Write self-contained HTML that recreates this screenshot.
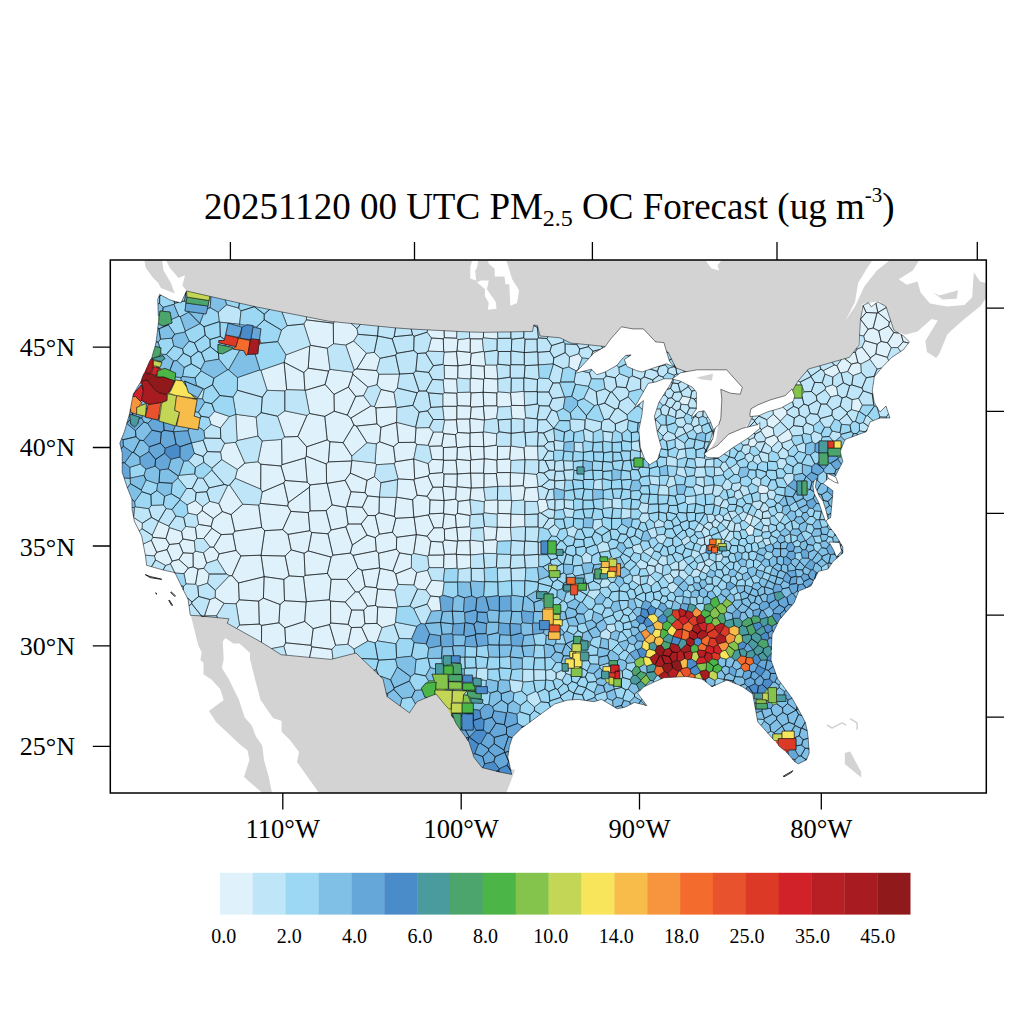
<!DOCTYPE html>
<html><head><meta charset="utf-8"><style>
html,body{margin:0;padding:0;background:#fff;width:1024px;height:1024px;overflow:hidden}
svg{display:block}
text{font-family:"Liberation Serif",serif;fill:#000}
</style></head><body>
<svg width="1024" height="1024" viewBox="0 0 1024 1024">
<defs><clipPath id="fr"><rect x="110.3" y="260" width="876" height="533"/></clipPath></defs>
<text x="204" y="218.5" font-size="37">20251120 00 UTC PM<tspan font-size="24" dy="7">2.5</tspan><tspan dy="-7"> OC Forecast (ug m</tspan><tspan font-size="21" dy="-17">-3</tspan><tspan dy="17">)</tspan></text>
<g clip-path="url(#fr)">
<polygon points="144.4,260.0 145.6,267.7 153.2,277.9 158.3,283.0 160.9,288.0 173.6,293.0 179.9,295.6 186.0,300.0 254.0,312.0 330.0,328.0 400.0,336.0 476.0,338.0 532.0,338.0 560.0,345.0 606.0,352.0 650.0,348.0 676.0,372.0 722.0,400.0 716.0,440.0 706.0,456.0 735.0,442.0 752.0,418.0 790.0,402.0 800.0,385.0 850.0,362.0 858.0,345.0 862.0,304.0 880.0,301.0 894.0,330.0 905.0,334.7 917.5,331.6 931.6,319.0 937.8,320.6 925.3,340.9 926.9,351.9 936.2,358.1 939.4,353.4 947.2,334.7 951.9,330.0 964.4,319.0 980.0,306.6 986.2,298.0 986.2,260.0" fill="#d3d3d3"/>
<polygon points="262.5,793.0 244.0,777.0 249.4,760.0 247.6,750.4 240.0,744.5 216.0,722.0 209.0,711.0 223.7,700.0 220.2,689.1 211.4,679.4 203.5,674.2 203.5,662.7 200.4,660.1 201.7,652.2 198.2,645.2 195.5,634.6 190.0,612.0 207.0,611.0 229.0,613.0 249.0,630.0 265.0,639.0 281.0,648.0 331.0,653.0 356.0,647.0 383.0,673.0 387.0,690.0 401.0,700.0 409.7,707.0 417.0,695.0 426.0,692.0 436.0,688.0 446.5,700.0 456.6,718.0 469.0,736.0 474.0,751.0 482.0,761.0 502.0,767.0 515.0,770.0 511.7,779.0 506.2,793.0" fill="#d3d3d3"/>
<polygon points="844.8,753.0 850.2,751.6 861.2,772.1 861.2,777.6 844.8,763.9" fill="#d3d3d3"/>
<polygon points="919.0,260.5 912.8,270.6 898.8,279.2 906.6,284.7 917.5,281.6 920.6,292.5 930.0,303.4 947.2,306.6 964.4,305.0 972.2,297.2 973.8,272.2 980.0,281.6 986.2,283.1 986.2,260.5" fill="#ffffff"/>
<polygon points="845.6,320.6 855.0,301.9 858.1,283.1 867.5,267.5 872.2,260.5 889.4,260.5 876.9,270.6 864.4,286.2 855.0,306.6" fill="#ffffff"/>
<polygon points="705.8,260.5 721.4,260.5 717.5,265.2 719.0,270.6 711.2,268.3" fill="#ffffff"/>
<polygon points="472.2,260.5 478.1,260.5 477.1,267.7 475.2,270.6 476.1,280.4 470.3,278.4 470.3,266.7" fill="#ffffff"/>
<polygon points="477.1,282.3 481.0,280.4 488.8,280.4 486.9,289.2 495.7,301.9 496.6,308.7 487.9,309.7 488.8,302.9 484.9,296.0 484.9,289.2" fill="#ffffff"/>
<polygon points="487.9,260.5 506.4,260.5 512.3,279.4 519.1,290.2 517.1,302.9 510.3,305.8 509.3,284.3 505.4,284.3 504.5,276.5 494.7,276.5 494.7,268.7 488.8,263.8" fill="#ffffff"/>
<polygon points="162.1,260.0 166.0,260.0 169.7,267.7 178.6,277.9 185.0,275.3 182.4,285.5 186.2,290.5 184.0,300.0 181.0,303.0 176.0,297.0 171.0,283.0 163.4,270.2" fill="#ffffff"/>
<polygon points="225.4,638.1 233.3,643.4 239.5,643.4 250.0,653.1 250.0,659.2 255.3,680.3 260.6,700.0 273.0,718.0 281.6,721.0 281.6,731.7 290.0,740.0 299.0,752.0 297.0,762.0 319.0,793.0 272.0,793.0 269.0,778.0 264.0,760.0 262.3,745.8 255.8,736.3 251.8,725.6 244.7,717.6 239.0,700.0 229.0,679.4 221.9,668.0 223.7,659.2 222.8,641.6" fill="#ffffff"/>
<polygon points="933.1,292.5 939.4,295.6 958.1,290.2 956.6,298.8 942.5,299.5" fill="#d3d3d3"/>
<path fill="#66a7da" d="M239.2 326.4l3 0.8l3.9-2l-6.4-1zM256.7 326.9l-3.7-0.6l-1.4 8.7l1.5-7.8l3.9 0.8z"/><path fill="#4a8bc9" d="M463.3 683.1l10 0l0-2.9l-0.9-0.1l0 2.1l-9.1 0z"/><path fill="#4a9b9d" d="M441.8 663.7l1.6 0l0-5.4l-1.6 0zM471.2 701.1l-0.6-3.1l4.1 0.3l-3.2-0.3l-3.2-1.9l1.7 4.8zM478 698.6l-3.3-0.3l-0.3 0.2l4.2 0.7zM157.9 360.7l-4.7-1.2l0 1l4.5 1zM159.2 356.2l-0.4-0.1l-4.8 1.8l5.1-1.3zM152.2 355.9l-1.7 3.6l2.7 0l-1.9-0.9l0.9-0.2zM570.2 591.7l0.2-0.7l-6.1 0l1.9 1.7zM581.1 640l0 0.9l5.9 0l-5-1.4zM586.2 650.7l0.5-0.7l-5.6 0l0 0.7zM590.6 644.8l-0.3-2.9l-2.3-0.7l0 7.1zM578.1 585l0-1.6l-3 0l0 0.2zM586.8 660.6l-4.9 0l0 0.7zM589.6 655.4l-0.9-1.2l0 4.6zM586.2 650.7l-5.1 0l0 0.8l-0.7 0l-0.1 1.5l0.1-0.7l7 0z"/><path fill="#4ba56c" d="M448.7 679.5l0-4.8l4.2 0l0-0.4l-5.1 0l0.1 5.2zM548.5 593l-1.4 0.3l0 0.7l1.9 0zM541.3 599.8l2.8 2.9l0-4.2l-2.7 0zM461 716.7l0 10.9l0.9-0.2l0-10.7zM453.2 717.2l-0.2 0.8l2.5 4.5l-1.9-5.3zM161.4 354.3l-0.8-3.2l-0.6 4.4zM158.3 315.8l0 7.8l1.1-8.4zM829.5 463.2l-1.5-3l0 4.5zM841 454.4l0 1.6l-4.1 0l1.1 2l3.6-1.3zM841.6 448l-0.6 0l0 1.7zM809.1 489.5l-2.1-1.6l0 3.6zM828.8 456l-0.8 0l0 2z"/><path fill="#4bb548" d="M443.8 669.6l0-3.7l9 0l-1.5-3l0 1.7l-7.9 0.9l0 4.2zM443.4 669.7l0 4.6l0.4 0l0-4.7zM428.4 680.7l-0.8 2.2l7.2-0.6l-0.4-1.6zM463.2 690.3l11.8 0.9l0-1.1zM474.8 685.7l-0.3 0l0.4 3.8zM466.7 713.7l0.8-0.8l-1.4 0z"/><path fill="#84c44d" d="M439.4 689.2l-3 0l-0.6-2.5l-0.4 3.4l3.1 0.1zM458.4 702.7l0.5 0.6l12.6 0l-0.3-2.2l-1.2-0.2l0.6 1.5zM804.3 391.8l-2.3-5.5l0 8.3zM757.1 699.7l5.5 0l0-0.9l-5.5 0zM768 689.1l-0.6 0l-3.8 4.1l4.6 0zM772.9 705.2l3.9-1.2l0.8-2.5l-1.1 0l0 1l-5.4 0z"/><path fill="#c3d655" d="M554.6 613.7l-1.4 0l0 0.7l1.5 0zM452.2 691.2l-0.6 12.1l5.6 0l1.4-0.9l-6.4 0l0.4-11.3zM444.8 689.2l-5.4 0l-0.9 1l7.8 0.2zM451.8 712.9l-0.5 0l0-3.5l-2.6-0.8l-3.2-3.2l5.6 9.3l0.5 0.1zM457.2 703.3l1.7 0l-0.5-0.6zM580.4 651.5l-4.6 0l0 1.5l4.5 0zM169 391.9l-2.1 2.8l0 5.8l1-6.8l8.7 2l-7.8-2.5l1.1-1.3zM155.5 367.2l0.8-0.9l-3.1-0.9l0 1zM164.5 401.4l-3.5 1.4l-2 11.9l0.9 0.7l2.1-12.9zM718 547.5l0-2l-0.9 0l0.1 1.5zM611.4 557l-3.8 2.3l0 2.2l1.5 0l0-2.3l5 0zM606.5 682.6l2.6 0.3l0-4.2l-4.2 0zM775.4 741.8l2-1.3l-3.1 0z"/><path fill="#f8e55b" d="M571.8 659l1 0l0-1.5l-1.9 0zM580.3 666.6l-6 0l0 1.5l4.4 0l1.6-1zM178.9 396.1l13.1 2.5l0.4-0.4l-0.1-0.2z"/><path fill="#f8bc4b" d="M544.5 609.1l8.7 0l0-1.5l-8.5 0zM553.2 625l0-0.7l-3.8 0l0 0.7zM601.1 564.1l0.2 3.4l0.3 0l0-3.8z"/><path fill="#f7943e" d="M141 403.2l-2.1 3.3l3.4-1.4zM618.8 575.8l-2.1 0l0-3.7l-1.5 0l0 3.1l2 1.3zM621 568.2l-0.5-0.1l0 1.7z"/><path fill="#f36b2d" d="M709.4 545l5.6 0l0 2l2.2 0l-0.1-1.5l-1.1 0l0-1l-6.2 0z"/><path fill="#e8522c" d="M579.6 590.8l-0.1-0.6l-1.4 0l0-5.2l-3-1.4l0 0.6l-2.7 0l-0.2 0.7l5.2 0l0 7.5z"/><path fill="#dc3a27" d="M237.5 337l-11.7-2l11.5 2.9zM778.4 745.3l0-4.8l-1 0l-2 1.3zM789.8 749.8l-6.3 0l2.5 2.1l2.1 0.1z"/><path fill="#d12229" d="M156.2 366.6l-0.7 0.6l3.5 1.1l-0.7 2.5l4-1.5zM152.5 369.5l-1.6 2.5l0.7 1zM619.8 669.9l-0.8-1.8l0 2.1z"/><path fill="#a81c21" d="M260.9 343.3l-1.3-5.1l-0.9 7.3zM146.1 368.2l0.8 0.5l1.9-5.8zM148.8 373.9l2.5 0.3l0.3-1.2l-0.7-1l-0.6 1.2l-1 0zM146.1 368.2l-2.1 5.1l4.8 0.6l0.5-0.7l-3.9 0l1.5-4.5zM139.9 383.1l2 0.1l-0.4-2.2l1-4.3z"/><path fill="#90191b" d="M153 375l4.1 2.1l0-1.9l-4.5-0.8zM152.6 374.4l-1.3-0.2l1.7 0.8z"/><g stroke="#000" stroke-width="0.5" stroke-linejoin="round"><path fill="#dff2fb" d="M334.4 321.8l-6-0.6l-21.9-4.4l-0.2 3l27 3.4zM310.5 345.3l16.8 2.9l6.2-4.4l-0.2-20.6l-27-3.4l-2.5 4.2zM357 328.6l-5.8-5.1l-16.8-1.7l-1.1 1.4l0.2 20.6l12.2 1.3l8-4.1l4.3-6.7zM284.1 362.3l19.7 10.2l4.4-4.3l1.6-22.3l-23.9 9zM310.5 345.3l-0.7 0.6l-1.6 22.3l20.4 2.9l1.4-1.8l-2.7-21.1zM284.8 391l1.9-1.3l-2.6-27.4l-23.3 8l6.3 20zM304.9 390.1l-1.1-17.6l-19.7-10.2l2.6 27.4zM303.8 372.5l1.1 17.6l0.3 0.3l19.9-5.9l3.5-13.4l-20.4-2.9zM330 369.3l-1.4 1.8l-3.5 13.4l8.9 9.9l14.4-7.3l4.4-12.9l-0.2-2zM309.5 413.5l15.3 2.9l9.5-5.2l-0.3-16.8l-8.9-9.9l-19.9 5.9zM334 394.4l0.3 16.8l13 3.9l8.4-18.7l-7.3-9.3zM235.8 414.3l1.3 26.4l20.9-4.6l-1.8-19.1zM307 415.4l-22.2-4.6l-7.3 5.4l7.1 20.8l13.2-0.5zM324.8 416.4l-15.3-2.9l-2.5 1.9l-9.2 21.1l8.9 10.3l20.5-6.9zM350.8 418.1l-3.5-3l-13-3.9l-9.5 5.2l2.4 23.5l2.7 1.8l13.2 1l10.7-17.8zM235.7 442.3l-11.1 1l-4.1 8.7l1.2 7.6l15.6 9.9l7.6-6.4zM260.8 464.2l20.2 1.8l1-1.3l-0.4-25.3l-19.5 1.5l-4.2 20.8zM297.8 436.5l-13.2 0.5l-3 2.4l0.4 25.3l23.2-6.8l1.1-1.7l0.4-9.4zM327.2 439.9l-20.5 6.9l-0.4 9.4l20 7.8l2.1-2.1l1.5-20.2zM343.1 442.7l-13.2-1l-1.5 20.2l23.3-0.9l0.3-0.6l-0.2-4.3zM260.7 489.2l0.1-25l-2.9-2.5l-13 1.4l-7.6 6.4l-2.1 8.8zM283.8 482.8l1.4-2.3l-4.2-14.5l-20.2-1.8l-0.1 25l1.4 2.8zM305.2 457.9l-23.2 6.8l-1 1.3l4.2 14.5l22 1.7zM305.2 457.9l2 24.3l2.9 2.7l16.5-1.8l-0.3-19.1l-20-7.8zM326.6 483.1l0.6 0.3l17.9-3.1l5.3-7.2l1.3-12.1l-23.3 0.9l-2.1 2.1zM231.1 514.6l11.7-10.4l-13.1-19.2l-2 0.4l-8.9 18.1l3.6 8.1zM287.7 506l0.6-3.3l-4.5-19.9l-21.7 9.2l-2 11.3zM309.4 487.2l0.7-2.3l-2.9-2.7l-22-1.7l-1.4 2.3l4.5 19.9zM310.1 484.9l-0.7 2.3l0.7 23.7l16-0.3l6-5.7l-4.9-21.5l-0.6-0.3zM345.7 507.4l1.2-1l4.1-14.7l-5.9-11.4l-17.9 3.1l4.9 21.5zM211.1 526.4l0.8 1.9l9.3 6.3l11.7-0.6l1.9-2.8l-3.7-16.6l-8.7-3l-9.1 6.9zM234.8 531.2l26.9-3.8l-3-22.4l-15.9-0.8l-11.7 10.4zM264.7 530.7l17.9-1.1l8.3-18.2l-3.2-5.4l-27.6-2.7l-1.4 1.7l3 22.4zM282.6 529.6l5.4 4.8l21.9-3.7l-1.6-18.1l-17.4-1.2zM311.7 532.5l16.3 1.3l3-3.8l-4.9-19.4l-16 0.3l-1.8 1.7l1.6 18.1zM348.1 524l-2.4-16.6l-13.6-2.5l-6 5.7l4.9 19.4l14.8-3.1zM219.1 553.9l16.9-3.5l-3.1-16.4l-11.7 0.6l-7.6 12.6zM236 550.4l4.9 5.5l20.1-0.7l3.7-24.5l-3-3.3l-26.9 3.8l-1.9 2.8zM264.7 530.7l-3.5 24.8l23.9 0.5l6.1-6.1l-3.2-15.5l-5.4-4.8zM291.2 549.9l12.9 3.4l4.1-2.4l3.5-18.4l-1.8-1.8l-21.9 3.7zM308.2 550.9l22.9 6.2l1.8-1.9l-4.9-21.4l-16.3-1.3zM350.3 553.1l2.1-8.1l-6.6-18.1l-14.8 3.1l-3 3.8l4.9 21.4zM219.1 553.9l-1.8 5.7l9 14.4l3.1 1.7l2.7 0l8.8-19.8l-4.9-5.5zM261 555.2l-20.1 0.7l-8.8 19.8l6.4 7.3l25.6-6.3zM289.1 575.9l-4-19.9l-23.9-0.5l3 21.1l19.6 2.8zM305.1 575.4l-1-22.1l-12.9-3.4l-6.1 6.1l4 19.9l14.4 0.9zM305.1 575.4l22.3-2l3.7-16.3l-22.9-6.2l-4.1 2.4zM353 555.4l-2.7-2.3l-17.4 2.1l-1.8 1.9l-3.7 16.3l3.7 5.9l15.6 0.1l11.2-11.2zM232.1 575.7l-2.7 0l-14.1 14.6l-0.2 7.2l9 5.9l12 0.4l3.1-4l-0.7-16.8zM263.4 598.1l0.7-21.4l-25.6 6.3l0.7 16.8l19.5 1.3zM263.4 598.1l16.6 6.4l4.5-3.8l-0.7-21.3l-19.6-2.8zM306.1 602l0.3-0.3l-2.9-24.9l-14.4-0.9l-5.3 3.5l0.7 21.3zM329.3 599.8l1.8-20.5l-3.7-5.9l-22.3 2l-1.6 1.4l2.9 24.9zM346.7 579.4l-15.6-0.1l-1.8 20.5l1.2 1.3l14.7 0.9l10.2-10.1zM239.5 625l19.8-0.9l-0.6-23l-19.5-1.3l-3.1 4zM261.6 625.4l17.3-2.6l1.1-18.3l-16.6-6.4l-4.7 3l0.6 23zM280 604.5l-1.1 18.3l5.9 5l19.9-6.4l1.4-19.4l-21.6-1.3zM329.3 599.8l-22.9 1.9l-0.3 0.3l-1.4 19.4l8.5 7.2l16.3-4l1.2-1.6l-0.2-21.9zM345.2 602l-14.7-0.9l0.2 21.9l17.4 1.4l3.6-14.4zM259.3 624.1l-19.8 0.9l-2.8 3.5l24.8 13.8l0.1-16.9zM285.7 642.8l-0.9-15l-5.9-5l-17.3 2.6l-0.1 16.9l10.1 6.3l12.2-2.3zM304.7 621.4l-19.9 6.4l0.9 15l25.3 2.5l2.2-16.7zM313.2 628.6l-2.2 16.7l0.8 1.5l20.2 2.6l3.6-4.1l-6.1-20.7zM348.1 624.4l-17.4-1.4l-1.2 1.6l6.1 20.7l12.2-1l3.6-16.8zM283.8 646.3l2.5 8.9l23.3 2.2l2.2-10.6l-0.8-1.5l-25.3-2.5zM311.8 646.8l-2.2 10.6l21.4 2l1.9-0.5l-0.9-9.5zM374.3 352.3l-7.8 0.9l-9.8 15.7l20.1 1.7l3.3-12.3zM377 384.8l1.8-10.6l-2-3.6l-20.1-1.7l-2.5 1.1l-1.6 2.2l0.2 2l15.1 12.9zM377 384.8l4 4.7l13 2.8l3.4-4.2l2.2-14.1l-20.8 0.2zM394 392.3l-13-2.8l-6.6 17.1l1.5 1.3l20.4-1.2zM371 405.9l-20.2 12.2l3 6.8l2.6 1.2l20.5-2.2l-1-16l-1.5-1.3zM397 407.6l-0.7-0.9l-20.4 1.2l1 16l4 3.4l15.5-4.8zM380.9 427.3l-4-3.4l-20.5 2.2l10.6 16.7l9.3 1.1l3.3-2.2zM379.6 441.7l13.9 5l5-4.2l-2.1-20l-15.5 4.8zM396.6 422.3l1.9 20.2l16.6-0.2l0.9-14.5l-0.4-0.7zM416.7 444.5l11.4 0.9l5.4-13.5l-4.3-4.3l-13.2 0.2l-0.9 14.5zM376.5 464.7l17.7-1l1.2-1.9l-1.9-15.1l-13.9-5l-3.3 2.2l-1.3 19.2zM413.8 458.9l2.9-14.4l-1.6-2.2l-16.6 0.2l-5 4.2l1.9 15.1zM352 460.4l-1.6 12.7l16.6 7.2l7.5-3.7l2-11.9l-1.5-1.6zM395.4 461.8l-1.2 1.9l3.8 15.2l15.9 0.9l0.8-0.9l-1-19.9zM429.7 473.7l-1.6-10.2l-14.4-4.5l1 19.9l13.3-2.9zM367.6 495.9l11.9 1.1l1.4-14.3l-6.4-6.1l-7.5 3.7l-2 12.4zM397.6 479.6l-1 17.6l16 2.6l4.5-4.6l-3.2-15.4l-15.9-0.9zM417.1 495.2l10 1.1l5.8-9.1l-4.9-11.2l-13.3 2.9l-0.8 0.9zM362.3 507.3l5.5 8.2l7.4 0.1l3.8-2.7l0.3-15.8l-11.7-1.2zM394.4 516.4l1.8-18.9l-16.7-0.5l-0.5 15.9zM394.4 516.4l1.4 1.9l18-1.1l-1.2-17.4l-16-2.6l-0.4 0.3zM417.1 495.2l-4.5 4.6l1.2 17.4l14.6-2.3l1.1-1l0.5-14l-2.9-3.6zM375.3 537.6l4-3.4l-4.1-18.6l-7.4-0.1l-6.7 8.5l6 11.2zM392.4 532.2l3.4-13.9l-1.4-1.9l-15.4-3.5l-3.8 2.7l4.1 18.6zM414.1 517.4l-18.3 0.9l-3.4 13.9l4.3 5.1l19.7-2.7zM433.9 527.9l-5.5-13l-14.3 2.5l2.3 17.2l10.7 1.6zM350.3 553.1l2.7 2.3l23.3-4.6l-1-13.2l-8.2-2.4l-14.7 9.8zM392.4 532.2l-13.1 2l-4 3.4l1 13.2l2.2 2.5l17.9-4.1l0.3-11.9zM396.4 549.2l3.2 3.7l11.9 2l2.1-1.4l2.6-18.7l-19.5 2.5zM427.6 556.2l1.2-1l2.1-13.9l-3.8-5.1l-10.7-1.6l-2.8 18.9zM357.9 568.2l4 2.1l17.7-2.4l-1.1-14.6l-2.2-2.5l-23.3 4.6zM378.5 553.3l1.1 14.6l0.5 0.5l12.8 2.6l6.7-18.1l-3.2-3.7zM395.7 573.9l15.7-6.2l0.1-12.8l-11.9-2l-6.7 18.1zM380.1 568.4l-0.5-0.5l-17.7 2.4l3.3 16.3l11.2 1.1zM380.1 568.4l-3.7 19.3l1.2 1.3l17.3 1.1l3.2-5.7l-2.4-10.5l-2.8-2.9zM413.9 585.1l2.8-12.6l-5.3-4.8l-15.7 6.2l2.4 10.5zM416.7 572.5l-2.8 12.6l3.6 4l8.3 0.8l5.7-9.6l-3.9-10.1zM377.6 589l-1.2-1.3l-11.2-1.1l-6.4 5.3l8.7 14.4l7.9-0.9zM396.9 607.9l1-1.1l-3-16.7l-17.3-1.1l-2.2 16.4l2.3 1.5zM364.9 623.7l12.1-0.3l0.7-16.5l-2.3-1.5l-7.9 0.9l-3.8 3.8zM394.3 624.5l1.3-2.3l1.3-14.3l-19.2-1l-0.7 16.5l5.1 4.2zM377.4 640.9l4.7-13.3l-5.1-4.2l-12.1 0.3l-3.3 3.6l6.3 13.7l7.1 1.9zM444.1 330.7l-16.4-0.8l-0.7 2.3l4.4 5.8l11.9 0.8l1-1.1zM456.6 338.2l0.4-6.8l-12.9-0.7l0.2 7zM470.3 338.8l12.1 0.1l0.9-1l0.3-5.6l-14.1-0.3l0.1 6.2zM497.2 339.1l0.7-0.7l-0.3-6.3l-14 0.2l-0.3 5.6zM443.3 338.8l-11.9-0.8l-3.4 13.2l15.7 0.5zM458 339.6l-1.4-1.4l-12.3-0.5l-1 1.1l0.4 12.9l0.3 0.4l12.4-0.5l0.6-0.5zM470.3 338.8l-0.7-0.6l-11.6 1.4l-1 11.5l13.2 1.3zM483.6 351.4l-1.2-12.5l-12.1-0.1l-0.1 13.6l1 1zM457.9 365.8l-1.5-14.2l-12.4 0.5l-1 12.3l1 1zM470.2 364.4l1-11l-1-1l-13.2-1.3l-0.6 0.5l1.6 14.1zM471.1 365.3l13.1 0.9l1.4-1.3l-1.3-13l-0.7-0.5l-12.4 2l-1 11zM456.7 379l1-0.9l0.2-12.3l-13.9-0.4l0.5 13.2zM457.7 378.1l12.4 0.9l0.9-0.8l0.1-12.9l-0.9-0.9l-12.3 1.4zM484.2 366.2l-13.1-0.9l-0.1 12.9l12.7 1l0.9-0.9zM497.8 378.9l-1-13.9l-11.2-0.1l-1.4 1.3l0.4 12.1zM456.8 393.2l0.7-0.7l-0.8-13.5l-12.2-0.4l-1.4 1.4l1 12.7zM483.7 379.2l-12.7-1l-0.9 0.8l-0.1 13l1 0.9l12.2-0.6zM496.8 392.9l1.3-1.2l-0.5-12.5l-13-0.9l-0.9 0.9l-0.5 13.1zM456.8 393.2l-12.7-0.5l-1.3 1.3l0 12.3l14 0l0.5-0.6zM470 392l-12.5 0.5l-0.7 0.7l0.5 12.5l13.1 0.5l0.6-13.3zM483.8 405.9l-0.7-13.6l-12.1 0.6l-0.6 13.3l0.8 0.9l12.1-0.6zM496.8 392.9l-13.7-0.6l0.7 13.6l13-0.1zM496.8 405.8l1.2 1.3l12.8-0.8l0.8-0.9l-1.1-12.5l-12.4-1.2l-1.3 1.2zM524.6 405.6l-0.4-13.9l-0.4-0.4l-12.8 1.1l-0.5 0.5l1.1 12.5zM442.5 406.7l1.5 12.8l0.5 0.5l11.8-0.3l0.5-0.6l0-12.8l-14 0zM471.2 407.1l-0.8-0.9l-13.1-0.5l-0.5 0.6l0 12.8l12.9-0.1l0.6-0.6zM484.6 420l-1.3-13.5l-12.1 0.6l-0.9 11.3zM498 407.1l-1.2-1.3l-13 0.1l-0.5 0.6l1.3 13.5l12.1-1.6zM525.7 417.8l-1.1-12.2l-13-0.2l-0.8 0.9l1.1 12.1l12.2 1zM444.5 420l-2 12l1.3 1.6l11.8 1.1l2.1-2.2l-1.4-12.8zM456.3 419.7l1.4 12.8l12.3 0.7l0.4-0.4l-0.7-13.8l-12.9 0.1zM483.1 432.2l0.5-0.5l0.8-11.5l-14.1-1.8l-0.6 0.6l0.7 13.8zM441.7 445.9l2.1-12.3l-1.3-1.6l-9-0.1l-5.4 13.5l1.3 0.9zM443.4 447.6l13.2-0.8l-1-12.1l-11.8-1.1l-2.1 12.3zM455.6 434.7l1 12.1l0.8 0.8l12.6-1.2l0-13.2l-12.3-0.7zM470 446.4l13.7 0.2l-0.6-14.4l-12.7 0.6l-0.4 0.4zM483.9 446.8l12.4-1.6l0.5-11.5l-13.2-2l-0.5 0.5zM443.3 459.9l0.1-12.3l-1.7-1.7l-12.3 0.4l2.5 13.1zM456.6 446.8l-13.2 0.8l-0.1 12.3l0.3 0.4l12.4-0.1l0.9-0.9l0.5-11.7zM471.1 459.9l-1.2-13.5l-12.5 1.2l-0.5 11.7l13.5 1.3zM484.2 458.9l-0.5-12.3l-13.8-0.2l1.2 13.5zM497.3 459.6l0.2-13.3l-1.2-1.1l-12.4 1.6l0.5 11.9l12.4 1.4zM497.5 446.3l-0.2 13.3l12.3-0.6l1-12.7zM511 446l-0.4 0.3l-1 12.7l1.4 1.5l13.8-0.9l-0.8-11.8zM538.3 459.9l-0.7-13.7l-11.7-0.3l-1.9 1.9l0.8 11.8zM443.3 459.9l-11.4-0.5l-3.8 4.1l1.6 10.2l12.9-1.1l1-12.3zM456 460.2l-12.4 0.1l-1 12.3l1.4 1.4l13.3 0zM457.3 473.9l13.2-0.8l-0.1-12.5l-13.5-1.3l-0.9 0.9zM470.5 473.1l13 0.1l0.7-14.3l-13.1 1l-0.7 0.7zM497.2 472.6l-0.4-12.5l-12.4-1.4l-0.9 14.5l0.6 0.5l12.2-0.2zM509.6 459l-12.3 0.6l-0.5 0.5l0.4 12.5l13.3-0.1l0.5-12zM442.6 472.6l-12.9 1.1l-1.7 2.3l4.9 11.2l9.7 0l0.9-0.9l0.5-12.3zM444 474l-0.5 12.3l12.8 1.1l0.7-0.7l0.3-12.7zM471.3 487.9l-0.7-14.7l-13.3 0.8l-0.3 12.7zM483.5 473.2l-12.9 0l0.7 14.7l12.6-0.4l0.2-13.8zM497.8 486.4l-1.5-12.9l-12.2 0.2l-0.2 13.8zM497.8 486.4l12.5-0.1l0.1-13.7l-13.2 0l-0.9 0.9zM510.4 472.6l-0.1 13.7l12.9-0.6l1.1-12.4zM536.8 474.3l-12.5-1l-1.1 12.4l2 2.2l12.4-0.7l0.6-0.7zM427.1 496.3l2.9 3.6l14 0.6l-1.4-13.3l-9.7 0zM442.6 487.2l1.4 13.3l11.7-1.3l0.6-11.8l-12.8-1.1zM455.7 499.2l2.4 2.2l11.7-1.5l1.2-11.7l-14-1.5l-0.7 0.7zM471 488.2l-1 11.5l14.2 2.1l1.2-1.4l-1.7-12.7zM510.3 486.3l0.9 14l0.6 0.5l11.7-0.7l1.7-12.2l-2-2.2zM523.5 500.1l1.4 1.3l12.4 0.1l1.8-2.1l-1.5-12.2l-12.4 0.7zM443.5 513.2l0.6-12.6l-14.1-0.7l-0.5 14zM457.4 513.4l0.7-12l-2.4-2.2l-11.6 1.4l-0.6 12.6l0.7 0.7l11.2 1.2zM458.1 501.4l-0.7 12l12.8 2.1l1.1-0.9l-1.5-14.7zM497.4 499.8l-12 0.6l-1.2 1.4l-0.3 11.1l13.2 1.3l0.8-0.8l0-13.1zM497.9 513.4l12.8 0.4l1.1-13l-0.6-0.5l-13.3 0zM539.1 499.4l-1.8 2.1l1.7 11.5l1.9 0.1l7.6-4.2l-2-8.9l-1.2-0.5zM429.5 513.9l-1.1 1l5.5 13l8.7-0.2l1.6-13.8l-0.7-0.7zM444.3 529.1l12-1.8l-0.9-12.2l-11.2-1.2l-1.6 13.8zM469.6 526.7l0.6-11.2l-12.8-2.1l-2 1.7l0.9 12.2l0.4 0.3zM510.6 527.4l0.1-13.6l-12.8-0.4l-0.8 0.8l0 13zM511 514.1l-0.4 13.3l14.4-0.8l-0.2-12zM444.7 540l-0.4-10.9l-1.7-1.4l-8.7 0.2l-6.8 8.3l3.8 5.1l11.8 0.8zM457.5 541.2l0.4-0.4l-1.2-13.2l-0.4-0.3l-12 1.8l0.4 10.9zM469.6 526.7l-12.9 0.9l1.2 13.2l12-0.2l0.5-0.5l0.7-11.7zM484.5 526.4l-1.1 1.2l0.9 12.7l11.6-0.6l1.2-12.5zM511.5 540.4l-1-12.8l-13.4-0.4l-1.2 12.5l1.5 1.7l13.7-0.6zM430.9 541.3l-2.1 13.9l15.1-0.2l0.6-0.6l-1.8-12.3zM457.5 541.2l-12.8-1.2l-2 2.1l1.8 12.3l11.7-0.3zM457.9 540.8l-0.4 0.4l-1.3 12.9l0.4 0.4l13.8 0.4l-0.5-14.3zM483.8 553.4l-0.7-11.9l-12.7-1.4l-0.5 0.5l0.6 14.4l12.9-1.1zM495.9 539.7l-11.6 0.6l-1.2 1.2l0.7 11.9l12.8 0.1l0.8-12.1zM428.8 555.2l-1.2 1l1.4 11.5l14.6 0l0.3-12.7zM456.2 554.1l-11.7 0.3l-0.6 0.6l-0.3 12.7l1.1 1.1l12.4-0.5l-0.5-13.8zM456.6 554.5l0.5 13.8l1 0.9l12.5-1.3l-0.1-12.9zM444.3 582.1l-0.9-1.1l-11.9-0.7l-5.7 9.6l4.7 6.1l9.2 0.9l3-1.7zM439.7 596.9l-9.2-0.9l-3.5 8.1l4.3 7.2l9.7-0.9zM309.4 487.2l-21.1 15.5l-0.6 3.3l3.2 5.4l17.4 1.2l1.8-1.7zM355.7 396.4l-8.4 18.7l3.5 3l20.2-12.2l-7.4-10.2zM364.9 623.7l-1.2-13.6l-12-0.1l-3.6 14.4l3.3 3.1l10.2-0.2zM367.9 641l-6.3-13.7l-10.2 0.2l-3.6 16.8l6.3 4.8zM195.5 584.3l2.3 2l9.8-3l1.7-9.3l-5.4-5.7l-5.8 0.8zM351 491.7l-4.1 14.7l15.4 0.9l5.3-11.4l-2.6-3.2zM202.7 506.6l-0.5 3.9l11.1 8l9.1-6.9l-3.6-8.1l-9.1-2.2zM353.8 424.9l-10.7 17.8l8.7 13.4l15.2-13.3l-10.6-16.7zM345.7 507.4l2.4 16.6l13 0l6.7-8.5l-5.5-8.2l-15.4-0.9zM224.1 603.4l-9-5.9l-5.2 2l-5.3 16.5l11.9-0.2zM355.7 396.4l7.9-0.7l4.3-8.6l-15.1-12.9l-4.4 12.9zM351 491.7l14 1l2-12.4l-16.6-7.2l-5.3 7.2zM186 584l9.5 0.3l2.6-15.2l-4.9-2.2l-4.8 1.1l-4.4 5.7zM198.5 524.4l12.6 2l2.2-7.9l-11.1-8l-5.3 4.6zM367.1 535.2l-6-11.2l-13 0l-2.3 2.9l6.6 18.1zM210.1 547.1l3.5 0.1l7.6-12.6l-9.3-6.3l-8.2 10.2zM582.2 358.1l-3.4-4.5l-9.3 3.2l-0.8 10.2l7.2 3.8l2-0.7zM217.3 559.6l1.8-5.7l-5.5-6.7l-3.5-0.1l-6.7 5.6l3.3 10.5zM193.1 553.4l0.1 13.5l4.9 2.2l5.8-0.8l2.8-5.1l-3.3-10.5l-8-1.6zM733.6 447.6l1.5-5.1l-3.5-3.1l-3.6 2l-2.2 4.9l4.5 2.6zM208.9 417.5l2.1 7l9.4 3.5l9.2-11.5l-15-5.1zM193.1 553.4l-10-0.6l-4.2 6.7l9.5 8.5l4.8-1.1zM198.5 524.4l-3.1 3l1.4 11.1l6.9 0l8.2-10.2l-0.8-1.9zM358.8 591.9l6.4-5.3l-3.3-16.3l-4-2.1l-11.2 11.2l8.7 12.5zM186.9 504.8l1.1 8.4l8.9 1.9l5.3-4.6l0.5-3.9l-7.4-6zM366.5 353.2l-12.8-12.2l-8 4.1l8.5 24.9l2.5-1.1zM182.9 539l11.4 1.9l2.5-2.4l-1.4-11.1l-9.8-1l-4 5.1zM172.1 561.1l-1.7 2.8l4.7 9.2l8.9 0.6l4.4-5.7l-9.5-8.5zM183.1 552.8l10 0.6l2.3-2.3l-1.1-10.2l-11.4-1.9l-3.6 4.4zM367.5 606.3l-8.7-14.4l-3.4 0l-10.2 10.1l6.5 8l12 0.1zM179.3 543.4l-9.9 1.1l-2.4 5.1l5.1 11.5l6.8-1.6l4.2-6.7zM754.3 437.5l-5.1 2.2l-1 5l2.4 2.2l4.2-0.6l2.6-4.1zM156.7 552.3l-2.3 3.7l1.1 4l10.1 5.5l4.8-1.6l1.7-2.8l-5.1-11.5zM165.9 538.6l3.5 5.9l9.9-1.1l3.6-4.4l-1.3-7.5l-12.2-4zM681 404.2l7.1 0.8l2.7-7.1l-0.3-0.4l-8.2-1.5l-3.1 5.3zM777.2 437.2l-2.9-2l-8.7 3.1l-0.9 3.2l0.3 1.1l6.5 4.9l7.1-6.5zM156.7 552.3l10.3-2.7l2.4-5.1l-3.5-5.9l-13.1-1.3l-1.5 2.9zM747.8 513.8l-3.5 6.8l5.5 4.5l0.6-0.1l2.8-8.9zM156.7 552.3l-5.4-12.1l-8.1 3.8l2.2 11.2l9 0.8zM767.3 425.7l5.8 2.3l7.3-6.3l0-0.6l-7.1-6.9l-6.6 5.5zM787.1 414.1l-0.2-3.3l-5.5-5.1l-8 3.2l-0.6 1l0.5 4.3l7.1 6.9zM152.8 537.3l13.1 1.3l3.5-11.1l-0.6-1.4l-10.3-4.8l-6.3 13.9zM753.9 526.9l-4.1-1.8l-4.5 4.7l2.8 5.7l5-0.4l1.4-6.8zM761.2 429.5l-0.4 1.7l4.8 7.1l8.7-3.1l-1.2-7.2l-5.8-2.3zM758.3 486.7l-0.5 5l2.2 1.9l7.2-0.3l2-3.3l-1.6-3.5l-6.8-1.8zM791.9 398l-0.9 0l-0.1-5.6l-9.8 6.5l1.5 2.3zM142.4 523.2l-8.8-5.9l0.8 4.1l4.8 9.6l3-2.2zM800.2 382l-2-1l-2.5 4l5.8 0zM792.4 436l-3.2-6.5l-1.1-0.3l-10.9 8l1.4 3.8l3.1 2.2l9.9-3.7zM705.5 386.4l-0.5-1.4l-1.7-1.3l-0.3 1.7zM825.7 387l-0.7 2.7l5.6 7.3l7.4-1.8l-1.3-8.2l-4.2-2.3zM851.4 409.7l7.3 2l0.7-0.2l3-6.3l-3.8-6.9l-6.6 1.3zM870.4 357.9l-8.4-10.9l-5 2.1l-1.7 3l2.6 10.5l3 1.5l9-4.7zM834.3 365l-11 5.6l1.7 3.6l7.8 3l7-4.9l-2.9-6.7zM875.8 353.9l-5.4 4l-0.5 1.5l7.1 9.7l4.4-1.1l7.2-7.4l-1.1-3.2zM839.8 372.3l1.3 0.7l6.5-1.4l3.8-7.6l-6.7-5.3l-3.5 1l-4.3 5.9zM855.3 352.1l-2.2 0.5l-3.7 4.8l-4.7 1.3l6.7 5.3l6.5-1.4zM868.1 329.2l-7.6-10l-1 16l4.1 0.9zM862 347l8.4 10.9l5.4-4l1.4-9.7l-12.3-3.5zM881.1 341.4l-3.9 2.8l-1.4 9.7l11.7 3.5l3.8-9.7l-3.8-4.9zM873.2 328l3.8-15l-10.8-0.5l-5.7 6.7l7.6 10zM897.9 347.6l2.6 4l3-2l5-6.6l-5.3-1.3zM887.5 342.8l3.8 4.9l6.6-0.1l5.3-5.9l-2-7.1l-2.5-1.5l-4.9-0.6zM889.3 322l-11.4-9.5l-0.9 0.5l-3.8 15l5.5 2.8l10-4.9zM861.4 372.6l-0.5-8.5l-3-1.5l-6.5 1.4l-3.8 7.6l5.5 4.1zM893.8 332.5l-5.1-6.6l-10 4.9l2.4 10.6l6.4 1.4zM878.7 330.8l-5.5-2.8l-5.1 1.2l-4.5 6.9l1.3 4.6l12.3 3.5l3.9-2.8zM908.5 343l0.9-1.2l-5.9-5.8l-2.3-1.4l2 7.1zM889.3 322l1.5-1l-4.5-13.5l-8.2 5zM888.7 325.9l5.1 6.6l4.9 0.6l-4.9-3.1l-3-9l-1.5 1zM886 306.6l-8-4.8l-2.1 1.5l2 9.2l8.4-5zM877 313l0.9-0.5l-2-9.2l-4.6 3.5l-2.8-4.1l-5.5 2.8l3.2 7zM866.2 312.5l-3.2-7l-2.4 13.4z"/><path fill="#bfe6f8" d="M238.7 308l-12-3.3l-8.5 7.4l1 9.6l0.7 0.5l19.7 2.1l1.4-13.4zM281.9 312l5.2 13.7l16.7-1.7l2.5-4.2l0.2-3zM281.4 330.1l-3.7 11.5l8.2 13.3l23.9-9l0.7-0.6l-6.7-21.3l-16.7 1.7zM345.7 345.1l-12.2-1.3l-6.2 4.4l2.7 21.1l22.6 2.9l1.6-2.2zM260.8 370.3l-0.9-0.5l-22.4 7.7l-0.2 12.7l25 7l4.8-6.9zM256.2 417l5-4.4l1.1-15.4l-25-7l-4.3 6.9l2.8 17.2zM284.8 410.8l0-19.8l-17.7-0.7l-4.8 6.9l-1.1 15.4l16.3 3.6zM284.8 410.8l22.2 4.6l2.5-1.9l-4.3-23.1l-18.5-0.7l-1.9 1.3zM235.8 414.3l-6.2 2.2l-9.2 11.5l0.4 10.4l3.8 4.9l11.1-1l1.4-1.6zM281.6 439.4l3-2.4l-7.1-20.8l-16.3-3.6l-5 4.4l1.8 19.1l4.1 4.8zM257.9 461.7l4.2-20.8l-4.1-4.8l-20.9 4.6l-1.4 1.6l9.2 20.8zM227.7 485.4l2-0.4l5.5-6.7l2.1-8.8l-15.6-9.9l-9.8 8.7l-0.1 1.7l12.7 14.5zM242.8 504.2l15.9 0.8l1.4-1.7l2-11.3l-1.4-2.8l-25.5-10.9l-5.5 6.7zM216.5 615.8l1.1 1.9l11.4 1.1l-1.8 4.4l9.5 5.3l2.8-3.5l-3.4-21.2l-12-0.4zM271.6 648.6l9.4 6.1l5.3 0.5l-2.5-8.9zM347.8 644.3l-12.2 1l-3.6 4.1l0.9 9.5l21.9-5.6l-0.7-4.2zM378.4 326.2l-18-1.8l-3.4 4.2l1 5.7l19.5 1.6zM377.6 336l14.6 2.9l1.9-2.2l1.5-8.8l-17.2-1.7zM412.6 334.9l-1.4-5.9l-15.6-1.1l-1.5 8.8zM427 332.2l0.7-2.3l-16.5-0.9l1.4 5.9l1.5 1.4zM377.6 336l-19.6-1.7l-4.3 6.7l12.8 12.2l7.8-0.9zM377.6 336l-3.3 16.3l5.8 6l15.5-3.1l1.2-1.9l-4.6-14.4zM412.6 334.9l-18.5 1.8l-1.9 2.2l4.6 14.4l16.9-2.8l0.4-14.2zM428 351.2l3.4-13.2l-4.4-5.8l-12.9 4.1l-0.4 14.2l3.8 3l8.1-0.6zM376.8 370.6l2 3.6l20.8-0.2l-4-18.8l-15.5 3.1zM396.8 353.3l-1.2 1.9l4 18.8l13.7-0.7l2.5-2.3l1.7-17.5l-3.8-3zM417.5 353.5l-1.7 17.5l12.9 1.4l4.7-6.7l-7.8-12.8zM399.6 374l-2.2 14.1l19.7 4.7l2-1.8l-5.8-17.7zM413.3 373.3l5.8 17.7l7 0l6.3-11.6l-3.7-7l-12.9-1.4zM363.6 395.7l7.4 10.2l3.4 0.7l6.6-17.1l-4-4.7l-9.1 2.3zM394 392.3l2.3 14.4l0.7 0.9l15.9-2.3l4.2-12.5l-19.7-4.7zM419.1 391l-2 1.8l-4.2 12.5l6.3 6.8l8.3-1.2l3.3-3.5l-2.3-14.5l-2.4-1.9zM412.9 405.3l-15.9 2.3l-0.4 14.7l19 4.8l3.6-15zM433.2 419.5l-5.7-8.6l-8.3 1.2l-3.6 15l0.4 0.7l13.2-0.2zM351.8 456.1l0.2 4.3l23 2.7l1.3-19.2l-9.3-1.1zM431.9 459.4l-2.5-13.1l-1.3-0.9l-11.4-0.9l-2.9 14.4l14.3 4.6zM376.5 464.7l-2 11.9l6.4 6.1l16.7-3.1l0.4-0.7l-3.8-15.2zM396.6 497.2l1-17.6l-16.7 3.1l-1.4 14.3l16.7 0.5zM411.5 554.9l-0.1 12.8l5.3 4.8l10.9-2.3l1.4-2.5l-1.4-11.5l-14-2.7zM394.9 590.1l3 16.7l11.9-0.6l7.7-17.1l-3.6-4l-15.8-0.7zM425.8 589.9l-8.3-0.8l-7.7 17.1l3.7 2.2l13.5-4.3l3.5-8.1zM427 604.1l-13.5 4.3l7.3 15.2l4 0.5l0.9-0.6l5.6-12.2zM394.3 624.5l-12.2 3.1l-4.7 13.3l18.6 2.9l3.2-5.4zM395.6 622.2l-1.3 2.3l4.9 13.9l12.4 0.5l5.4-12.6zM457 331.4l-0.4 6.8l1.4 1.4l11.6-1.4l-0.1-6.2zM510.9 338.3l-0.1-6.4l-13.2 0.2l0.3 6.3zM511.8 339.2l11.9-1.3l0.2-6.3l-13.1 0.3l0.1 6.4zM525.1 339.2l12-0.1l1.3-1.2l-1.1-10.6l-3.6-1.8l-1.2 6l-8.6 0.1l-0.2 6.3zM538.4 337.9l8.4 0.6l1.3-1.8l-8.1-0.7l-2.2-9.1l-0.5 0.4zM483.3 337.9l-0.9 1l1.2 12.5l0.7 0.5l12.7-1.6l0.2-11.2zM511.3 351l0.5-11.8l-0.9-0.9l-13 0.1l-0.7 0.7l-0.2 11.2l1.3 1.2l12.5 0zM511.8 339.2l-0.5 11.8l13 1.5l0.8-13.3l-1.4-1.3zM525.1 339.2l-0.8 13.4l13-0.8l-0.2-12.7zM537.1 339.1l0.2 12.7l0.5 0.5l12.1-0.9l1.7-5.8l-4.8-7.1l-8.4-0.6zM443.7 351.7l-15.7-0.5l-2.4 1.7l7.8 12.8l9.6-1.3l1-12.3zM497 350.3l-12.7 1.6l1.3 13l11.2 0.1l1-0.8l0.5-12.7zM510.9 364.7l-0.1-13.2l-12.5 0l-0.5 12.7l12.4 1.2zM524.3 352.5l-13-1.5l-0.5 0.5l0.1 13.2l13.4 0.1zM537.3 351.8l-13 0.8l0 12.2l0.7 0.8l13.3-0.7l-0.5-12.6zM549.9 351.4l-12.1 0.9l0.5 12.6l14.9-1l0.6-5.9zM428.7 372.4l3.7 7l10.7 0.6l1.4-1.4l-0.5-13.2l-1-1l-9.6 1.3zM497.8 378.9l12.4-1.7l0-11.8l-12.4-1.2l-1 0.8zM510.9 364.7l-0.7 0.7l0 11.8l1.1 1l12.5-0.1l0.4-0.3l0.8-12.2l-0.7-0.8zM525 365.6l-0.8 12.2l13.3 1.7l1.8-1.6l-1.1-12.9zM426.1 391l2.4 1.9l14.3 1.1l1.3-1.3l-1-12.7l-10.7-0.6zM470.1 379l-12.4-0.9l-1 0.9l0.8 13.5l12.5-0.5zM511 392.4l0.3-14.2l-1.1-1l-12.4 1.7l0.3 12.8l12.4 1.2zM523.8 378.1l-12.5 0.1l-0.3 14.2l12.8-1.1zM523.8 378.1l0 13.2l0.4 0.4l12.9-0.1l0.4-12.1l-13.3-1.7zM539.3 377.9l-1.8 1.6l-0.4 12.1l0.3 0.4l11.4 0l4.2-9l-4.1-4.3zM430.8 407.4l11.7-0.7l0.3-0.4l0-12.3l-14.3-1.1zM524.6 405.6l12.7-1.6l0.1-12l-0.3-0.4l-12.9 0.1zM537.3 404l1.9 1.7l10 0.3l3.1-7.5l-3.5-6.5l-11.4 0zM444 419.5l-1.5-12.8l-11.7 0.7l-3.3 3.5l5.7 8.6zM498 407.1l-1.3 11.3l1.4 1.5l13.1-0.8l0.7-0.7l-1.1-12.1zM524.8 405.8l0.9 12l11.3 1.1l2.2-13.2l-1.9-1.7zM549.2 406l-10-0.3l-2.2 13.2l0.9 1l8.4-0.3l5.3-9.8zM433.5 431.9l9 0.1l2-12l-0.5-0.5l-10.8 0l-4 8.1zM483.6 431.7l13.2 2l2.2-1.9l-0.9-11.9l-1.4-1.5l-12.1 1.6zM499 431.8l12.2 1.5l0-14.2l-13.1 0.8zM511.2 433.3l12.9-1.4l0-12.5l-12.2-1l-0.7 0.7zM537 418.9l-11.3-1.1l-1.6 1.6l0 12.5l0.9 0.8l12.2-1l0.7-11.8zM553.8 428.4l-7.5-8.8l-8.4 0.3l-0.7 11.8l1.1 1l5.2 0.2zM497.5 446.3l13.1 0l0.4-0.3l0.1-12.6l-12.1-1.6l-2.2 1.9l-0.5 11.5zM524.1 431.9l-13 1.5l-0.1 12.6l13 1.8l1.9-1.9l-0.9-13.2zM525 432.7l0.9 13.2l11.5 0.1l0.9-13.3l-1.1-1zM537.6 446.2l6.2-0.2l4.3-4l-4.6-9.1l-5.2-0.2zM537.6 446.2l0.7 13.7l0.6 0.5l3.7-0.4l5.5-9.2l-4.3-4.8zM525 459.8l-14 0.7l-0.5 12l13.8 0.8zM538.9 460.4l-0.6-0.5l-13.3-0.1l-0.6 13.4l12.4 1.1l1.9-1.9zM545.2 460.6l-2.6-0.6l-3.7 0.4l-0.2 12l5.1 0.6l5.5-2.8zM549.2 479.8l-5.4-6.8l-5.1-0.6l-1.9 1.9l1.4 12.2l3.2-0.2zM485.4 500.4l12-0.6l0.3-13.2l-14 1.1zM497.8 486.4l-0.4 13.4l0.5 0.5l13.3 0l-0.9-14zM538.2 486.5l-0.6 0.7l1.5 12.2l6.2 0.1l3.6-9.9l-7.5-3.3zM470 499.7l1.3 14.9l11.7-0.7l0.9-1l0.3-11.1zM523.5 500.1l-11.7 0.7l-0.8 13.3l13.8 0.5l0.1-13.2zM524.9 501.4l-0.1 13.2l13.3-0.6l0.9-1l-1.7-11.5zM483 513.9l-11.7 0.7l-1.1 0.9l-0.6 11.2l1.5 1.7l12.3-0.8l1.1-1.2zM497.1 514.2l-13.2-1.3l-0.9 1l1.5 12.5l12.6 0.8zM524.8 514.6l0.2 12l0.5 0.4l12.6-0.1l0-12.9zM538.1 514l0 12.9l1.1 1l3.4-0.1l6.4-9.5l-8.1-5.2l-1.9-0.1zM470.4 540.1l12.7 1.4l1.2-1.2l-0.9-12.7l-12.3 0.8zM510.5 527.6l1 12.8l13.2 0.9l0.5-0.3l0.3-14l-0.5-0.4zM525.2 541l12.7 0.8l1.3-13.9l-1.1-1l-12.6 0.1zM511 555.2l13-0.3l0.7-13.6l-13.2-0.9l-0.4 0.4l-0.7 13.7zM525.2 541l-0.5 0.3l-0.7 13.6l0.4 0.4l13.9-0.9l-0.1-12.3l-0.3-0.3zM538.2 542.1l0.1 12.3l0.4 0.5l8.5-0.2l0.7-0.8l-6.9 0l0-11.9zM483.4 553.9l-12.9 1.1l0.1 12.9l0.6 0.5l13 0l0.4-0.3zM497.1 553.9l-0.5-0.4l-12.8-0.1l-0.4 0.5l1.2 14.2l11.8-0.9zM511 555.2l-0.6-0.7l-13.3-0.6l-0.7 13.3l0.9 0.8l12.9-0.3zM524 554.9l-13 0.3l-0.8 12.5l0.7 0.8l14.4-0.9l-0.9-12.3zM538.3 554.4l-13.9 0.9l0.9 12.3l0.6 0.5l11.8-0.5l1.1-1.1l-0.1-11.6zM444.7 568.8l-1.1-1.1l-14.6 0l-1.4 2.5l3.9 10.1l11.9 0.7zM471.3 581.1l-0.1-12.7l-0.6-0.5l-12.5 1.3l-0.5 12.8l12.7 0.2zM471.3 581.1l13.2 0.8l-0.3-13.5l-13 0zM497.8 582l13.6-1.3l-0.5-12.2l-0.7-0.8l-12.9 0.3zM525.9 568.1l-0.6-0.5l-14.4 0.9l0.5 12.2l13.4 0.2l0.4-0.4zM548.1 442l5.7-0.5l1-1.3l-1-11.8l-10.3 4.5zM583.3 430.3l1.2 10.6l8.5 1.4l0.3-10l-8.6-3.6zM603.2 441.2l8.7 1.1l0.9-9.9l-10.1-1.3zM543.8 446l4.3 4.8l5.5 0.7l1.2-1.2l-1-8.8l-5.7 0.5zM563.5 450.4l0.8-8l-0.8-0.9l-8.7-1.3l-1 1.3l1 8.8zM574.2 442.1l-0.1 9.1l9.2 1.3l-0.5-10zM631.6 449.9l8.7 1.8l0.3-0.3l-1.6-10.8l-7.7 1.6zM542.6 460l2.6 0.6l8.6-0.5l-0.2-8.6l-5.5-0.7zM555 461.1l-1.2-1l-8.6 0.5l4.1 9.6l5.1-0.2zM564.4 470.3l-1-9.6l-0.6-0.5l-7.8 0.9l-0.6 8.9l1 1.3l8.2-0.2zM572.7 460.9l-9.3-0.2l1 9.6l9-0.7l-0.1-8.1zM549.3 470.2l-5.5 2.8l5.4 6.8l5 0.5l1.2-9l-1-1.3zM563.6 471.1l-8.2 0.2l-1.2 9l0.5 0.6l10.5-0.7zM572.4 480.3l0.8-0.8l0.9-9.1l-0.7-0.8l-9 0.7l-0.8 0.8l1.6 9.1zM554.7 488.2l0-7.3l-0.5-0.6l-5-0.5l-7.8 6.5l7.5 3.3l4.9-0.5zM565.2 480.3l-10.5 0.6l0 7.3l9.4 2.3zM602.5 489.9l-0.3-10.8l-8.2 1l-0.8 9.1zM546.5 500l7.8-0.7l-0.5-10.2l-4.9 0.5l-3.6 9.9zM548.5 508.9l6.2 1.3l0.3-10.4l-0.7-0.5l-7.8 0.7zM563.2 509.4l1.2-1.5l-0.2-8.3l-0.4-0.4l-8.8 0.6l-0.1 10.7zM564.4 507.9l9.4 1.7l-0.3-9.5l-9.3-0.5zM612.1 499.7l-8.9-1.2l-0.2 10.1l9.1-1.2zM620.4 498.5l-6.9-0.3l-1.4 1.5l0 7.7l0.8 0.8l8.6 0.6l0.7-0.5l-0.4-8.4zM549 518.3l5.1-0.1l0.6-8l-6.2-1.3l-7.6 4.2zM563.2 509.4l2.1 7.9l7.7 0.2l1.5-7.1l-0.7-0.8l-9.4-1.7zM622.2 508.3l-0.7 0.5l-0.7 9.5l0.6 0.7l9.5-1.3l0.1-8.4zM542.6 527.8l5.5 1.7l6.6-5l0.2-5.3l-0.8-1l-5.1 0.1zM593.4 519.8l-0.9 8l2.3 3l7.8-4.9l-0.7-6.8zM640.6 451.4l7.9-2.1l-0.6-6.9l-8.7-1.7zM676.1 437.8l-1.2 1.7l0.4 7.7l3.4 2.5l6.6-1l-0.5-5.5zM716.5 448.9l4.5 0.4l1.7-2.3l-0.9-1.8zM650.4 457.8l0.1-7l-2-1.5l-8.2 2.4l-0.1 6.3l2.8 0l0 1.1l5.5 0.6zM686.4 457.3l-1.1-8.6l-6.6 1l-2.6 8.1l1.3 1.8zM676.1 457.8l-8-1.8l-1.5 1.5l-0.1 7.7l0.8 0.6l9.9 0.8l0.2-7zM704.3 457.9l-8.2-0.6l-1.6 1.8l1.5 8.2l8.8-0.3l1.1-7.3zM705.9 459.7l-1 7.4l9.1-0.2l0-8.2zM685.8 477.6l1.2-1l-2.6-9.2l-7.1-0.5l-1.2 7.7zM706.4 475.6l-1.6-8.6l-8.8 0.3l-0.7 0.9l-1 7.4l1.6 1.7l8.2-0.2zM719.9 467l-5.4 0.5l-0.2 8.4l8.9-0.9l0.6-2.7zM650.3 484.2l8.9 1.2l0.4-0.4l-0.3-8.3l-10.1-1.1zM666.1 485.4l2.6 2.1l7.5-2.7l-2-8.4l-5-0.1zM704.5 486l-0.4-8.9l-8.2 0.2l-0.1 6.9l7.8 2.8zM658 495l10.9 0.3l-0.2-7.8l-2.6-2.1l-6.5-0.4l-1.9 9.5zM695.8 484.2l-2.7 3.1l2.8 8.2l7.7-1.8l0-6.7zM712.4 493.9l1.6-9.3l-9.5 1.4l-0.9 1l0 6.7l1.5 1zM715 496.5l4.4-0.6l4.2-6.6l-1.8-3.3l-7.5-1.1l-1.9 9zM695.9 495.5l-10.3 1.1l-0.5 5.5l2.5 2.5l8.2-1zM723.6 499.7l-4.2-3.8l-4.4 0.6l-1.2 7.6l0.7 0.8l5.3 1.5zM641 502.6l-2.8 6.4l3.6 4.2l6.1-0.2l0.9-8.7l-0.7-0.7zM641.8 513.2l-3.1 5.7l2.1 3.3l4.6 0.7l4.1-3.8l-0.6-5.3l-1-0.8zM706.6 514.4l1.4 7.7l3.8 0.9l3.4-3.8l-0.4-3.4l-2.3-1.6zM715.2 519.2l5.2 3.7l0.7-0.1l2.5-3.2l-0.4-3.4l-3.9-2.2l-4.5 1.8zM486.4 680.5l1.4-1.2l0.1-10l-1.2-1.4l-9.8 0.5l-0.9 9.7l5.2 0.6l0 1.3zM533.5 681.2l0.5-0.7l-0.3-10.8l-11-0.5l-0.2 12l0.7 0.9zM545.5 680.3l0.3-0.3l-0.2-9.9l-0.4-0.4l-11.5 0l0.3 10.8zM551.6 669.4l-6 0.7l0.2 9.9l7.1 0.8l3.2-2.3l0.1-5.7zM510.7 690.8l3.2 2.2l7.8-1.9l1.5-9l-0.7-0.9l-12.5-1.6l-0.8 0.8zM563.7 341.9l-12.1 3.7l-1.7 5.8l3.9 6.6l11.3-5.4l0-8.8zM220.5 452l-13.2-0.4l-4.2 4.9l0.8 5.9l8 5.9l9.8-8.7zM574 432.5l9.3-2.2l1.4-1.6l0.4-8.8l-13.9-1l-1.5 1.8l0.6 9.1zM226.3 574l-17 0l-1.7 9.3l7.7 7l14.1-14.6zM548.1 529.5l3.4 6.6l5.2 0.4l3.2-7.2l-5.2-4.8zM551.6 409.8l5.1 1.9l6.7-3.3l1.8-11.2l-0.5-0.3l-12.4 1.6l-3.1 7.5zM725.8 446.3l-3.1 0.7l-1.7 2.3l0.7 3.3l7.4 4.3l1.2-8zM646.7 413.3l-4.4 8.4l4.2 5.5l4.8 0.1l4.6-7.7l-0.1-0.6zM567.7 535.5l6.6 2.1l3.4-8.3l-4.4-3.3l-6.9 2.7zM713.4 434.7l1-3.7l-1.5 0.4zM693.5 427.1l-2.6-3.1l-4.7-0.5l-3.3 3.8l3 5.8l0.5 0.2l6.8-3.9zM215.3 590.3l-7.7-7l-9.8 3l0.9 10.2l11.2 3l5.2-2zM654.6 431.1l-3.3-3.8l-4.8-0.1l-1.7 5.4l6.1 5.9zM563 368.6l-9.7-4.6l-4.4 14.7l4.1 4.3l6.6-0.2l0.9-0.7zM569.5 356.8l-4.4-4.2l-11.3 5.4l-0.6 5.9l9.8 4.7l5.7-1.6zM564.6 671.2l-2.4 0l0-1.2l-6 2.8l-0.1 5.7l6.1 1.9l3.8-6.7zM206.7 491.7l-10.6 0.9l-0.8 8l7.4 6l7-5.3zM548.8 392l3.5 6.5l12.4-1.6l-5.1-14.1l-6.6 0.2zM198.7 596.5l-0.9-10.2l-2.3-2l-9.5-0.3l-2.5 2.4l-0.2 3.5l4.1 8.1l4.6 3.9zM203.8 430.8l1.1 7.3l15.9 0.3l-0.4-10.4l-9.4-3.5zM559.5 420.6l-2.8-8.9l-5.1-1.9l-5.3 9.8l7.5 8.8zM647.7 529.9l-0.4 0.5l4 7.7l4.1-0.3l2-2.9l-1.9-7l-0.8-0.6zM725.5 461.8l-3 0.4l-2.6 4.8l3.9 5.3l5.3-4.3zM694.3 530.3l0.8 1.6l6.3-0.3l2.6-4.6l-0.4-1.4l-4.8-2.8zM682.9 427.3l-4.9-0.4l-3.3 7.3l1.4 3.6l9.8-4.7zM676.1 437.8l-1.4-3.6l-6.9-2.9l-4.9 4.8l-0.3 2.9l3.8 2.4l8.5-1.9zM192.2 488.5l3.9 4.1l10.6-0.9l2.4-3.8l-6-9.7l-5.3-0.4zM526.8 695.5l0.1 5l7.6 6.6l6.7-5.3l-3.6-9.5l-2.2-0.9zM601.1 429.1l1.6 2l10.1 1.3l2.7-2l-0.2-6.5l-6.3-5l-5.1 0.8l-2.2 2.3zM664.4 522.4l-5.8-3l-4.2 3.1l0.3 4.8l0.8 0.6l8.6-1.3zM188.1 599.5l0.9 6.4l2.7-2.3l0.3-1.7l-4.6-3.9zM203.9 568.3l5.4 5.7l17 0l-9-14.4l-10.6 3.6zM727.3 499.6l-3.7 0.1l-3.8 6.7l0.9 1l6.4 1.3l2.2-4.3zM584.7 428.7l8.6 3.6l7.8-3.2l0.6-7.1l-15.4-3.6l-1.2 1.5zM204.9 438.1l-1.7 2.1l4.1 11.4l13.2 0.4l4.1-8.7l-3.8-4.9zM723.6 519.6l6.6 1.5l1.5-0.8l0.2-0.8l-3.6-7.3l-5.1 4zM198.7 596.5l-6.7 5.4l-0.3 1.7l9.7 12.3l2.8 0.4l5.7-16.8zM203.1 456.5l4.2-4.9l-4.1-11.4l-11.8 2.8l2.9 10.4zM195.4 551.1l8 1.6l6.7-5.6l-6.4-8.6l-6.9 0l-2.5 2.4zM537.8 326.9l-0.3-1.4l-3.7-0.5l-0.1 0.5l3.6 1.8zM682.9 427.3l3.3-3.8l-2.4-6.1l-7.8 1.2l-0.9 4.1l2.9 4.2zM178.2 475.9l-0.3 2.1l8.6 10.5l5.7 0l5.6-10.7l-3.1-3.9l-15.7 1.3zM589 387.4l-5.3 11.2l10.7 7l3.3-0.8l-1.5-13.2zM627.5 419l-0.3-4.2l-9-6.7l-3.1 1l-6.1 9.8l6.3 5zM709.4 530.4l3.6-3.5l-1.2-3.9l-3.8-0.9l-4.4 3.5l0.4 1.4zM551.6 345.6l12.1-3.7l0-2.3l-3.7-1.8l-11.9-1.1l-1.3 1.8zM209.1 487.9l15.4-3.4l-12.7-14.5l-8.7 8.2zM566 673.7l5.3 1.4l0-7l-3 0l0 3.1l-3.7 0zM190.3 615.3l11.1 0.6l-9.7-12.3l-2.7 2.3zM633.9 552.5l7 1.9l2.3-2.4l0.2-0.8l-3.2-7.6l-7.1 1.9l-1.1 2zM627.5 419l-12.2 4.9l0.2 6.5l6.3 3.1l5.7-4.1l1-9zM713 526.9l3.9 1l3.5-5l-5.2-3.7l-3.4 3.8zM565.1 343.8l0 8.8l4.4 4.2l9.3-3.2l0.9-4.6l-2.7-4.3zM204.6 616l-0.3 0.4l13.3 1.3l-1.1-1.9zM206.7 491.7l3 9.6l9.1 2.2l8.9-18.1l-3.2-0.9l-15.4 3.4zM609 418.9l6.1-9.8l-10.5-6l-6.2 1.9l5.5 14.7zM709.9 535l-0.5-4.6l-5.4-3.4l-2.6 4.6l2.8 5.8zM195.6 385.7l7.4 3.1l-5 8.8l-6.5-3.3l0.1 0.3l0.7 1.1l3.7 2.8l6.5 0.5l1.9-9.9l-8.2-3.9zM610.4 392.1l-5.4-3.3l-8.8 2.8l1.5 13.2l0.7 0.2l6.2-1.9zM618.2 408.1l1.6-6.6l-7.9-9.6l-1.5 0.2l-5.8 11l10.5 6zM615.2 377.8l-9-1.8l-2.8 3.1l1.6 9.7l5.4 3.3l1.5-0.2l4.8-5.1zM192.2 488.5l-5.7 0l-6.7 10.4l0.2 0.9l6.9 5l8.4-4.2l0.8-8zM737.7 514.6l-2.5-3.8l-6.8 0.8l-0.1 0.6l3.6 7.3zM589.4 372.8l-11.5-2.7l-2 0.7l-1.9 11.1l1.4 2.4l13.2 2.1l2.8-7.6zM582.2 358.1l8.1 0.6l2.7-7.5l-4.7-4.5l-8.6 2.3l-0.9 4.6zM204.2 616.3l-3.2-0.2l3.3 0.3zM739.7 489.6l-4.9 2l-0.7 5.1l3.2 3.1l5.3-2l0.8-1.6zM738.2 474.7l2-7.1l-3.3-4.2l-7 4.7l4.2 6.3zM676.3 410.9l-0.9 6.7l0.6 1l7.8-1.2l2.3-3.5l-6.1-4.8zM619.4 373.6l-0.4-6.2l-2.8-2.5l-11.7 1.7l1.7 9.4l9 1.8zM698 538.4l-1.8 4.7l5.2 2.5l3.5-1.2l-0.7-6.9zM739.8 441.7l1.6-5.2l-1.6-1.6l-8.2 4.5l3.5 3.1zM750.6 446.9l-2.4-2.2l-5.1 0.6l-2.1 5.6l4.2 4l4.5-2.1zM596.8 545.4l1.9 6.7l0.7 0.4l10.1-1.6l0.6-1.5l-2.2-6.6l-5.2-1.3zM651 408.6l-4.4 4.2l0.1 0.5l9.1 5.7l5.7-4.6l-1-5.5zM604.5 366.6l-2.4-2.2l-7.4 0.7l-5.3 7.7l2 6l12 0.3l2.8-3.1zM708.1 423.1l0.7 0.4l6.1-3l-2.1-8.6l-6.4 6.3zM629.2 391.8l-3.1-4.1l-9.4-0.9l-4.8 5.1l7.9 9.6l8.4-4.7zM693.5 427.1l5.8-2.5l-0.7-6.7l-3-1.3l-2 0.5l-2.7 6.9zM666.2 425l-5-0.1l-3.4 5.9l5.1 5.3l4.9-4.8l-1-5.9zM194.3 453.4l-6.1 7.3l7.2 6.8l8.5-5.1l-0.8-5.9zM754.2 456l-4.5-3.2l-4.5 2.1l-0.5 3.2l3.8 4.6l4.1-1.7zM583 563.3l8.4-0.6l0.7-7l-6-3.7l-4.6 4.6zM726.7 528.5l3 2.6l3.7 0.5l0.4-0.3l1.3-7.9l-3.4-3.1l-1.5 0.8zM699.1 551.9l1.8 2.5l5.1-2l0.7-6.9l-1.8-1.1l-3.5 1.2zM593 351.2l10.1-2.5l-1.5-2.5l-12.9-1.4l-0.4 1.9zM741.4 436.5l-1.6 5.2l3.3 3.6l5.1-0.6l1-5l-3.8-4.2zM708.2 545.4l0-0.4l1.2 0l0.4-0.5l-0.2-5.3l3.2 0l-1.5-3.5l-1.4-0.7l-5.7 2.5l0.7 6.9l1.8 1.1zM579.7 349l8.6-2.3l0.4-1.9l-11.4-1.1l-0.3 1zM703.1 410.4l-4.4-3.7l-2.1 1.5l-1 8.4l3 1.3l4.2-1.5zM726.5 490.3l4.5-1.3l1.2-5.5l-4.1-4.3l-2.1-0.2l-4.2 7l1.8 3.3zM360.4 324.4l-9.2-0.9l5.8 5.1zM183.7 517.3l1.9 9.1l9.8 1l3.1-3l-1.6-9.3l-8.9-1.9zM669.7 407.8l-4.4-3l-2.6 0.5l-2.2 3.6l1 5.5l4.7 1.4l1.6-0.8zM629.2 377.5l-9.8-3.9l-4.2 4.2l1.5 9l9.4 0.9zM593 351.2l-2.7 7.5l4.4 6.4l7.4-0.7l3.4-11.6l-1.7-3.9l-0.7-0.2zM745.4 435.5l3-5.7l-0.4-1.7l-0.9-0.4l-2.1 4.3l-5.2 2.9l1.6 1.6zM692.8 549.7l-0.7 0.3l-1.1 5.7l3.6 3.1l6-4.5l-1.5-2.4zM646.6 412.8l4.4-4.2l2.1-7.6l-8.1-6.8l-6.6 12zM664.5 534.3l-7.1 0.6l-2 2.9l3 5l4.5 1.4l3.7-6.5zM170.4 563.9l-4.8 1.6l-2.5 4.5l11.6 2.6l0.3 0.7zM748 428.1l0.4 1.7l6.9 4.2l5.5-2.8l0.4-1.7l-6.6-8.2zM702.5 432.1l-0.7-6.2l-2.5-1.3l-5.8 2.5l-0.3 2.3l3.7 4.7zM636.6 406.2l-8.4-9.4l-8.4 4.7l-1.6 6.6l9 6.7zM754.6 421.3l0.1-1l-3-1.7l-4.6 9.1l0.9 0.4zM703.1 410.4l-0.3 6l3.6 1.8l6.4-6.3l-0.2-1.1l-3-1.8zM695.6 416.6l1-8.4l-7.1-0.2l-2.7 5.6l6.8 3.5zM657.4 399.8l5.3 5.5l2.6-0.5l2.8-6.5l-3.2-3.5l-6.2 2.2zM687.1 536l-5.8 4.1l1.1 4.1l1.8 1.3l6.3-4.4l-0.5-3.7zM664.9 394.8l3.2 3.5l3.6-0.5l2.3-5.4l-3.5-4.1l-5.1 1.7zM689.5 408l-1.4-3l-7.1-0.8l-1 4.9l6.1 4.8l0.7-0.3zM752.6 461l5.2 3.7l4.1-3.1l-3.2-7l-4.5 1.4zM690.8 397.9l-2.7 7.1l1.4 3l7.1 0.2l2.2-1.7l-4.5-7.4zM758.9 416.1l0.6-6.9l-4.5 1.8l-3.3 7.6l3 1.7zM155.5 560l-4 6.7l11.6 3.3l2.5-4.5zM709.6 409l3 1.8l-2.6-10.7l-2.4 2.2zM681 404.2l-1.8-2.9l-3.4 0l-4.1 6.2l4.6 3.4l3.7-1.8zM747.8 486.5l-6.2-1.1l-1.9 4.2l3.7 6.6l6.7-2.6zM748.4 429.8l-3 5.7l3.8 4.2l5.1-2.2l1-3.5zM740 522.9l-4.9 0.5l-1.3 7.9l5.8 0.1l2.2-1.7zM671.7 407.5l4.1-6.2l-4.1-3.5l-3.6 0.5l-2.8 6.5l4.4 3zM640.7 379.2l-8.4-3.3l-3.1 1.6l-3.1 10.2l3.1 4.1l11.4-2.8zM754.7 420.3l-0.1 1l6.6 8.2l6.1-3.8l-0.6-6l-7.8-3.6zM751.6 479.6l-0.1 3.7l6.8 3.4l2.5-2l0.2-5.7l-4.8-2.2zM682.3 396l8.2 1.5l1.4-6.3l-3.7-4.5l-7.5 5.2zM734.8 491.6l4.9-2l1.9-4.2l-1.5-3l-7.9 1.1l-1.2 5.5zM661.2 424.9l-5.3-5.3l-4.6 7.7l3.3 3.8l3.2-0.3zM698.8 406.5l5-4.6l-2.7-6.4l-6.8 3.6zM766.7 419.7l6.6-5.5l-0.5-4.3l-11.2-1.5l-2.1 0.8l-0.6 6.9zM720.8 561.6l2.7-4.7l-2-3.5l-5.5 1.2l-0.2 7zM760.8 431.2l-5.5 2.8l-1 3.5l3.1 4.7l7.3-0.7l0.9-3.2zM169.4 527.5l12.2 4l4-5.1l-1.9-9.1l-7.8-1.3l-7.1 10.1zM166.2 508.5l-7.7 12.8l10.3 4.8l7.1-10.1l-3.8-6.6zM632.6 366.6l-0.3 9.3l8.4 3.3l3.5-2.3l1.5-6.8l-5.5-6zM758.7 454.6l3.2 7l5.5 0.9l1.4-1.3l-0.1-7.3l-7.7-2.2l-0.9 0.4zM696.5 568.9l4.5 2.4l4.1-6.5l-1.1-3l-6.5 1.4zM665.4 390l5.1-1.7l2-5.3l-8.5-4l-2.2 8.1zM726.7 528.5l-7.3 4l2.9 6.5l2 0.8l5.4-8.7zM652.7 379.9l1.4 8.3l0.6 0.3l7.1-1.4l2.2-8.1l-0.9-2l-4.4-1.5zM775 403l-2.9 1.2l1.3 4.7l8-3.2l1.2-4.5l-1.5-2.3zM657.4 399.8l1.3-2.8l-4-8.5l-0.6-0.3l-9.1 5l0 1l8.1 6.8zM741.8 520.9l2.5-0.3l3.5-6.8l-4.2-2.3l-5.2 3.3zM667.5 564.4l-0.4-8.3l-5.6-0.5l-3.7 5.4l0.4 2.2l5.1 2.5zM154.4 556l-9-0.8l1.2 10.1l4.9 1.4l4-6.7zM640.6 389l4.4 4.2l9.1-5l-1.4-8.3l-8.5-3l-3.5 2.3zM641.1 337.3l-14.5-1.2l-0.2 4.2l9.5 5zM701.2 571.6l5.3 2.4l3.7-4.5l-0.8-2.8l-4.3-1.9zM690.4 575.3l2.9 2.3l5.7-1.3l2.2-4.7l-4.7-2.7l-3.1 0.7zM764.7 441.5l-7.3 0.7l-2.6 4.1l5.3 5.8l0.9-0.4l4-9.1zM674 392.4l-2.3 5.4l4.1 3.5l3.4 0l3.1-5.3l-1.6-4.1zM676.3 410.9l-4.6-3.4l-2 0.3l-1.9 7.2l7.6 2.6zM778.1 468.4l5 0.7l3.8-5.5l-1.3-4.7l-5.8-0.6l-3.2 3.4zM655.2 571.6l7 2.7l1.1-8.6l-5.1-2.5l-3.1 3.2zM621.4 352l7 4.1l9.2-5.2l-1.7-5.6l-9.5-5l-5.4 4.9zM605.5 352.8l10.6 3l5.3-3.8l-0.4-6.8l-7.1-3l-7.9 4.5l-2.2 2.2zM600.3 592.5l-0.4-2.9l-10.4 0.6l-2.7 4.8l7.7 4.7zM704.1 561.5l1 3.3l4.3 1.9l6-4.9l-6.4-3.1zM674 392.4l6.3-0.7l-2.2-8l-5.6-0.7l-2 5.3zM608.2 639.6l2-1.3l0.9-5.4l-4.9-4.3l-5.7 3.8l-0.7 3.9l1.6 1.8zM640.2 364.1l2.9-10.4l-5.5-2.8l-9.2 5.2l0.1 6.9l4.1 3.6zM761 519.7l-7.1-3.8l-0.7 0.2l-2.8 8.9l3.5 1.9l7-5.9zM678.1 383.7l2.2 8l0.4 0.2l7.5-5.2l0-3.9l-6.5-1.7zM703.8 401.9l3.8 0.4l2.4-2.2l-2.3-7l-6.2 2.6zM643.1 353.7l-2.9 10.4l5.5 6l2.9-1.5l2.6-5.7l-6.4-9.4zM655.2 571.6l-0.1-5.2l-7.4-1.3l-1.6 3.4l3 6.7l1.2 0.1zM669.2 565.2l2.3 4.8l7.3-0.2l-0.1-7.6l-3-0.8zM777.2 437.2l10.9-8l-7.7-7.5l-7.3 6.3l1.2 7.2zM691.9 391.2l6.3-1.9l1.5-3l-3.8-4.4l-7 0.3l-0.7 0.6l0 3.9zM771.8 451l-0.3-3.5l-6.5-4.9l-4 9.1l7.7 2.2zM654.5 551l-1.3-2.8l-2.5-1.1l-7.3 4.1l-0.2 0.8l7.9 4.7zM611.1 632.9l5-2.4l-1.4-6.8l-7.8 1l-0.7 3.9zM678.8 569.8l0.5 0.5l4.8-0.1l3.8-5.7l-4.3-5.3l-4.9 3zM647.2 562.8l-6.6-3.4l-4.4 4l0 1.2l3.9 4.5l6-0.6l1.6-3.4zM786.9 410.8l6.7-4.5l-1.8-8.1l-9.2 3l-1.2 4.5zM729.3 541.9l4.7-4.3l-0.6-6l-3.7-0.5l-5.4 8.7l0.7 0.8zM793.5 425.6l0.8-7.6l-7.2-3.9l-6.7 7l0 0.6l7.7 7.5l1.1 0.3zM688.7 575.6l-4.6-5.4l-4.8 0.1l-0.5 5.5l5.6 4.6zM756.9 509.6l2.8-0.3l3.4-6.4l-3.1-2.3l-7.1 1.3l-1.3 2.2l0.2 0.6zM657.4 371.4l1.3 4.1l4.4 1.5l4.5-4.3l0.6-4.3l-3.1-3.6l-5.9 1.6zM637.6 350.9l5.5 2.8l1.7-0.2l2.5-1.7l4.1-6.5l-5.2-7.6l-5.1-0.4l-5.2 8zM679.3 570.3l-0.5-0.5l-7.3 0.2l-1.6 3.5l4 5l4.9-2.7zM765.3 502.8l3.2-3.9l-1.3-5.6l-7.2 0.3l0 7l3.1 2.3zM644.2 376.9l8.5 3l6-4.4l-1.3-4.1l-8.8-2.8l-2.9 1.5zM678.1 383.7l3.6-2.6l-1.2-6l-3.7-1.3l-2.6 1.5l-1.3 7.6zM158.5 521.3l7.7-12.8l-2.8-3.7l-12.1 0.6l-2.5 3.2l2.7 8.7zM726.7 528.5l3.5-7.4l-6.6-1.5l-2.5 3.2zM667.1 587.3l3.2 4.9l3.3 0.7l4.8-6l0-0.9l-5.2-3.9l-4.3 1.6zM151.5 517.3l-2.7-8.7l-13.8-1.9l-0.6 0.7l-0.8 9.9l8.8 5.9zM661.2 355.4l1.7-3.2l-0.4-1.1l-11.1-5.7l-4.1 6.4l10.8 5.1zM680.5 375.1l3.8-2.9l0-1.2l-8.3-3l0.8 5.8zM782.6 447.3l-0.9-4.1l-3.1-2.2l-7.1 6.5l0.3 3.5l5.9 2.3zM141.7 536l1.5 8l8.1-3.8l1.5-2.9l-0.6-2.1l-10-6.4l-3 2.2zM785.6 458.9l3.2-3.1l-0.8-4.8l-5.4-3.7l-4.9 6l2.1 5zM768.5 498.9l5.4 0.7l2.3-5.4l-1.8-3.8l-5.2-0.4l-2 3.3zM787.9 485.6l6.1-5.9l0.1-4.7l-1.5-1.6l-6.6 0.2l-3 4.5l4.4 7.6zM668.2 368.4l-0.6 4.3l6.6 2.6l2.6-1.5l-1.2-6.7l-1.2-0.7zM662.9 352.2l5.4 0.4l-5.1-4.4l-0.7 2.9zM701.5 395.7l6.2-2.6l-2.2-6.7l-2.5-1l-3.3 0.9l-1.5 3zM690.5 397.5l3.8 1.6l6.8-3.6l-2.9-6.2l-6.3 1.9zM651.3 557.4l-4.1 5.4l0.5 2.3l7.4 1.3l3.1-3.2l-0.4-2.2zM761 519.7l1.3-1.2l0.3-6.3l-2.9-2.9l-2.8 0.3l-3 6.3zM768.3 510.5l0.7-2.9l-3.7-4.8l-2.2 0.1l-3.4 6.4l2.9 2.9zM599.8 584.3l1 3.4l7.1-0.6l3.1-4.4l-3.4-4.4l0 0.6l-5.3 0zM158.5 521.3l-7-4l-9.1 5.9l-0.2 5.6l10 6.4zM688.9 382.2l7-0.3l1.2-3.2l-6-4.8l-1.6 1zM769.8 518.1l-7.5 0.4l-1.3 1.2l-0.1 1.3l2.6 4.1l5.1 0.9l2-2zM632.1 580.7l7 4.4l1.4-0.2l-0.2-8.5l-1.6-1.5l-6.4 1zM663 575.7l0 0.5l5.9 7.5l4.3-1.6l0.7-3.6l-4-5zM794.3 444.8l-2.7-5.3l-9.9 3.7l0.9 4.1l5.4 3.7zM754.5 542.1l2.9 1.4l5.4-2.8l0.6-2l-1.8-3.1l-7.2 0.9zM798.6 408.5l5.4-4.4l-2-7.3l0 1.2l-10.1 0l1.7 8.3zM771.6 516.1l-3.3-5.6l-5.7 1.7l-0.3 6.3l7.5-0.4zM655.3 342.1l-5.3-4.1l-3.8-0.3l5.2 7.6zM805.3 453.2l0.6-9.1l-2.4-1.5l-7.8 3l2.6 5.8zM649.1 575.2l-0.5 0.5l-1.9 7.6l4.3 2.9l5.3-4.6l-6-6.3zM689.5 374.9l1.6-1l-1.1-0.9l-5.7-2l0 1.2zM787.1 414.1l7.2 3.9l5-2.9l-0.7-6.6l-5-2.2l-6.7 4.5zM661.2 355.4l-3.1 1.5l-2.1 5.4l3.2 4.1l5.9-1.6l0.5-2.5zM794.3 418l-0.8 7.6l9.4 1.1l3.4-4l-0.8-4.7l-6.2-2.9zM804.3 391.8l-2.3 2.8l0 2.2l2 7.3l4.2 1.5l8.8-5.1l-0.8-4.8l-4.9-4.2zM651.4 345.4l11.1 5.7l0.7-2.9l-7.9-6.1zM803.6 433.4l-0.7-6.7l-9.4-1.1l-4.3 3.9l3.2 6.5l9.5-0.8zM800.2 382l1.3 3l0.5 0l0 1.3l2.3 5.5l7-0.3l3.3-9.1l-3.6-5.8zM808.2 405.6l-4.2-1.5l-5.4 4.4l0.7 6.6l6.2 2.9l4.7-4.5zM763.4 538.7l-0.6 2l2.9 5.2l5.4-1.9l-1.9-5.9zM777.4 512.6l-3.2 3.1l5 6.7l0.9-0.1l4.6-7.6l-2.7-2.2zM821 404l-4-3.5l-8.8 5.1l2 7.9l7.4 0.9zM703.3 383.7l-6.2-5l-1.2 3.2l3.8 4.4l3.3-0.9zM763.5 525.1l-2 5.5l0.9 1.8l6.7-1l-0.5-5.4zM814.6 382.4l-3.3 9.1l4.9 4.2l8.8-6l0.7-2.7l-3.5-4.3zM838 395.2l4.1 2.7l4.3-1.2l3.3-11l-6.3-2.9l-6.7 4.2zM816.2 395.7l0.8 4.8l4 3.5l5.7 0.1l3.9-7.1l-5.6-7.3zM830.6 397l-3.9 7.1l5.7 6l7.7-4l2-8.2l-4.1-2.7zM820.3 418.5l-2.7-4.1l-7.4-0.9l-4.7 4.5l0.8 4.7l7 2.9l6.5-4.8zM832.4 410.1l-5.7-6l-5.7-0.1l-3.4 10.4l2.7 4.1l11.6-3.2zM852 399.6l6.6-1.3l4.6-7.4l-1.2-2.9l-10.2-3.1l-2.1 0.8l-3.3 11zM802.9 426.7l0.7 6.7l7.1 1.3l3.4-3.4l-0.8-5.7l-7-2.9zM820.9 369.2l-9.8 6.8l-0.1 0.6l3.6 5.8l7.6 0.3l2.8-8.5l-1.7-3.6zM810.7 434.7l1.4 7.3l3.2 1.8l3.7-1.5l0-1.3l2 0l1.4-4.1l-1.3-3l-7-2.6zM831.9 415.3l-11.6 3.2l-0.5 2.3l4.7 6.5l5.5 0l4.7-8zM840.1 406.1l7.2 6.1l4.1-2.5l0.6-10.1l-5.6-2.9l-4.3 1.2zM657.4 371.4l1.8-5l-3.2-4.1l-4.8 0.6l-2.6 5.7zM847 413.8l0.3-1.6l-7.2-6.1l-7.7 4l-0.5 5.2l2.8 4l4.4 1.4zM855.5 421.5l3.2-9.8l-7.3-2l-4.1 2.5l-0.3 1.6l5.7 8.1zM870 421.9l3.3-1.3l-5.9-5l-1.5 0.3l-2.7 6.6l5.2 3.8zM873.8 405.2l-1.6-11.3l-9-3l-4.6 7.4l3.8 6.9zM866.3 377.7l-4.3 10.3l1.2 2.9l9 3l0.6-0.3l-0.5-3l2-13.8l-0.3-0.4zM874 376.4l3-7.3l-7.1-9.7l-9 4.7l0.5 8.5l4.9 5.1zM851.8 384.9l10.2 3.1l4.3-10.3l-4.9-5.1l-8.3 3.1zM876.8 406.9l-2.6-4.6l-1.4-8.7l-0.6 0.3l1.6 11.3l0.7 0.8zM874 376.4l0.3 0.4l7.1-8.8l-4.4 1.1zM811 376.6l0.1-0.6l-3.8-5.7l-9.1 10.7l2 1zM857 349.1l-0.7-0.6l-3.2 4.1l2.2-0.5zM839.8 372.3l-7 4.9l-0.3 7.5l4.2 2.3l6.7-4.2l-2.3-9.8zM851.8 384.9l1.3-9.2l-5.5-4.1l-6.5 1.4l2.3 9.8l6.3 2.9zM819.8 365.8l-11.4 3.2l-1.1 1.3l3.8 5.7l9.8-6.8zM823.3 370.6l11-5.6l-2.2-2.7l-12.3 3.5l1.1 3.4zM825 374.2l-2.8 8.5l3.5 4.3l6.8-2.3l0.3-7.5zM836.9 365.6l4.3-5.9l-9.1 2.6l2.2 2.7zM862 347l2.9-6.3l-1.3-4.6l-4.1-0.9l-0.5 9.9l-2.7 3.4l0.7 0.6zM859.4 423.6l0 7.4l6 0.7l1.7-2.1l1.3-3.3l-5.2-3.8zM888.6 360.6l3.2-3.2l8.7-5.8l-2.6-4l-6.6 0.1l-3.8 9.7zM879.8 417l6.3 0.2l2.5-3.3l-2.6-7.9l-6 6l-3.2-5.1zM847 413.8l-7.9 6.9l2.3 3.6l8.6 0.9l2.7-3.3zM840 432.6l-8-1.6l-2.8 5.5l3.8 4.5l2.5 0l5.3-4.7l0.2-2z"/><path fill="#9cd8f4" d="M264.2 319.8l0-5.7l-9.9-7.4l-13.3 4.2l-1.3 13.3l6.4 1l0.8-0.4l6.2 0.8l-0.1 0.7l3.7 0.6zM264.2 319.8l17.2 10.3l5.7-4.4l-5.2-13.7l-12.3-2.5l-5.4 4.6zM220.3 336.4l4.2 3l3.6-16.1l11.1 3.1l0.4-2.1l-19.7-2.1zM237.3 337.9l12.7 2.6l-0.7 5.9l1.3-6.7l-10.8-1.6l2.4-10.9l-3.2 10.1l-1.5-0.3zM277.7 341.6l3.7-11.5l-17.2-10.3l-7.5 7.1l0.3 1.1l3.9 0.8l-1.3 9.4l1.3 5.1zM227.5 369.7l1.1 0.2l11.3-19.8l-7.1-1.1l3.1-2.3l-9.6-2.2l-1.3 1.4l7.8 1.6l-0.8 1.5l-9.3 4.8l-4.3-0.7l0.5 6.1zM260.8 370.3l23.3-8l1.8-7.4l-8.2-13.3l-16.8 1.7l-2.2 2.2l-0.9 8.3l-2.8 0.2l4.9 15.8zM233 397.1l4.3-6.9l0.2-12.7l-8.9-7.6l-1.1-0.2l-13.6 8.5l-1.4 6.6l7.4 10.7zM214.6 411.4l15 5.1l6.2-2.2l-2.8-17.2l-13.1-1.6l-8.1 8.2zM409.8 606.2l-11.9 0.6l-1 1.1l-1.3 14.3l21.4 4.1l3.8-2.7l-7.3-15.2zM375 642.9l-7.1-1.9l-13.8 8.1l0.7 4.2l1.2-0.3l5.7 5.5l16.2 0.7zM375 642.9l2.9 16.3l0.7 0.9l17-1l1-1.3l-0.6-14l-18.6-2.9zM396 643.8l0.6 14l14.9-1.6l2.6-13.7l-2.5-3.6l-12.4-0.5zM411.5 656.2l4.5 3.3l11.5-1.7l1.2-9.8l-2.5-4.2l-12.1-1.3zM378.6 660.1l-0.7-0.9l-16.2-0.7l12.3 11.8l2.2-0.6zM395.6 659.1l-17 1l-2.4 9.6l2.2 4.9l1.5 1.4l10.7 3.9l6.8-12.9zM416 659.5l-1.4 14.2l11.1 2.2l4.5-8.3l-2-9.1l-0.7-0.7zM553.3 364l-15 0.9l1 13l9.6 0.8zM551.5 536.1l-3.4-6.6l-5.5-1.7l-3.4 0.1l-1.3 13.9l0.3 0.3l2.8-0.1l0-1l6.4 0zM510.4 554.5l0.7-13.7l-13.7 0.6l-0.8 12.1l0.5 0.4zM538.7 554.9l0.1 11.6l4 0.4l7.5-4l0.6-3l-3.7-5.2zM457.6 582l0.5-12.8l-1-0.9l-12.4 0.5l-1.3 12.2l0.9 1.1zM497.6 581.8l-0.3-13.8l-0.9-0.8l-11.8 0.9l-0.4 0.3l0.6 13.2zM525.2 580.5l12.8 1.6l1-2.4l-1.3-12.1l-11.8 0.5zM457.4 582.3l-13.1-0.2l-1.6 13.1l10.4 2.8l4.9-2.5zM497.8 582l-13-0.4l-1.3 14.5l2.4 1.1l12.3-1.5zM511.9 595.3l-0.5-14.6l-13.6 1.3l0.4 13.7l1.2 0.8l11.5-0.5zM524.8 580.9l-13.3-0.1l0.4 14.5l11.8 1.6l0.9-0.6zM537.8 589.9l0.7-6.7l-0.5-1.1l-12.8-1.6l-0.4 0.4l-0.2 15.4l1.9 0.2zM551.5 586.5l-13-3.3l-0.7 6.7l1.6 1.8l7.7 0l0 1.6l1.4-0.3l3.3-5.7zM563.5 441.5l1-9.4l-10.7-3.7l1 11.8zM570.3 429.8l-5.8 2.3l-1 9.4l0.8 0.9l9.1-1.2l0.6-8.7zM584.5 440.9l-1.2-10.6l-9.3 2.2l-0.6 8.7l0.8 0.9l8.6 0.4zM601.1 429.1l-7.8 3.2l0 10.3l9.3-0.8l0.6-0.6l-0.5-10.1zM612.8 432.4l-0.9 9.9l0.3 0.3l9.1-0.7l1.2-1.2l-0.7-7.2l-6.3-3.1zM621.8 433.5l0.7 7.2l9 1.2l-0.2-9.3l-3.8-3.2zM639 440.6l1.1-6.2l-2.8-2.6l-6 0.8l0.2 9.3zM584.5 440.9l-1.7 1.6l0.7 9.8l9-1.4l0.8-8.3zM593.5 452l9.4 0l-0.3-10.2l-9.3 0.8l-0.8 8.3zM602.6 441.8l0.3 10.2l0.8 0.8l8.4-1.3l0.1-8.9l-9-1.4zM612.9 452.2l7.6 0.1l1.4-1.5l-0.6-8.9l-9.1 0.7l-0.1 8.9zM621.3 441.9l0.6 8.9l8.6 0.3l1.1-1.2l-0.3-7.7l-8.8-1.5zM563.5 450.4l-8.7-0.1l-1.2 1.2l0.2 8.6l1.2 1l7.8-0.9l1.2-9.2zM573.1 452l-9.1-1l-1.2 9.2l0.6 0.5l9.3 0.2zM583.2 460.4l0.1-7.9l-9.2-1.3l-1 0.8l-0.4 8.9l0.6 0.6zM583.2 460.4l9.3 1.6l1.3-1.2l-0.3-8.8l-1-1.1l-9 1.4zM593.5 452l0.3 8.8l9 1l0.4-0.4l0.5-8.6l-0.8-0.8zM612.1 462.3l0.7-1l0.1-9.1l-0.8-0.7l-8.4 1.3l-0.5 8.6zM612.9 452.2l-0.1 9.1l9.7-1l-2-8zM630.3 460l0.2-8.9l-8.6-0.3l-1.4 1.5l2 8l0.9 0.7zM640.3 451.7l-8.7-1.8l-1.1 1.2l-0.2 8.9l3.7 0.1l0-2.1l6.2 0zM577 470.5l0-3.5l5.9 0l0.3-6.6l-9.9 1.1l0.1 8.1l0.7 0.8zM602.8 461.8l-9-1l-1.3 1.2l-0.2 7.9l0.5 0.4l9.4 0.2zM613.4 469.1l-1.3-6.8l-8.9-0.9l-0.4 0.4l-0.6 8.7l0.7 1l9-0.9zM612.1 462.3l1.3 6.8l7.8 1.6l0.6-0.5l1.6-9.2l-0.9-0.7l-9.7 1zM623.4 461l-1.6 9.2l8.4 1.1l2-1.8l-1.6-9.2zM632.2 469.5l6 0.3l2.3-2.8l-6.5 0l0-6.9l-3.4 0.2zM574.1 470.4l-0.9 9.1l9.8 1.1l0.9-1.1l-0.2-5.5l-6.7 0l0-3.5zM592.3 469.9l-8.3 1.4l-0.1 8.2l9.5 0l-0.6-9.2zM602.2 479.1l0.4-0.4l0.3-7.2l-0.7-1l-9.4-0.2l0.6 9.2l0.6 0.6zM612.2 480.2l-0.3-9.6l-9 0.9l-0.3 7.2l9.1 2zM621.8 470.2l-0.6 0.5l-0.5 8.6l0.7 0.8l9.6-0.8l-0.8-8zM630.2 471.3l0.8 8l1.2 1.1l6.7-0.2l2.1-3.1l-2.8-7.3l-6-0.3zM573.8 489.4l-1.4-9.1l-7.2 0l-1.1 10.2l0.4 0.6zM573.2 479.5l-0.8 0.8l1.4 9.1l9.8-1.1l-0.6-7.7zM583 480.6l0.6 7.7l0.7 0.7l8.3 0.7l0.6-0.5l0.8-9.1l-0.6-0.6l-9.5 0zM603.1 490.3l8.3-1.7l0.3-7.9l-9.1-2l-0.4 0.4l0.3 10.8zM620.7 479.3l-8.5 0.9l-0.5 0.5l-0.3 7.9l0.7 0.5l10-0.4l-0.7-8.6zM632.2 480.4l-1.2-1.1l-9.6 0.8l0.7 8.6l0.4 0.3l7.4 0.8zM573.6 489.7l-9.1 1.4l-0.7 8.1l0.4 0.4l9.3 0.5l1.7-1.3zM584.3 489l-0.7-0.7l-9.8 1.1l-0.2 0.3l1.6 9.1l7.1 0.5zM592.8 500.1l-0.2-10.4l-8.3-0.7l-2 10.3l0.8 0.8zM612.1 499.7l1.4-1.5l-1.4-9.1l-0.7-0.5l-8.3 1.7l0.1 8.2zM612.1 489.1l1.4 9.1l6.9 0.3l2.1-9.5l-0.4-0.3zM621.8 499.9l8.9-1.7l0.1-7.3l-0.9-1.1l-7.4-0.8l-2.1 9.5zM639.5 490.4l-8.7 0.5l-0.1 7.3l0.9 1.1l7.9 0.6l2.1-5.9zM574.5 510.4l8.2-1.4l0.4-8.9l-0.8-0.8l-7.1-0.5l-1.7 1.3l0.3 9.5zM582.9 509.2l11-0.6l0.3-0.3l-1.4-8.2l-9.7 0zM602.1 509.6l0.9-1l0-10.3l-10 1.5l1.2 8.5zM621.8 499.9l0.4 8.4l8.5 0.7l0.9-9.7l-0.9-1.1zM639.5 499.9l-7.9-0.6l-0.9 9.7l7.5 0l2.8-6.4zM563.5 519l1.8-1.7l-2.1-7.9l-8.3 1.1l-0.8 7.7l0.8 1zM573.7 518.5l9.8 0.5l1.3-1.2l-1.9-8.6l-8.4 1.2l-1.5 7.1zM593.9 508.6l-11 0.6l1.9 8.6l7 0.3zM602.1 509.6l-7.9-1.3l-0.3 0.3l-2.1 9.5l1.6 1.7l8.5-0.7l1.6-1.8zM612.9 508.2l-0.8-0.8l-9.1 1.2l-0.9 1l1.4 7.7l8.2 1.2zM621.5 508.8l-8.6-0.6l-1.2 10.3l9.1-0.2zM631 509.3l-0.1 8.4l1.4 1.4l6.4-0.2l3.1-5.7l-3.6-4.2zM559.9 529.3l5.4-1.2l-1.8-9.1l-8.6 0.2l-0.2 5.3zM565.3 528.1l1.1 0.6l6.9-2.7l0.4-7.5l-0.7-1l-7.7-0.2l-1.8 1.7zM583.5 519l-9.8-0.5l-0.4 7.5l4.4 3.3l3.9-0.2l1.7-1.6zM611.6 518.5l-8.1-1.2l-1.6 1.8l0.7 6.8l6.9 4.4l2.1-1.2zM621.9 523.9l-0.5-4.9l-0.6-0.7l-9.2 0.2l0 10.6l5.3 0.4zM640.8 522.2l-2.1-3.3l-6.4 0.2l-1.2 7.4l5.2 2.6l1.8-0.5zM658.8 441.4l-7.9-2.9l-3 3.9l0.6 6.9l2 1.5l6.4-1.1l1.2-1.3zM666.4 441.4l-3.8-2.4l-3.8 2.4l-0.7 7l9.6 1.5zM674.9 439.5l-8.5 1.9l1.6 8.8l7.3-3zM685.5 448.4l8.3-0.5l1.4-8.3l-6.6-1.4l-3.8 5zM695.9 449.9l8-2.1l1-5.9l-9.3-2.6l-0.4 0.3l-1.4 8.3zM704.9 441.9l-1 5.9l2.2 2.6l0.7 0l4.3-8.6zM650.5 450.8l-0.1 7l6.4 2.4l3.3-3.3l-3.2-7.2zM668.1 456l-0.4-6.1l-9.6-1.5l-1.2 1.3l3.2 7.2l6.5 0.6zM678.7 449.7l-3.4-2.5l-7.3 3l0.1 5.8l8 1.8zM687.7 458.5l6.8 0.6l1.6-1.8l-0.2-7.4l-2.1-2l-8.5 0.8l1.1 8.6zM696.1 457.3l8.2 0.6l1.8-7.5l-2.2-2.6l-8 2.1zM704.3 457.9l1.6 1.8l8.1-1l-1.5-7l-0.5 0.3l-6 0l0.8-1.6l-0.7 0zM721 449.3l-4.5-0.4l-4 2.8l1.6 7l3.7-0.4l3.9-5.7zM657.7 466.4l-0.9-6.2l-6.4-2.4l-1.9 1.9l0.4 8.1l0.7 0.8zM657.7 466.4l1.7 1l7.1-2.2l0.1-7.7l-6.5-0.6l-3.3 3.3zM684.4 467.4l1-0.7l2.3-8.2l-1.3-1.2l-9 2.3l-0.1 7.3zM695.3 468.2l0.7-0.9l-1.5-8.2l-6.8-0.6l-2.3 8.2zM722.5 462.2l-4.7-3.9l-3.7 0.4l-0.1 8.2l0.5 0.6l5.4-0.5zM638.2 469.8l2.8 7.3l8.2-1.5l0.4-7l-0.7-0.8l-8.4-0.8zM649.6 468.6l-0.4 7l10.1 1.1l0.9-1.1l-0.8-8.2l-1.7-1zM668 475.4l1.2 0.9l5 0.1l1.9-1.8l1.1-8l-9.9-0.8zM695.3 468.2l-9.9-1.5l-1 0.7l2.6 9.2l7.3-1zM704.9 467.1l1.5 8.5l6.5 1.6l1.4-1.3l0.2-8.4l-0.5-0.6zM638.9 480.2l2.4 5.6l7.6-0.1l1.4-1.5l-1.3-8.3l-8 1.2zM659.3 476.7l0.3 8.3l6.5 0.4l3.1-9.1l-1.2-0.9l-7.8 0.2zM676.2 484.8l8.3-0.2l1.3-7l-9.7-3l-1.9 1.8zM694.3 475.6l-7.3 1l-1.2 1l-1.3 7l1.6 2.2l7 0.5l2.7-3.1l0.1-6.9zM714 484.6l-1.1-7.4l-6.5-1.6l-2.3 1.5l0.4 8.9zM712.9 477.2l1.4 7.7l7.5 1.1l4.2-7l-2.8-4l-8.9 0.9zM639.5 490.4l2.1 3.6l8.3 0.1l-1-8.4l-7.6 0.1zM648.9 485.7l1 8.4l7.8 0.4l1.5-9.1l-8.9-1.2zM668.7 487.5l0.3 7.9l6.1 0.7l2.4-1.8l-1.3-9.5zM684 494.3l1.6 2.3l10.3-1.1l-2.8-8.2l-7-0.5zM648.1 503.6l1.5-9.2l-8-0.4l-2.1 5.9l1.5 2.7zM657.7 494.5l-8.1-0.1l-1.5 9.2l0.7 0.7l9.3-0.4l-0.1-8.9zM668.9 495.3l-10.9-0.3l0.1 8.9l0.5 0.4l8.9-0.7zM677.7 504.6l-2.6-8.5l-6.1-0.7l-1.5 8.2l1.6 1.9l8.2-0.2zM677.7 504.6l7.4-2.5l0.5-5.5l-1.6-2.3l-6.5 0l-2.4 1.8zM705.7 504.7l-0.6-10l-1.5-1l-7.7 1.8l0 8.1l8.4 2.5zM713.8 504.1l1.2-7.6l-2.6-2.6l-7.3 0.8l0.6 10zM648.8 504.3l-0.9 8.7l1 0.8l9.9-1.8l-0.2-7.7l-0.5-0.4zM667.5 503.6l-8.9 0.7l0.2 7.7l7.5 1.4l1.7-1.3l1.1-6.6zM678.6 512.4l-1.3-7.1l-8.2 0.2l-1.1 6.6l8.8 2.3zM678.6 512.4l7.9 0.7l0.4-0.4l0.7-8.1l-2.5-2.5l-7.4 2.5l-0.4 0.7zM686.9 512.7l7.5-0.3l1.4-8.8l-8.2 1zM694.4 512.4l1.3 1.1l8.7-0.8l-0.1-6.6l-8.4-2.5zM705.7 504.7l-1.4 1.4l0.1 6.6l0.5 0.9l1.7 0.8l5.9-0.2l2-9.3l-0.7-0.8zM714.5 504.9l-2 9.3l2.3 1.6l4.5-1.8l1.4-6.6l-0.9-1zM649.5 519.1l4.9 3.4l4.2-3.1l0.2-7.4l-9.9 1.8zM658.6 519.4l5.8 3l2.6-2.4l-0.7-6.6l-7.5-1.4zM667 520l4.6 0.9l5-4.7l0.2-1.8l-8.8-2.3l-1.7 1.3zM676.6 516.2l4.2 6.4l6.6-2.3l-0.9-7.2l-7.9-0.7l-1.8 2zM686.9 512.7l-0.4 0.4l0.9 7.2l1.7 1.4l6.2-1.2l0.4-7l-1.3-1.1zM695.3 520.5l4 2.3l5.6-9.2l-0.5-0.9l-8.7 0.8zM544 645.4l1.6-1.3l0.7-8.4l-2.8-2.8l-10.5 1.5l2.1 10.6zM465.3 646.4l-0.4 10.6l10.7 0.2l0.9-1l0.3-9.3zM488.9 656.9l-1.3-11.6l-10.3 1.1l-0.5 0.5l-0.3 9.3l11.6 1.6zM533.4 656.7l1.2 1.2l10.4-0.2l-1-12.3l-8.9-0.4l-0.3 0.3zM430.2 667.6l5.3 1.5l0-5.4l6.3 0l0-5.4l-13.6 0.2zM460.1 657.1l0 5.8l-7.3 0.1l8.2 0.7l0.4 4.9l2.9 0.5l0.9-0.9l-0.5-11.1zM464.9 657l0.3 11.2l11-0.4l-0.6-10.6zM488.1 657.8l-11.6-1.6l-0.9 1l0.6 10.6l0.7 0.6l9.8-0.5zM498.8 668.9l0.9-1l-0.2-10.6l-10.6-0.4l-0.8 0.9l-1.4 10.1l1.2 1.4zM499.5 657.3l0.2 10.6l11.4 0.8l-0.7-11.7l-0.4-0.5zM534.6 657.9l-1.2-1.2l-9.5-0.2l-1.6 1.7l-0.1 10.4l0.5 0.6l10.7 0.2zM533.4 669.4l11.8 0.3l-0.3-11.9l-10.3 0.1zM545.6 670.1l6-0.7l4.4-6.9l-5.2-5.2l-5.9 0.5l0.3 11.9zM465.2 668.2l-0.9 0.9l-0.1 6.1l8.2 0l0 4.9l0.9 0.1l0-2.4l2.7 0.3l0.9-9.7l-0.7-0.6zM498.3 681.5l1.9-1.6l-1.4-11l-10.9 0.4l-0.1 10zM510 679.6l1.9-10.1l-0.8-0.8l-11.4-0.8l-0.9 1l1.4 11l9 0.5zM522.5 681.2l0.2-12l-0.5-0.6l-10.3 0.9l-1.9 10.1zM461.9 679.5l0 1.8l-8.6 0l0 0.6l8.6 0.3l0 7l-9 0l-0.1 1.3l9.9 0.3l0.5-0.5l-0.5-0.2l0-7l0.6 0l0-0.9l-0.6 0l0-2.7zM474.8 685.7l0.2 5.5l0.9 0.8l0-5.4l10.2 0l0.3-6.1l-5.2-0.5l0 5.7zM526.8 695.5l8.6-4.1l-1.9-10.2l-10.3 0.9l-1.5 9zM537.6 692.3l7.3-3.3l0.6-8.7l-11.5 0.2l-0.5 0.7l1.9 10.2zM545.8 680l-0.9 9l3.9 2.6l6.6-3l-2.5-7.8zM697.2 603.8l5.9-0.5l0.5-5.6l-4.3-2.4l-2.7 2.4zM218.4 353.1l-8.1-6.4l-9 5.8l3.5 9.1l14.1-2.4zM721.7 452.6l-3.9 5.7l4.7 3.9l3-0.4l3.6-4.9zM695.2 439.6l1.7-5.5l-3.7-4.7l-6.8 3.9l2.2 4.9zM463.1 699.3l0.5-4.4l3.5 0.4l0.9-4.3l7.6 1l-0.6-0.8l-11.8-0.9l-0.5 0.5l4.4 0.2l-3.5 3.5zM649.5 519.1l-4.1 3.8l2.3 7l7-2.6l-0.3-4.8zM636.3 529.1l-5.2-2.6l-2.6 1.3l-2.2 6.6l1.9 2.8l1.3 0.5l5.2-2zM646.5 427.2l-4.2-5.5l-4.1 1.2l-0.9 8.9l2.8 2.6l4.7-1.8zM548.8 702.7l1.1-1.7l-1.1-9.4l-3.9-2.6l-7.3 3.3l3.6 9.5zM209.9 339.5l-4.7-4.3l-10.8 7.6l3.8 8.5l3.1 1.2l9-5.8zM676.6 516.2l-5 4.7l2.1 5.6l6.3-1.9l0.8-2zM647.9 442.4l3-3.9l-6.1-5.9l-4.7 1.8l-1.1 6.2zM210.2 307.6l-2.8 1l-1.4 5.4l-2.5-0.4l-3.7 9.6l4.2 3.5l15.2-5l-1-9.6zM560.4 540.7l2.1 0.3l5.2-5.5l-1.3-6.8l-1.1-0.6l-5.4 1.2l-3.2 7.2zM701.4 611.8l2.7-2.1l0.4-5.1l-1.4-1.3l-5.9 0.5l-1.6 1.8l0.3 2.1zM201.1 370.8l-6 7.1l1.1 7.3l8.2 3.9l8.1-4.3l1.4-6.6zM662.6 439l0.3-2.9l-5.1-5.3l-3.2 0.3l-3.6 7.4l7.8 2.9zM191.3 363.8l-7.2 3.7l-1.6 9l12.6 1.4l6-7.1l-0.3-1.6zM428.4 680.7l-2.7-4.8l-11.1-2.2l-4.1 2.9l-1.1 4.4l5.6 9.4l7.1-0.4l-0.7-1.7l4.4-5.2l1.8-0.2zM203.9 462.4l-8.5 5.1l-0.7 6.4l3.1 3.9l5.3 0.4l8.7-8.2l0.1-1.7zM712 431l-6.2 2.9l-0.7 7.7l6 0.2l0.9-1.8l1.4-5.3l-0.5-3.3zM621.9 523.9l-5 5.6l3.5 4.3l5.9 0.6l2.2-6.6zM548.5 576.3l4.5 5.9l4.3-2.5l0.5-2.3l-8.4 0l0-4.2zM667 520l-2.6 2.4l-0.3 4.2l1.8 2.5l6.7-0.5l1.1-2.1l-2.1-5.6zM638.2 422.9l-9.7-2.5l-1 9l3.8 3.2l6-0.8zM183.8 461l-4.8 14.2l15.7-1.3l0.7-6.4l-7.2-6.8zM591.8 536.9l3-5.2l0-0.9l-2.3-3l-9.2-0.3l-1.7 1.6l3.7 8.6zM264.2 314.1l5.4-4.6l-15.2-3l-0.1 0.2zM183.4 353.1l7.3 3.8l7.5-5.6l-3.8-8.5l-5.4-1.8l-6.4 7.8zM727.1 508.7l-6.4-1.3l-1.4 6.6l3.9 2.2l5.1-4l0.1-0.6zM205.2 335.2l-1.2-8.5l-4.1-3.1l-14.5 7.4l-0.5 1.1l4.1 8.9l5.4 1.8zM219.9 322.2l-0.7-0.5l-15.2 5l1.2 8.5l4.7 4.3l10.4-3.1zM478.6 699.2l4.4 0.6l-0.7 2.6l2.6 2.4l4-0.3l1.4-11.4l-3-2.2l0 2.7l-6.1 0l0 5.3l-3.2-0.3zM520.3 705.5l6.6-5l-0.1-5l-5.1-4.4l-7.8 1.9l-0.9 7.7zM620.4 533.8l-3.5-4.3l-5.3-0.4l-1.7 1.2l1.4 8.8l6 1.1zM723.6 499.7l3.7-0.1l1.1-1.6l-1.9-7.7l-2.9-1l-4.2 6.6zM541.2 701.8l-6.7 5.3l-0.1 3.5l6.1 3.7l9.8-7.1l-1.5-4.5zM565.2 397.2l6.4-0.8l3.8-12.1l-1.4-2.4l-13.5 0.2l-0.9 0.7l5.1 14.1zM736.3 504.5l1-4.7l-3.2-3.1l-5.7 1.3l-1.1 1.6l2 4.8zM226.3 344.5l-7.5-1.7l0-2.3l5.4 0l0.3-1.1l-4.2-3l-10.4 3.1l0.4 7.2l7.7 6.1l0-8.4l7 1.5zM664.5 534.3l2.1 3.4l6.1 0.7l3.4-2.8l-3.5-7l-6.7 0.5zM672.6 528.6l3.5 7l6.9-5.4l-3-5.6l-6.3 1.9zM567.9 607.4l-1-4.2l-3.1-2.4l-1.4 0.1l-3.9 3.7l2.2 0l0 6.6l4.6 0.8zM689.2 527.9l5.1 2.4l4.5-7.5l-3.5-2.3l-6.2 1.2zM173.8 345.8l-7.5 8.7l7.2 6.4l3.3-0.2l6.6-7.6l-0.8-4.3zM560.4 540.7l-3.7-4.2l-5.2-0.4l-4.1 4.9l8.8 0l0 5.2zM202.5 399l2.2 3.1l7.1 1.6l8.1-8.2l-7.4-10.7l-8.1 4.3zM620.4 533.8l-3.1 6.4l1.5 2.5l4.5 0.4l4.9-5.9l-1.9-2.8zM708 522.1l-1.4-7.7l-1.7-0.8l-5.6 9.2l4.3 2.8zM241 310.9l13.3-4.2l0.1-0.2l-15-3.4l-0.7 4.9zM550.9 559.9l6-1.6l0.7-2.9l-1.4 0l0-1.5l-8.3 0l-0.7 0.8zM609.9 530.3l-8.1 5.2l0.9 6l5.2 1.3l3.4-3.7zM728.1 479.2l6-4.8l-4.2-6.3l-0.8-0.1l-5.3 4.3l-0.6 2.7l2.8 4zM181.4 585.9l1.9 4l0.2-3.5zM574.3 537.6l-6.6-2.1l-5.2 5.5l4.5 5.4l6.3-1.2l1.7-6.1zM640.2 543.6l1.4-2.9l-0.4-1l-6.5-4l-5.2 2l3.6 7.8zM548.8 691.6l1.1 9.4l10.6-3.6l0.2-1.7l-3.1-6.3l-2.2-0.8zM551.8 587.3l-3.3 5.7l0.5 1l4.2 0l0 4.3l3.9-1.3l0.2-6.7zM557.1 597l-3.9 1.3l0 5.9l0.5 0.4l4.8 0l3.9-3.7zM562.2 680.4l-6.1-1.9l-3.2 2.3l2.5 7.8l2.2 0.8l6.1-5.8zM553.9 428.3l10.6 3.8l5.8-2.3l-0.6-9.1l-10.2-0.1zM529.9 715l0 7.2l10.6-7.9l-6.1-3.7zM534.4 710.6l0.1-3.5l-7.6-6.6l-6.6 5l-0.6 6.3l10.2 3.2zM738.2 451.5l-4.6-3.9l-3.3 1.3l-1.1 7.9l5.3 1.4zM549.4 572.8l0-2.2l-0.8 0l0-5.3l3.9 0l-2.2-2.4l-7.5 4zM685.3 530.6l3.9-2.7l-0.1-6.2l-1.7-1.4l-6.6 2.3l-0.8 2l3 5.6zM736.9 463.4l0-2l-2.4-3.2l-5.3-1.4l-3.7 5l3.6 6.2l0.8 0.1zM561.1 662.6l-5.1-0.1l-4.4 6.9l4.6 3.4l6-2.8l0-5.7zM201 416.2l7.9 1.3l5.7-6.1l-2.8-7.7l-7.1-1.6l-6.3 10.1zM198.2 351.3l-7.5 5.6l0.6 6.9l9.5 5.4l4-7.6l-3.5-9.1zM577.7 400.8l-0.2 4.6l9 10.3l7.9-10.1l-10.7-7zM689.9 597.9l0.1 5.9l5.6 1.8l1.6-1.8l-0.6-6.1l-5.5-0.9zM570.3 412.9l-6.9-4.5l-6.7 3.3l2.8 8.9l10.2 0.1l1.5-1.8zM583.7 539.7l-8.7-0.6l-1.7 6.1l2.4 2.4l8.6-1.3zM238.7 308l0.7-4.9l-14.3-3.3l1.6 4.9zM519.7 711.8l-2.9 2.3l0.7 9.3l4.8 3l2-0.2l5.6-4l0-7.2zM552.5 565.3l4.4 0l0 1.2l5.2-2.6l-5.2-5.6l-6 1.6l-0.6 3zM210.2 307.6l0.8-10.8l-1.2-0.2l-2.4 12zM594.4 405.6l-7.9 10.1l-0.2 2.7l15.4 3.6l2.2-2.3l-5.5-14.7l-0.7-0.2zM555.6 643.9l9.8 0.3l0.4-0.3l-2.5-9.4l-3.3 0.7l0 4.2l-4.1 0zM566 673.7l-3.8 6.7l1.5 3.2l3.8 1.6l4.4-3.6l-0.8-6.4zM186.1 302.4l0.9-5.4l-0.5-5.7l-0.7 1.2l-1.1 8.5zM736.9 505.5l-0.6-1l-7-0.1l-2.2 4.3l1.3 2.9l6.8-0.8zM695.1 531.9l-0.8-1.6l-5.1-2.4l-3.9 2.7l1.8 5.4l2.9 1.4l4.6-3.2zM676.1 535.8l5.2 4.3l5.8-4.1l-1.8-5.4l-2.3-0.4zM744.7 458.1l0.5-3.2l-4.2-4l-2.8 0.6l-3.7 6.7l2.4 3.2zM638.1 528.6l5.4 3.1l3.8-1.3l0.4-0.5l-2.3-7l-4.6-0.7zM584.3 546.3l-8.6 1.3l0.3 6.8l5.5 2.2l4.6-4.6l0-3.9zM563.4 564.1l-1.3-0.2l-5.2 2.6l0 4.1l3.1 0l0 3.8l3.8-1.6zM694.6 534.2l-4.6 3.2l0.5 3.7l4 2.7l1.7-0.7l1.8-4.7zM184.1 367.5l7.2-3.7l-0.6-6.9l-7.3-3.8l-6.6 7.6zM159.6 347.5l1.4 0.3l-0.4 3.3l0.8 3.2l4.9 0.2l7.5-8.7l-1.7-7.7l-11.6 1l-2.4 3zM564.3 632.6l2.4-1.2l2.5-5.7l-2.6-6.8l-4.4 1.4l0 5.5l-2.2 0l0 1.7zM585.3 537.7l-1.6 2l0.6 6.6l1.8 1.8l9.2-3.4l-3.5-7.8zM589 387.4l-0.4-1l-13.2-2.1l-3.8 12.1l6.1 4.4l6-2.2zM573.2 556.1l2.8-1.7l-0.3-6.8l-2.4-2.4l-6.3 1.2l-1.9 5.7l1.3 2zM728 441.4l-6.2 3.8l0.9 1.8l3.1-0.7zM587.5 672.4l-0.4-1.4l-6.8-3.9l-1.6 1l3.2 0l0 8.4l-2.6 0l1.2 1.1l4.9-0.7zM169.9 391.9l0.9-1.1l4.9-10.8l5.6 0.8l-0.3-3.1l-5.7-1l-0.6 4.3l-5.7 10.9zM184.9 332.1l0.5-1.1l-5.1-14.3l-1.6-0.5l-7.3 3.3l0.6 3.5l-3.5 1.2l-0.2 0.7l6.4 9.3zM605 388.8l-1.6-9.7l-12-0.3l-2.8 7.6l0.4 1l7.2 4.2zM667.8 431.3l6.9 2.9l3.3-7.3l-2.9-4.2l-8.3 2.7zM740.2 467.6l7.1-0.5l1.2-4.4l-3.8-4.6l-7.8 3.3l0 2zM712 431l-3.2-7.5l-0.7-0.4l-6.3 2.8l0.7 6.2l3.3 1.8zM195 411.6l-0.8 4.6l5.9 1.9l-0.1 0.4l1-2.3l-2.6-4zM563.5 564.2l8.8 0.4l0.9-8.5l-6.8-2zM594.8 531.7l-3 5.2l3.5 7.8l1.5 0.7l5.9-3.9l-0.9-6zM563.6 583.4l-6.3-3.7l-4.3 2.5l-1.5 4.3l0.3 0.8l5.5 3l4.8-1.3zM549.9 701l-1.1 1.7l1.5 4.5l4.4-3.2l8.9-2.7l-3.1-3.9zM739.8 441.7l-4.7 0.8l-1.5 5.1l4.6 3.9l2.8-0.6l2.1-5.6zM690.5 541.1l-6.3 4.4l1.1 2.6l6.8 1.9l0.7-0.3l1.7-5.9zM638.2 422.9l4.1-1.2l4.4-8.4l-0.1-0.5l-8.2-6.6l-1.8 0l-9.4 8.6l0.3 4.2l1 1.4zM675.4 417.6l-7.6-2.6l-1.6 0.8l0 9.2l0.6 0.4l8.3-2.7l0.9-4.1zM598.7 552.1l-1.9-6.7l-1.5-0.7l-9.2 3.4l0 3.9l6 3.7zM577.9 630.6l-4.2 4.1l0.3 1.7l7.1 0l0 3.6l0.9-0.5l0.9-6.3zM736.9 505.5l-1.7 5.3l2.5 3.8l0.7 0.2l5.2-3.3l-1.2-4.3zM203.8 430.8l7.2-6.3l-2.1-7l-7.9-1.3l-1 2.3l-1.4 8.5zM709.9 535l1.4 0.7l7.7-3.4l-2.1-4.4l-3.9-1l-3.6 3.5zM181 303l-2.4-0.7l-4 0.9l-0.7 1.2l4.8 11.8l1.6 0.5l8.5-4.5l0.2-0.6l-4-0.6l1.1-8.6l-1.4-1.4l-3.1 0.6zM712 431l0.9 0.4l1.5-0.4l1.6-6l-1.1-4.5l-6.1 3zM565.1 552.1l1.9-5.7l-4.5-5.4l-2.1-0.3l-4.2 5.5l0 3.2l6.8 0l0 2.8zM708.1 423.1l-1.7-4.9l-3.6-1.8l-4.2 1.5l0.7 6.7l2.5 1.3zM186 584l-2-10.3l-8.9-0.6l6.3 12.8l2.1 0.5zM716.9 527.9l2.5 4.6l7-4l-5.3-5.7l-0.7 0.1zM714.5 586.1l-2.3-2.1l-5.2 0.2l-3.2 4l4.1 3.9l4.3-1.4zM686.2 423.5l4.7 0.5l2.7-6.9l-6.8-3.5l-0.7 0.3l-2.3 3.5zM560.5 697.4l3.1 3.9l3.6-1.1l5.2-0.4l1.4-6.5l-4.8-3l-8.3 5.4zM565.1 343.8l11.9 0.9l0.3-1l-6.3-0.5l-7.3-3.6l0 2.3zM575.9 370.8l-7.2-3.8l-5.7 1.6l-2.5 13.5l13.5-0.2zM602.1 364.4l2.4 2.2l11.7-1.7l-0.1-9.1l-10.6-3zM566.3 574.5l-2.5-1.7l-3.8 1.6l0 3l-2.2 0l-0.5 2.3l6.3 3.7l2.5-1.3zM594.8 530.8l0 0.9l7 3.8l7.7-5.2l-6.9-4.4zM159.6 303.5l3.5 3.9l10.8-3l0.7-1.2l-0.6-2.1l-4-1.1l-9-4.9l-1.3 1.2zM735.1 523.4l4.9-0.5l1.8-2l-3.4-6.1l-0.7-0.2l-5.8 4.9l-0.2 0.8zM685.9 433.1l-9.2 4.8l8.1 5.3l3.8-5l-2.2-4.9zM574.9 599l-0.5-4.2l-3.8 0l0-2.8l-0.4-0.3l-4 1l-2.4 8.1l3.1 2.4zM704.2 537.4l-2.8-5.8l-6.3 0.3l-0.5 2.3l3.4 4.2zM694.5 543.8l-1.7 5.9l6.3 2.2l2.3-6.3l-5.2-2.5zM562.1 563.9l1.3 0.2l3-10l-1.3-2l-2.1 0.1l0 3.2l-5.4 0l-0.7 2.9zM573.2 556.1l-0.9 8.5l1.5 1.4l8-0.9l1.2-1.8l-1.5-6.7l-5.5-2.2zM402 698.4l-1.9 7.6l9.4 6.8l6-8.9l-3.7-6.8zM740.1 482.4l0.6-4.5l-2.5-3.2l-4.1-0.3l-6 4.8l4.1 4.3zM577.9 370.1l11.5 2.7l5.3-7.7l-4.4-6.4l-8.1-0.6zM563.7 683.6l-6.1 5.8l3.1 6.3l8.3-5.4l-1.5-5.1zM582.2 602.1l4.6-7.1l-7.2-4.2l-2.2 1.6l0 2.4l-3 0l0.5 4.2l5.2 3.4zM186.5 488.5l-8.6-10.5l-5.8 5.3l-0.9 10.4l8.6 5.2zM588.3 630.5l-3.2-7.6l-6.5 1.2l-1.3 1.9l0.6 4.6l5 2.6zM386.2 693l0.8 3.5l0.3 0.2l0.6-3.3zM638.4 406.2l6.6-12l0-1l-4.4-4.2l-11.4 2.8l-1 5l8.4 9.4zM570.3 412.9l0.9 6l13.9 1l1.2-1.5l0.2-2.7l-9-10.3zM664.5 534.3l1.4-5.2l-1.8-2.5l-8.6 1.3l1.9 7zM714.5 586.1l-2.3 4.6l4.1 6l0.8 0.1l3.8-2.8l0.6-3.7l-4.1-4.4zM538 582.1l0.5 1.1l13 3.3l1.5-4.3l-4.5-5.9l-9.5 3.4zM666.2 415.8l-4.7-1.4l-5.7 4.6l0.1 0.6l5.3 5.3l5 0.1zM722.3 539l-3.3-6.7l-7.7 3.4l1.5 3.5l8.1 0l0 0.5zM374 670.3l4.4 4.3l-2.2-4.9zM593.9 574.3l-1.8-1.7l-7.9 1.4l1.1 8.3l2.5 1.4l5.7-2.7zM575.2 576.2l-2.6-2.8l-6.3 1.1l-0.2 7.6l0.7 0.2l0-4.9l8.2 0zM603.8 348.9l2.2-2.2l-4.4-0.5l1.5 2.5zM573.8 566l-1.2 7.4l2.6 2.8l8.7-1.8l0.3-0.4l-2.4-8.9zM592.2 609.3l-3.7-0.1l-4.9 4.9l2.2 7.6l6.2-1.6l1.7-8.5zM593.9 564.8l7.7-1.1l0-2.2l-1.6 0l0-4.6l0.6 0l-1.2-4.4l-0.7-0.4l-6.6 3.6l-0.7 7zM726.6 583.1l-5-3.4l-4.2 6.2l4.1 4.4l4.8-1.8zM672.7 538.4l0.1 6.6l2.9 2.3l6.7-3.1l-1.1-4.1l-5.2-4.3zM682.8 595.9l0.7 0.8l6.4 1.2l1.2-1.1l0.1-4.3l-3.9-2.8l-3.8 1.7zM742.6 497.8l-5.3 2l-1 4.7l0.6 1l5.5 1.7l3.7-3.8zM750.6 446.9l-0.9 5.9l4.5 3.2l4.5-1.4l1.4-2.5l-5.3-5.8zM698.7 406.7l4.4 3.7l6.5-1.4l-2-6.7l-3.8-0.4zM578 699.4l6.4 0.9l-2-5.4l-8.6-1.6l-1.4 6.5zM728.1 574.5l-4.3 0.8l-2.3 3.4l0.1 1l5 3.4l3.5-1.3l0.8-4.9zM172.1 509.4l3.8 6.6l7.8 1.3l4.3-4.1l-1.1-8.4l-6.9-5zM588.4 660.6l-6.5 0.7l0 5.3l-1.6 0l0 0.5l6.8 3.9l3.4-7zM643.5 531.7l-5.4-3.1l-1.8 0.5l-1.6 6.6l6.5 4zM672.8 545l-0.1-6.6l-6.1-0.7l-3.7 6.5l0.6 1.1l3.6 2zM744.3 520.6l-2.5 0.3l-1.8 2l1.8 6.8l3.5 0.1l4.5-4.7zM752.6 461l-4.1 1.7l-1.2 4.4l1.8 2.6l6.8 0.5l1.2-1l0.7-4.5zM623.3 543.1l2.9 5.2l5.8-0.8l1.1-2l-3.6-7.8l-1.3-0.5zM747.3 475.9l4.3 3.7l4.6-2.8l-0.3-6.6l-6.8-0.5zM594.5 599.7l-7.7-4.7l-4.6 7.1l6.3 7.1l3.7 0.1l3.4-5.3zM159 296l-1.3 3.4l0.2 4.5l1.7-0.4l0.1-7.2zM567.5 685.2l1.5 5.1l4.6 2.7l4.6-7.4l-1.1-2.4l-5.2-1.6zM673.6 592.9l-3.3-0.7l-3.5 4l1.2 4l5.3 1.3l1.4-0.9l1-4zM585.9 687.7l2-5.4l-2.5-5.4l-4.9 0.7l-3.4 5.6l1.1 2.4zM622.6 553.4l7.6 4.1l3.7-5l-1.9-5l-5.8 0.8zM569.2 625.7l-2.5 5.7l7 3.3l4.2-4.1l-0.6-4.6zM596.8 679.4l-3-5.9l-6.3-1.1l-2.1 4.5l2.5 5.4l8.2-0.7zM616.5 547.9l2.3-5.2l-1.5-2.5l-6-1.1l-3.4 3.7l2.2 6.6zM682.4 544.2l-6.7 3.1l-0.1 4.8l6.8 2.5l2.9-6.5l-1.1-2.6zM683.6 559.2l4.3 5.3l0.9 0.2l5.9-4.2l-0.1-1.7l-3.6-3.1l-7.2 2.7zM757.8 464.7l-0.7 4.5l9.2 2.8l1.4-1.9l-0.3-7.6l-5.5-0.9zM672.2 554.7l3.4-2.6l0.1-4.8l-2.9-2.3l-5.7 2.3l1.8 7.4zM661.5 555.6l5.6 0.5l1.8-1.4l-1.8-7.4l-3.6-2l-3.8 7.1zM741.6 485.4l6.2 1.1l3.7-3.2l0.1-3.7l-4.3-3.7l-6.6 2l-0.6 4.5zM592.2 609.3l1.5 2.3l8.2 3.3l3.4-6.9l-3-4.1l-6.7 0.1zM626.4 340.3l0.1-4.1l-1.5-0.2l-11.1 6.2l7.1 3zM161 295.1l-1.4-0.7l-0.6 1.6l0.7 0.3zM654.7 388.5l4 8.5l6.2-2.2l0.5-4.8l-3.6-2.9zM714.5 586.1l2.9-0.2l4.2-6.2l-0.1-1l-6.4-3l-2.9 2l0 6.3zM709.2 554.1l-0.2 4.6l6.4 3.1l0.4-0.2l0.2-7l-1.7-1.8l-2.3 0zM178.6 302.3l-4.6-1.2l0.6 2.1zM185.8 292.5l-4.2 9.1l3.1-0.6zM653.1 401l-2.1 7.6l9.5 0.3l2.2-3.6l-5.3-5.5zM723.8 575.3l4.3-0.8l1.8-4.6l-4.7-4.4l-0.5 0l-2.9 4.4zM587.8 583.7l-2.5-1.4l-1.9 0.9l3 0.2l0 6.8l-6.9 0l0.1 0.6l7.2 4.2l2.7-4.8zM723.8 575.3l-2-5.4l-4.8-0.3l-2 2l0.1 4.1l6.4 3zM738.2 592.4l-2.4-6.8l-6.3 4.7l0.7 3.2l3.5 1.7zM725 540.6l-0.7-0.8l-2-0.8l-1.4 0.7l0 3.9l3.3 0zM597.2 700.7l4.4-1.3l2.7 1.6l3.2-2.5l-0.9-6.1l-1.5-0.8l-9.9 3.5l-0.3 2.3zM709 558.7l0.2-4.6l-3.2-1.7l-5.1 2l3.2 7.1zM682.6 603.3l0.9-6.6l-0.7-0.8l-7.1 0.7l-1 4l6.1 4zM597.2 655.1l-7.6 0.3l-1.2 5.2l2.1 3.4l8.1 0.3l0.4-7.1zM650.7 547.1l2.5 1.1l5.2-5.4l-3-5l-4.1 0.3l-2.8 2.8zM693.3 577.6l-2.9-2.3l-1.7 0.3l-4.4 5.2l4.1 4.5l4.4-0.7l1.4-2zM614.7 623.7l1.9-2.7l-3.6-6l-9.5 3.4l-0.1 1l3.5 5.3zM751.3 494.2l-1.2-0.6l-6.7 2.6l-0.8 1.6l3.5 5.6l5.5 0.7l1.3-2.2zM741.7 599.7l-1.6-6.4l-1.9-0.9l-4.5 2.8l0.9 5.1zM734.1 496.7l0.7-5.1l-3.8-2.6l-4.5 1.3l1.9 7.7zM619 367.4l9.5-4.4l-0.1-6.9l-7-4.1l-5.3 3.8l0.1 9.1zM694.7 560.5l2.8 2.7l6.6-1.7l-3.5-7.2l-6 4.5zM579.3 676.5l-8 0l-0.2-1.3l0.8 6.4l5.2 1.6l3.4-5.6zM716 554.6l5.5-1.2l0.8-2.5l-3.3 0l0-1l-1 0l0-2.4l-0.5-0.2l0 5.5l-3.2 0zM598.3 648.3l-7.7-3.5l-2.6 3.5l0 1.7l-1.3 0l-0.5 0.7l1.2 1.6l1.3 0l0 1.9l0.9 1.2l7.6-0.3zM658.4 542.8l-5.2 5.4l1.3 2.8l5.2 1.4l3.8-7.1l-0.6-1.1zM758.3 486.7l-6.8-3.4l-3.7 3.2l2.3 7.1l1.2 0.6l6.5-2.5zM772.1 404.2l-10.5 4.2l11.2 1.5l0.6-1zM742.3 574.5l-4.9-2.5l-2.3 4.1l2.5 4.5l5-1.5zM611.4 557l2.6 1.8l6.1-1.9l2.4-3.4l-6-5.6l-6.4 1.5l-0.6 1.5zM594.2 692.8l3.3-8.2l-1.4-3l-8.2 0.7l-2 5.4l0.2 0.5zM688.8 564.7l4.6 4.9l3.1-0.7l1-5.7l-2.8-2.7zM682.4 554.6l1.4 3.8l7.2-2.7l1.1-5.7l-6.8-1.9zM586.3 700.6l8.6-3.2l0.3-2.3l-1-2.3l-8.1-4.6l-3.7 6.7l2 5.4zM630.2 557.5l0.4 2l5.6 3.9l4.4-4l0.3-5l-7-1.9zM705.1 579.9l1.9 4.3l5.2-0.2l0-6.3l-4.8-1.6zM779.8 458.3l-2.1-5l-5.9-2.3l-3.1 2.9l0.1 7.3l7.8 0.5zM735.8 585.5l0.4 0.4l8.5 0l0.6-0.5l-0.1-4.5l-2.6-1.8l-5 1.5zM675.6 552.1l-3.4 2.6l3.5 6.7l3 0.8l4.9-3l0.2-0.8l-1.4-3.8zM150.9 494.7l6-4.2l0.7-6.6l-11.6-4l-4.8 10.1l0.6 1.7zM684.1 570.2l4.6 5.4l1.7-0.3l3-5.7l-4.6-4.9l-0.9-0.2zM598.3 648.3l1.5-0.9l1.6-9.3l-1.6-1.8l-7.2 1.6l-2.3 4l0.3 2.9zM733.4 531.6l0.6 6l5.1 2.8l2.6-2l-2.1-7zM648.5 540.9l-6.9-0.2l-1.4 2.9l3.2 7.6l7.3-4.1zM721.8 569.9l2.9-4.4l-3.9-3.9l-5 0l1.2 8zM728.1 556.9l2.5-3.8l-1.2-2.4l-2.7-0.6l0 0.8l-4.4 0l-0.8 2.5l2 3.5zM600.8 587.7l-1-3.4l-6.3-3.3l-5.7 2.7l1.7 6.5l10.4-0.6zM603.5 618.4l9.5-3.4l0.6-2.6l-3.1-4.5l-5.2 0.1l-3.4 6.9zM146 469.1l-5.7-5.1l-10.6 3.3l0.6 10.8l13.7-2.8zM729.3 541.9l2.1 3.4l6.1 0.5l1.1-1l0.5-4.4l-5.1-2.8zM605.3 608l5.2-0.1l2.8-6.1l-4.6-4.1l-3 0.2l-3.4 6zM163.4 504.8l2.8 3.7l5.9 0.9l7.9-9.6l-0.2-0.9l-8.6-5.2l-6.6 2.5zM729.4 550.7l2-5.4l-2.1-3.4l-4.3-1.3l-0.8 3l2.1 0l0.4 6.5zM619.8 632.2l2.3-0.5l1.5-2.1l-0.6-6.2l-3.1-2.5l-3.3 0.1l-1.9 2.7l1.4 6.8zM619.4 373.6l9.8 3.9l3.1-1.6l0.3-9.3l-4.1-3.6l-9.5 4.4zM757.8 491.7l-6.5 2.5l1.6 7.7l7.1-1.3l0-7zM654.5 551l-3.4 5.7l0.2 0.7l6.5 3.6l3.7-5.4l-1.8-3.2zM776.1 470.5l2-2.1l-1.5-6.7l-7.8-0.5l-1.4 1.3l0.3 7.6zM701.2 571.6l-2.2 4.7l2.1 3.7l4-0.1l2.3-3.8l-0.9-2.1zM777.2 478.1l5.8 0l3-4.5l-2.9-4.5l-5-0.7l-2 2.1zM573.8 693.3l8.6 1.6l3.7-6.7l-0.2-0.5l-7.7-2.1zM611.4 557l-1.9-6.1l-10.1 1.6l1.2 4.4l7 0l0 2.4zM611.6 591.9l-3.7-4.8l-7.1 0.6l-0.9 1.9l0.4 2.9l5.4 5.4l3-0.2zM793.2 466.7l4.8-3.8l-4.2-6.3l-5-0.8l-3.2 3.1l1.3 4.7zM751.9 586.8l1.8-3.5l-2.7-6l-5.8 3.6l0.1 4.5zM613 615l3.6 6l3.3-0.1l3.7-6.5l-1.6-3.9l-1-0.6l-7.4 2.5zM599.8 667.8l3.3 3.4l0-4.6l7.4 0l0-0.7l-1.4 0l0-3.1l-9.5 2.8zM135 506.7l13.8 1.9l2.5-3.2l-0.4-10.7l-9.1-3l-7.2 10zM689.5 374.9l-5.2-2.7l-3.8 2.9l1.2 6l6.5 1.7l0.7-0.6zM151.3 505.4l12.1-0.6l1.2-8.6l-7.7-5.7l-6 4.2zM130.1 478.4l-6.1-0.6l3.4 10.1l3.1-4.2zM787.4 485.7l-4.4-7.6l-5.8 0l-1.8 1.6l2.3 7.3l7.6 0.8zM754.5 528.3l-1.4 6.8l1.3 1.4l7.2-0.9l0.8-3.2l-0.9-1.8zM770.8 479.9l4.6-0.2l1.8-1.6l-1.1-7.6l-8.4-0.4l-1.4 1.9l-0.1 3.2zM623 623.4l0.6 6.2l6.8-0.5l1.6-2.2l-1.2-5.2l-0.6-0.3zM593.9 574.3l-0.4 6.7l6.3 3.3l2.5-5.4l-7.5 0l0-4.6zM614.2 689.3l2.3 8.1l6.2 1.3l3.1-8.8l-4.3-2.5zM664.7 603.7l2.7 4.5l4.1 0.3l1.8-7l-5.3-1.3zM574.3 537.6l0.7 1.5l8.7 0.6l1.6-2l-3.7-8.6l-3.9 0.2zM668 600.2l-1.2-4l-4.4-0.4l-2.6 5l1 2.1l3.9 0.8zM647.2 562.8l4.1-5.4l-0.2-0.7l-7.9-4.7l-2.3 2.4l-0.3 5zM724.7 565.5l5.2-3.9l-1.8-4.7l-4.6 0l-2.7 4.7zM663 575.7l6.9-2.2l1.6-3.5l-2.3-4.8l-1.7-0.8l-4.2 1.3l-1.1 8.6zM737.8 551.8l-0.3-6l-6.1-0.5l-2 5.4l1.2 2.4l4 0.7zM659.8 600.8l2.6-5l-2.6-4.9l-6.5 1.7l0.8 6.5zM766.2 475.2l-5.2 3.8l-0.2 5.7l6.8 1.8l3.2-6.6zM753.7 583.3l5.3-0.6l1.5-4.3l-4.9-3.4l-4.6 2.3zM607.5 698.5l-3.2 2.5l8.9 5.3l-0.5-5.9zM774.4 490.4l3.3-3.4l-2.3-7.3l-4.6 0.2l-3.2 6.6l1.6 3.5zM621.2 679l0 7.3l-7.5 0l0-1.5l-1.1 0l1.8 4.3l7.1-1.7zM768.5 498.9l-3.2 3.9l3.7 4.8l5.9-1.5l1.7-2.9l-2.7-3.6zM730.9 576.9l-0.8 4.9l5.7 3.7l1.8-4.9l-2.5-4.5zM669.2 565.2l6.5-3.8l-3.5-6.7l-3.3 0l-1.8 1.4l0.4 8.3zM648.6 575.7l0.5-0.5l-3-6.7l-6 0.6l-1.4 5.8l1.6 1.5zM792.6 473.4l0.6-6.7l-6.3-3.1l-3.8 5.5l2.9 4.5zM619.9 620.9l3.1 2.5l7.2-2l-1.8-5.5l-4.8-1.5zM656.2 608.7l1.7-0.4l2.9-5.4l-1-2.1l-5.7-1.7l-3.5 3.6l0.5 2.9zM637.2 616.7l-4.5-5.1l-4.3 4.3l1.8 5.5l0.6 0.3l5.3-2.2zM618.9 600.9l0.2-9.9l-7.5 0.9l-2.9 5.8l4.6 4.1zM664 379l8.5 4l1.7-7.7l-6.6-2.6l-4.5 4.3zM650.6 602.7l3.5-3.6l-0.8-6.5l-1.7-1.1l-6 1.9l0 7.2zM662.4 595.8l4.4 0.4l3.5-4l-3.2-4.9l-5.6 0.8l-1.7 2.8zM630.6 559.5l-6.2 5.3l-0.5 2.2l5.6 3.9l6.7-6.3l0-1.2zM132 507.5l0 1.7l1.5 7.4l0.9-9.2zM776.2 494.2l8.7 1.7l0.4-8.1l-7.6-0.8l-3.3 3.4zM734 562.6l-4.1-1l-4.7 3.9l4.7 4.4l3.4-0.9zM623.6 629.6l-1.5 2.1l5.6 6.9l4.5-3.1l-1.8-6.4zM625.8 689.9l-3.1 8.8l1 1.7l5.9 1.4l5.1-4.9l-0.4-2.8l-6.1-4.9zM621.2 679l1.5-1.5l-0.5-6.6l-2.4-1l-0.8 0.3l0 1l0.7 0l0 7.5zM630.2 679.6l3-4.4l-1.4-3.7l-6.1-2.9l-3.5 2.3l0.5 6.6zM667.1 587.3l1.8-3.6l-5.9-7.5l-4.9 5.5l3.4 6.4zM751.8 504.7l-0.2-0.6l-5.5-0.7l-3.7 3.8l1.2 4.3l4 1.9zM618.7 655.3l5.2-5l-5.4-6.7l-6.8 6.8zM636.6 607.4l4.5 0.5l2.2-6.1l-7.8-4.1l-1.7 1.3zM640.5 584.9l6.2-1.6l1.9-7.6l-8.3 0.7zM710.2 569.5l4.8 2.1l2-2l-1.4-7.9l-6.2 5zM617.4 640.7l-7.2-2.4l-2 1.3l0.4 9.7l1.1 1.3l2-0.2l6.8-6.8l0.1-1zM753.2 516.1l0.7-0.2l3-6.3l-5.1-4.9l-4.2 8.7zM663 576.2l-0.8-1.9l-7-2.7l-4.9 3.7l6 6.3l1.8 0.1zM661.2 355.4l4.4 6.9l5.9-3.3l-3.2-6.4l-5.4-0.4zM737.6 561.5l-1.2-0.2l-2.4 1.3l-0.7 6.4l4.1 3l3.9-5.5zM629.6 599.3l-2.8-7.2l-7.5-1.3l-0.1 9.8l9.1-0.1zM622.6 553.4l-2.5 3.5l4.3 7.9l6.2-5.3l-0.4-2zM659.8 590.9l1.7-2.8l-3.4-6.4l-1.8-0.1l-5.3 4.6l0.6 5.3l1.7 1.1zM645.6 600.6l0-7.2l-2.1-1l-7.3 3.6l-0.7 1.7l7.8 4.1zM737.5 545.8l0.3 6l4.1 1.6l3.6-1.8l-0.9-5.1l-6-1.7zM802.4 473.4l0-9.1l-0.7-1l-3.7-0.4l-4.8 3.8l-0.6 6.7l1.5 1.6zM636.2 564.6l-6.7 6.3l0.6 2.8l2.2 2.2l6.4-1l1.4-5.8zM651 586.2l-4.3-2.9l-5.8 1.8l2.6 7.3l2.1 1l6-1.9zM784.4 496.1l-8.2-1.9l-2.3 5.4l2.7 3.6l2.3-0.3zM753.9 526.9l0.6 1.4l7 2.3l2-5.5l-2.6-4.1zM741.7 538.4l-2.6 2l-0.5 4.4l6 1.7l3-3.3l-2-4.6zM753.1 535.1l-5 0.4l-2.5 3.1l2 4.6l3.8 0.9l3.1-2l-0.1-5.6zM756.2 476.8l4.8 2.2l5.2-3.8l0.1-3.2l-9.2-2.8l-1.2 1zM640.9 585.1l-1.8 0l-5 4.7l2.1 6.2l7.3-3.6zM621.2 679l0.3 8.4l4.3 2.5l2.4-0.7l3.1-5.8l-1.1-3.8l-7.5-2.1zM632.8 610.4l-4.6-3.3l-6.2 3.4l1.6 3.9l4.8 1.5l4.3-4.3zM798 462.9l3.7 0.4l4.8-8.8l-1.2-1.3l-7-1.8l-4.5 5.2zM632.1 580.7l0.2-4.8l-2.2-2.2l-7.3 4.3l1.4 5l4.5 1zM734.6 553.8l-4-0.7l-2.5 3.8l1.8 4.7l4.1 1l2.4-1.3zM619.2 659l6.1 1.8l4.2-7.5l-3.6-3l-2 0l-5.2 5zM622 610.5l6.2-3.4l0.1-6.6l-9.1 0.1l-0.3 0.3l2.1 9zM741.8 529.7l-2.2 1.7l2.1 7l3.9 0.2l2.5-3.1l-2.8-5.7zM611 582.7l-3.1 4.4l3.7 4.8l7.5-0.9l0.3-3.3l-5-5.5zM744.6 546.5l0.9 5.1l3.1 1.2l3.4-1.7l-0.6-7l-3.8-0.9zM687.3 589.7l3.9 2.8l4.2-2.6l-2.6-5.3l-4.4 0.7zM626.8 592.1l3.2-3.4l-1.3-4.7l-4.5-1l-4.8 4.7l-0.1 3.1zM635.9 665.8l-1.4-3.4l-7.6 0.8l-1.2 5.4l6.1 2.9zM634.7 696.9l6 3.6l1.3-1.3l-4.5-6.2l3.1-2.9l-1.3-0.1l-5 4.1zM634.1 589.8l-4.1-1.1l-3.2 3.4l2.8 7.2l4.2-0.3l1.7-1.3l0.7-1.7zM628.7 584l1.3 4.7l4.1 1.1l5-4.7l-7-4.4zM795.7 445.6l7.8-3l-1.6-7.4l-9.5 0.8l-0.8 3.5l2.7 5.3zM751.4 544.1l0.6 7l4.9 1.2l2.2-3.7l-1.7-5.1l-2.9-1.4zM741.9 553.4l-0.2 5.2l5 1.9l2.3-1.6l-0.4-6.1l-3.1-1.2zM779.2 522.4l-5-6.7l-2.6 0.4l-1.8 2l0.8 5.9l5.8 1.6zM627.7 638.6l-5.6-6.9l-2.3 0.5l-2.4 8.5l1.2 1.9l8.7-2.7zM774.9 506.1l-5.9 1.5l-0.7 2.9l3.3 5.6l2.6-0.4l3.2-3.1zM615.2 575.2l0 2.2l-7.6 0l0 0.9l3.4 4.4l3.4-0.5l2.8-5.7zM776.8 529.6l-0.4-4l-5.8-1.6l-2 2l0.5 5.4l1.8 1.6zM770 565.5l-4.5 1.7l-1.6 4.4l0.2 0.6l6.1 2.1l2.4-6.9zM764.9 547.8l0.8-1.9l-2.9-5.2l-5.4 2.8l1.7 5.1zM810.2 454.8l-3.7-0.3l-4.8 8.8l0.7 1l9.6 2.2l2.8-2.6zM793.8 456.6l4.5-5.2l-2.6-5.8l-1.4-0.8l-6.3 6.2l0.8 4.8zM747.9 568.6l-2.2-2.1l-4.4 0l-3.5 5.4l4.5 2.6l5.2-2.5zM805.9 444.1l6.2-2.1l-1.4-7.3l-7.1-1.3l-1.7 1.8l1.6 7.4zM764.1 572.2l-2.3 5.7l6.4 2.7l2.3-5.6l-0.3-0.7zM769.1 531.4l-6.7 1l-0.8 3.2l1.8 3.1l5.8-0.6l1.9-2.5l-0.2-2.6zM753.5 560.7l2.2-1.4l1.7-5.8l-0.5-1.2l-4.9-1.2l-3.4 1.7l0.4 6.1zM675.6 367.1l-1.4-2.6l0.2 1.9zM640.8 700.7l4.7 4.6l1.4 0.3l-4.9-6.4zM780 532.1l-3.2-2.5l-5.9 3.4l0.2 2.6l6.2 2.8l3.3-3.6zM753.5 566.8l0-6.1l-4.5-1.8l-2.3 1.6l-1 6l2.2 2.1zM778.9 502.9l-2.3 0.3l-1.7 2.9l2.5 6.5l4.6-0.1l1.1-6.1zM629.5 653.3l6.5-3.8l-1.7-4.6l-5.3-1.6l-3.1 7zM755.7 559.3l-2.2 1.4l0 6.1l3 1.8l4.9-4.8l-0.1-1.6zM766.6 551.3l-2.9 4.5l1 2.8l4.3 1.3l4.5-3.8l-1.4-3.8zM769.2 538.1l1.9 5.9l1.6 0.7l4.7-3.6l-0.1-2.7l-6.2-2.8zM784.8 524.9l-4.7-2.6l-0.9 0.1l-2.8 3.2l0.4 4l3.2 2.5l5.1-4zM791.5 521.1l-0.7-0.2l-6 4l0.3 3.2l5.1 3.8l2.5-2.8zM780.1 522.3l4.7 2.6l6-4l-4.5-6l-1.6-0.2zM799.7 524.4l-5.6-4.1l-2.6 0.8l1.2 8l6.2-0.1zM701.1 580l-2.1-3.7l-5.7 1.3l0.9 5l5.1 0.6zM790.7 534.4l-0.5-0.7l-5.9 2.7l0.7 5.1l3 1.9l3.2-1zM795 511.7l3.9-3.3l-2.9-6.4l-0.4-0.2l-6.3 4l1.2 4.9zM799.1 508.4l-4.1 3.3l1.2 5.3l5.4-0.4l1.3-3.7zM829.2 436.5l-6.8 0.4l-1.4 4.1l12 0zM665.1 364.8l3.1 3.6l6.2-2l-0.2-1.9l-2.7-5.5l-5.9 3.3zM815 451.5l-4.8 3.3l4.6 9.1l2.4 0l1.8-2.7l0-8.1zM823.7 471.2l-5.8 4l-0.4 5.2l3.3 3.2l2.3-0.1l3.4-3.4l0-6.2zM724.1 679.3l-6.6-1.1l-2.6 2.2l-0.2 4.4l0.7 0.4l8.6-3.9zM840 432.6l1.4-8.3l-2.3-3.6l-4.4-1.4l-4.7 8l2 3.7zM840 432.6l1 1.7l10.1-2.7l-1.1-6.4l-8.6-0.9zM761.4 563.8l-4.9 4.8l0.5 1.2l6.9 1.8l1.6-4.4zM819.8 420.8l-6.5 4.8l0.8 5.7l7 2.6l3.4-6.6zM658.1 356.9l-10.8-5.1l-2.5 1.7l6.4 9.4l4.8-0.6zM814.3 528.9l-1.8-4.1l-5.2-0.9l-1.6 7l6 3.1zM792.4 542.9l4.9-2.8l0.1-4.1l-6.7-1.6l0.5 8zM853.4 433.6l-1.3 3.3l5.4-2l-0.9-1.3zM853.4 433.6l3.2 0l2.8-2.6l0-7.4l-3.9-2.1l-2.8 0.4l-2.7 3.3l1.1 6.4zM656.9 675.4l-3.7 5.4l0.7 1.3l7.4-3.2l-2.5-3.2zM865.9 415.9l-6.5-4.4l-0.7 0.2l-3.2 9.8l3.9 2.1l3.8-1.1zM876.8 406.9l-2.3-0.9l-7.1 9.6l5.9 5l5.5-2.1l1-1.5zM809.1 507.9l-2.4 4.3l2.6 4.4l3.7-0.2l1.6-5.6l-1.8-2.3zM813 516.4l-3.7 0.2l-3.9 5l1.9 2.3l5.2 0.9l3.9-4.9zM859.4 431l-2.8 2.6l0.9 1.3l8-3zM800.9 552.3l-5.8 0.8l-0.2 5.2l4.8 2.3l2.8-2.6zM821.4 511.3l-6.8-0.5l-1.6 5.6l3.4 3.5l3.2-0.3zM851.1 431.6l-10.1 2.7l-0.2 2l3.9 4l0.3-0.8l7.1-2.6l1.3-3.3zM710.7 685.7l1.3 1l0.5-0.2l0.1-0.4zM819.6 519.6l6.8 0.1l1.5-0.7l0.3-4.3l-4.9-4.1l-0.8-0.1l-1.1 0.8zM829.2 529.4l2.3 0.2l-3.6-4.9l-0.7 2.2zM815.3 542.6l-2.1 2.8l1 4.5l3.6 2.2l3.9-4.4l-1.3-4.4zM811.7 534l-6-3.1l-4.4 1.4l-0.2 0.7l4.2 7.6l0.6 0.2l6.2-5.1zM797.3 540.1l-4.9 2.8l2.2 4.1l5.2-0.6l1.1-4zM859.4 411.5l6.5 4.4l1.5-0.3l7.1-9.6l-0.7-0.8l-11.4 0zM879.8 417l-1 1.5l1.2-0.5l6.6 0l-0.5-0.8zM763.9 719.6l-6.7-0.8l0.6 3.2l3.3 3.6l3.2-4.5zM827.1 534.7l1 1.8l4.6 1l2.2-2.2l-0.3-1.7l-3.1-4l-2.3-0.2zM865.4 431.7l1-0.1l0.7-2zM819.3 519.8l2.3 7.7l5.6-0.6l0.7-2.2l-2.2-4.7l0.7-0.3zM813.2 536.5l2.1 6.1l5.1 0.7l1.6-2.1l-1.7-5.5zM886.6 418l3.4 0l-1.4-4.1l-2.5 3.3zM828 569l0.5-0.8l-0.6-4.7l-0.8-0.1l-5.7 3.7l0.1 3.5zM781 683.2l-2.2 1.8l0.5 2.5l5.1 4l1.9-1.2zM833.5 542.4l-0.8-4.9l-4.6-1l-2.1 4.3l3.3 4l2.8-0.5zM829.2 436.5l2.8-5.5l-2-3.7l-5.5 0l-3.4 6.6l1.3 3zM774.2 732.6l-3.5-1.3l-3.1 1.6l5.2 5.9l0-4.8l2.1 0zM792.1 758.7l2.1 2.5l1 0.7l-0.2-2.3z"/><path fill="#80bfe6" d="M237.5 377.5l22.4-7.7l-4.9-15.8l-7.2 0.2l-1.7 1.1l-2.3-4.7l-3.9-0.5l-11.3 19.8zM416 659.5l-4.5-3.3l-14.9 1.6l-1 1.3l1.8 7.9l13.1 9.6l4.1-2.9zM539 579.7l9.5-3.4l0.9-3.1l-6.6-6.3l-4-0.4l-1.1 1.1zM464.5 597.8l7.2-1.8l-1.4-13.8l-12.7-0.2l0.4 13.5zM484.5 581.9l-13.2-0.8l-1 1.1l1.4 13.8l5.1 2.2l6.7-2.1zM574.1 451.2l0.1-9.1l-0.8-0.9l-9.1 1.2l-0.8 8l0.5 0.6l9.1 1zM592.5 462l-9.2-1.5l-0.4 6.5l1.1 0l0 4.3l8.3-1.4zM621.2 470.7l-7.8-1.6l-1.5 1.5l0.3 9.6l8.5-0.9zM630.8 490.9l8.7-0.5l1.8-4.6l-2.4-5.6l-6.7 0.2l-2.3 9.4zM555 499.8l8.8-0.6l0.7-8.1l-0.4-0.6l-9.4-2.3l-0.9 0.9l0.5 10.2zM593 499.8l10-1.5l0.1-8l-0.6-0.4l-9.3-0.7l-0.6 0.5zM593.4 519.8l-1.6-1.7l-7-0.3l-1.3 1.2l-0.2 8.5l9.2 0.3zM632.3 519.1l-1.4-1.4l-9.5 1.3l0.5 4.9l6.6 3.9l2.6-1.3zM648.9 467.8l-0.4-8.1l-5.5-0.6l0 7.9l-1.5 0zM659.4 467.4l0.8 8.2l7.8-0.2l-0.7-9.6l-0.8-0.6zM686.1 486.8l-1.6-2.2l-8.3 0.2l1.3 9.5l6.5 0zM458 595.5l-4.9 2.5l-0.8 13.1l11.3 0.5l0.9-13.8zM522.2 610.9l1.5-14l-11.8-1.6l-1 0.7l0.1 14.7l0.9 0.7l9.5 0.2zM533.7 612.1l0.9-0.7l-0.7-9l-7.4-5.9l-1.9-0.2l-0.9 0.6l-1.5 14zM533.9 602.4l0.7 9l8 0.3l0-2.6l1.9 0l0.2-1.5l-0.6 0l0-4.9l-2.8-2.9zM441 610.4l-9.7 0.9l-5.6 12.2l14.8-1.1l2-10.7zM452.3 611.1l-9.8 0.6l-2 10.7l12.8 1.6zM464.8 623.1l0.5-0.5l-0.7-10.1l-1-0.9l-11.3-0.5l1 12.9zM499.3 610.8l-10.2-0.9l-2.3 2.5l1.5 9.8l10.3 0.1zM499.6 611.1l-1 11.2l0.5 0.7l10.8 0.8l0.4-0.3l1.6-12.1l-0.9-0.7zM520.8 624.3l1.7-1.7l-1.1-11l-9.5-0.2l-1.6 12.1zM533.7 612.1l-0.8 11l6.6 0.1l0-2.7l3.1 0l0-8.8l-8-0.3zM425.7 623.5l-0.9 0.6l4.8 10l10.9 1.7l1.6-1.4l-1.6-12zM442.1 634.4l10-0.5l1.2-9.9l-12.7-1.6zM488.3 622.2l-1.6 1.3l-0.8 10.1l1.6 1.5l10.7-2.4l0.9-9.7l-0.5-0.7zM532.9 634.3l-0.6-10.6l-9.8-1.1l-1.7 1.7l0.2 8.8l2.8 2.4zM548.6 635.1l0-3.3l0.8 0l0-2.2l-5.5 0l-0.4 3.3l2.8 2.8zM452.8 634.7l0.3 11.1l11.7-0.1l0.9-8.9l-1.9-1.9zM488 644.8l11 0.2l0.9-10.4l-1.7-1.9l-10.7 2.4zM499 645l12.4 0l-0.6-9.4l-0.4-0.4l-10.5-0.6zM523.8 635.5l-1.9 10.6l13.2-1.1l-2.1-10.6zM555.6 643.9l0.3-4.5l-7.3 0l0-4.3l-2.3 0.6l-0.7 8.4l7.8 1.7zM428.7 648l-1.2 9.8l0.7 0.7l13.4-0.4l0.6-11.4l-1.3-1.1zM441.6 658.1l1.8 0.2l0-2.5l10.2 0l-1.1-9.3l-10.3 0.2zM452.5 646.5l1.1 9.3l6.5 0l0 1.3l4.8-0.1l0.4-10.6l-0.5-0.7l-11.7 0.1zM488 644.8l-0.4 0.5l1.3 11.6l10.8 0.2l-0.5-11.9zM499.2 645.2l0.5 11.9l10.3-0.6l2-10.9l-0.6-0.6zM510.4 657l11.9 1.2l1.6-1.7l-2-10.4l-9.9-0.5l-2 10.9zM534.8 645.3l-12.9 0.8l2 10.4l9.5 0.2zM550.8 657.3l4.5-5.5l-1.9-6l-7.8-1.7l-1.6 1.3l1 12.3zM522.3 658.2l-11.9-1.2l0.7 11.7l0.8 0.8l10.3-0.9zM425.7 675.9l2.7 4.8l6 0l-2.4-6.4l3.5 0l0-5.2l-5.3-1.5zM452.9 674.7l9 0l0 4.8l0.8 0l0-4.3l1.5 0l0.1-6.1l-2.9-0.5l0.5 5.7l-9 0zM446.3 690.4l5.9 0.1l0 0.7l0.4-0.1l0.3-1.9l-4.2 0l0-7.5l4.6 0.2l0-0.6l-4.6 0l0-1.8l-0.8 0l0.3 9.7l-3.4 0zM486.1 686.6l1.2 0l0 4.3l3 2.2l7.3-2.3l0.7-9.3l-10.5-2.2l-1.4 1.2zM501.2 693.6l9.5-2.8l-1.5-10.4l-9-0.5l-1.9 1.6l-0.7 9.3zM182.5 376.5l1.6-9l-7.3-6.8l-3.3 0.2l-3.7 9.6l5.9 2.7l-0.4 3.5l5.7 1zM379.9 676l3.1 3l3.2 14l1.7 0.4l5.9-4l0.3-1.5l-3.5-8zM210.2 307.6l8 4.5l8.5-7.4l-1.6-4.9l-14-3.2zM415 690.4l-3.2 6.7l3.7 6.8l1.5-2.3l10.3-4.3l-2.4-0.2l-2.8-7.1zM201.1 370.8l12.8 7.4l13.6-8.5l-8.6-10.5l-14.1 2.4l-4 7.6zM563.3 634.5l1-1.9l-4.3-5.1l0 7.7zM705.1 441.6l0.7-7.7l-3.3-1.8l-5.6 2l-1.3 5.2zM180.3 316.7l5.1 14.3l14.5-7.4l-11.1-11.4zM492.4 706.8l9.1-6.7l-0.3-6.5l-3.6-2.8l-7.3 2.3l-1.4 11.4zM402 698.4l9.8-1.3l3.2-6.7l-5.6-9.4l-15.3 6.9l-0.3 1.5zM567.9 607.4l-2.6 4.6l1.4 6.7l8.6-1.9l2-3.1l-1.6-4zM182.5 376.5l-1.5 1.2l0.3 3.1l1.2 0.2l4 6.1l-2-6.1l11.1 4.7l0.6-0.5l-1.1-7.3zM174.7 334.2l-2.6 3.9l1.7 7.7l8.8 3l6.4-7.8l-4.1-8.9zM574.9 599l-8 4.2l1 4.2l7.8 2.3l4.4-7.3zM471.5 703.3l1.8 0l0 6.2l6.5 0.8l5.1-5.5l-2.6-2.4l-0.3 0.9l-10.5-0.7zM501.5 700.1l6.4 4.2l5.1-3.6l0.9-7.7l-3.2-2.2l-9.5 2.8zM566.6 618.9l-1.3-6.9l-4.6-0.8l0 2.5l-6.1 0l0.1 0.7l5.3 0l0 5.3l2.2 0l0 0.6zM453 718l0.2-0.8l-1.6-2.4l-0.5-0.1zM565.2 397.2l-1.8 11.2l6.9 4.5l7.2-7.5l0.2-4.6l-6.1-4.4zM561.9 653.2l-6.6-1.4l-4.5 5.5l5.2 5.2l5.1 0.1l2.4-6.8zM555.6 643.9l-2.2 1.9l1.9 6l6.6 1.4l3.5-9zM187.9 430.8l3.5 12.2l11.8-2.8l1.7-2.1l-1.1-7.3l-5.2-3.8l-0.5 2.8l-8.7-1.6zM563.5 655.8l-2.4 6.8l1.1 1.7l0-0.7l3.1 0l0-4.6l6.5 0l-0.9-1.5l-1.1 0l0-1.6zM565.8 643.9l-3.9 9.3l1.6 2.6l6.3 0.1l0-4.4l2.3 0l0-1.3zM520.3 705.5l-7.3-4.8l-5.1 3.6l-0.4 7.8l9.3 2l2.9-2.3zM622.5 553.5l3.7-5.2l-2.9-5.2l-4.5-0.4l-2.3 5.2zM541.3 599.8l0.1-1.3l-4.9 0l0-6.8l2.9 0l-1.6-1.8l-11.3 6.6l7.4 5.9zM158.1 342.1l-2-0.2l-1.1 4.6l4.6 1zM172.1 338.1l2.6-3.9l-6.4-9.3l-9.4 3.9l1.6 10.3zM393.8 689.4l-5.9 4l-0.6 3.3l12.8 9.3l1.9-7.6zM707.1 596.2l0.8-4.1l-4.1-3.9l-2.1 0.1l-2.7 2.5l0.3 4.5l4.3 2.4zM566.7 631.4l-2.4 1.2l-1 1.9l2.6 9.2l7.7-3.3l0-4l0.4 0l-0.3-1.7zM199.8 323.2l3.7-9.6l-14.5-2l-0.2 0.6zM704.5 604.6l6-1l0.5-4.1l-3.9-3.3l-3.5 1.5l-0.5 5.6zM170.9 459.2l-2.7 9.6l10 7.1l0.8-0.7l4.8-14.2l-4-4zM566.6 618.9l2.6 6.8l8.1 0.3l1.3-1.9l-3.3-7.3zM573.6 640.4l-7.8 3.5l6.3 6.3l0-6.3l1.5 0zM161.4 354.3l-2.3 2.3l3.9-1l1.9 3l-3.9 2.9l-3.1-0.8l-0.2 0.8l4.3 1l-2 4.8l-3.7-1l-0.1 0.3l6.1 2.7l2.6-1l4.9 2.2l3.7-9.6l-7.2-6.4zM168.3 324.9l0.2-0.7l-5.5 1.8l-4.7-2.4l-0.5 4.6l1.1 0.6zM157.8 328.2l-1.7 13.7l2 0.2l2.4-3l-1.6-10.3zM588.5 609.2l-6.3-7.1l-2.1 0.3l-4.4 7.3l1.6 4l6.3 0.4zM142.3 405.1l4.1-1.6l-0.4 5.3l1.3 0l1-4.3l0.8-0.1l-7.6-3.9l-1.3 0.7l1.3 1.3l-0.5 0.7zM492.4 706.8l1.5 4l12.6 2.1l1-0.8l0.4-7.8l-6.4-4.2zM578.6 624.1l6.5-1.2l0.7-1.2l-2.2-7.6l-6.3-0.4l-2 3.1zM691.1 596.8l5.5 0.9l2.7-2.4l-0.3-4.5l-3.6-0.9l-4.2 2.6zM178.7 316.2l-4.8-11.8l-10.8 3l-0.4 3.9l7.3 0.7l1.4 7.5zM159.6 303.5l-1.7 0.4l0.4 11.9l1.1-0.6l0.6-4.2l2.7 0.3l0.4-3.9zM573.8 566l-1.5-1.4l-8.8-0.4l0.3 8.6l2.5 1.7l6.3-1.1zM584.2 574l7.9-1.4l1.8-7.8l-2.5-2.1l-8.4 0.6l-1.2 1.8zM716.3 596.7l-4.1-6l-4.3 1.4l-0.8 4.1l3.9 3.3zM749.1 469.7l-1.8-2.6l-7.1 0.5l-2 7.1l2.5 3.2l6.6-2zM410.5 676.6l-13.1-9.6l-6.8 12.9l3.5 8l15.3-6.9zM601.1 564.1l-7.2 0.7l-1.8 7.8l1.8 1.7l0.9 0l0-5.3l5.2 0l0-1.5l1.3 0zM139.9 383.1l-6.7 11.3l0 1.2l1.4-2.9l6.9-7.8l1.9 5.9l-1.4-7.3zM720.9 594l-3.8 2.8l2.7 7.1l2.5-0.1l4-5l-0.1-1.3zM159 482.4l-1.4 1.5l-0.7 6.6l7.7 5.7l6.6-2.5l0.9-10.4zM678.4 586.9l-4.8 6l2.1 3.7l7.1-0.7l0.7-4.5zM699 590.8l2.7-2.5l-2.4-5.1l-5.1-0.6l-1.4 2l2.6 5.3zM603.5 618.4l-1.6-3.5l-8.2-3.3l-1.7 8.5l4.4 3.6l7-4.3zM178.2 475.9l-10-7.1l-8.3 1.1l-0.9 12.5l13.1 0.9l5.8-5.3zM575.2 576.2l-0.1 1.9l8.3 0l0 5.1l1.9-0.9l-1.4-7.9zM202.5 399l-10.1-0.8l-0.4 0.4l5.1 1l-2.1 12l3.4 0.6l6.3-10.1zM683.5 596.7l-0.9 6.6l6.3 1.2l1.1-0.7l-0.1-5.9zM155 466.1l-9 3l-2 6.2l2 4.6l11.6 4l1.4-1.5l0.9-12.5zM586.3 700.6l7.5 1.1l3.4-1l-2.3-3.3zM641.2 539.7l0.4 1l6.9 0.2l2.8-2.8l-4-7.7l-3.8 1.3zM733.7 595.2l-3.5-1.7l-4 4l0.1 1.3l6.1 4.2l2.2-2.7zM592 620.1l-6.2 1.6l-0.7 1.2l3.2 7.6l7.7-4l0.4-2.8zM563.8 600.8l2.4-8.1l-1.9-1.7l-0.6 0l0-0.5l-1.6-1.5l-4.8 1.3l-0.2 6.7l5.3 3.9zM729.5 590.3l-3.2-1.8l-4.8 1.8l-0.6 3.7l5.3 3.5l4-4zM733.3 569l-3.4 0.9l-1.8 4.6l2.8 2.4l4.2-0.8l2.3-4.1zM606.2 628.6l0.7-3.9l-3.5-5.3l-7 4.3l-0.4 2.8l4.5 5.9zM588.2 630.7l-5.3 2.5l-0.9 6.3l8.3 2.4l2.3-4zM600.5 632.4l-4.5-5.9l-7.8 4.2l4.4 7.2l7.2-1.6zM678.4 586l0 0.9l5.1 4.5l3.8-1.7l1.1-4.4l-4.1-4.5zM715 571.6l-4.8-2.1l-3.7 4.5l0.9 2.1l4.8 1.6l2.9-2zM609.7 650.6l-1.1-1.3l-8.8-1.9l-1.5 0.9l-1.1 6.8l1.8 2.1l8.6-1.8zM141.7 418.2l2.2 3.8l3.8 1.3l4.8-4.5l-7.1-1.7l1.9-8.3l-1.3 0l-0.6 7.4l-2.9-0.7zM135.5 430.6l0.4 6.1l3.9 3.5l3.7 0.4l8.6-10.4l-4.4-6.9l-3.8-1.3zM132.1 452.5l-7.5 10.4l5.1 4.4l10.6-3.3l-0.4-6.8l-6.4-4.9zM726.5 611.8l5.7 1.8l4.4-4.3l-4.2-5.7l-5.9 4zM122.9 439.8l0.5 6.4l8.7 6.3l1.4-0.2l6.3-12.1l-3.9-3.5zM135.9 436.7l-0.4-6.1l-8.7-7.2l-2.2 7.6l-3 7.7l1.3 1.1zM133.5 452.3l6.4 4.9l9.2-5.5l0.2-4.9l-5.8-6.2l-3.7-0.4zM599.6 665.6l-1-1.3l-8.1-0.3l-3.4 7l0.4 1.4l6.3 1.1l6-5.7zM594.5 599.7l1.1 4.3l6.7-0.1l3.4-6l-5.4-5.4zM144 475.3l-13.7 2.8l0.2 5.6l10.7 6.3l4.8-10.1zM744.3 591.2l0.4-5.3l-8.5 0l2 6.5l1.9 0.9zM724 613.7l1.6 7.2l7.3-2l0.2-0.5l-0.9-4.8l-5.7-1.8zM603.5 685.8l3-3.2l-1.6-3.9l-3.3 0l0-1.4l-4.8 2.1l-0.7 2.2l1.4 3zM736.6 609.3l0.6 0.1l5-5.9l-0.7-3.5l-6.9 0.3l-2.2 2.7l0 0.6zM671.5 608.5l1.4 1.6l5.7-0.2l1.6-1.4l0.6-3.9l-6.1-4l-1.4 0.9zM599.8 667.8l-6 5.7l3 5.9l4.8-2.1l0-6.1l1.1 0zM607.5 698.5l5.2 1.9l3.8-3l-2.3-8.1l-7.6 3.1zM707 584.2l-1.9-4.3l-4 0.1l-1.8 3.2l2.4 5.1l2.1-0.1zM613.6 612.4l7.4-2.5l-2.1-9l-5.6 0.9l-2.8 6.1zM749.1 594.6l-4.8-3.4l-4.2 2.1l1.6 6.4l6-2zM178.8 415l-3.1 10.9l-0.7-0.2l-1.8 5.8l0.5 0.3l14.2-1l1.5-2.6l-12.8-2.3zM127.4 487.9l4.5 11.3l2.7 2.5l7.2-10l-0.6-1.7l-10.7-6.3zM609.1 662.8l0.3-2.2l-1.8-5.2l-8.6 1.8l-0.4 7.1l1 1.3zM678.4 586l6-5.6l-5.6-4.6l-4.9 2.7l-0.7 3.6zM748 617.7l-3-5.5l-3.9 0.3l-1.5 5.8l2.7 3.6zM761.6 586.6l-2.6-3.9l-5.3 0.6l-1.8 3.5l0.5 1.4l5.2 2.2zM595.2 695.1l9.9-3.5l-1.6-5.8l-6-1.2l-3.3 8.2zM745 612.2l3.7-4.7l-6.5-4l-5 5.9l3.9 3.1zM623.7 700.4l-1-1.7l-6.2-1.3l-3.8 3l0.5 5.9l1.6 1l6.8-1.9zM606.6 692.4l7.8-3.3l-1.8-4.3l-3.5 0l0-1.9l-2.6-0.3l-3 3.2l1.6 5.8zM751 577.3l-3.5-5.3l-5.2 2.5l0.3 4.6l2.6 1.8zM622.6 707.7l2.4-0.5l5.6-2.8l-1-2.6l-5.9-1.4l-2.1 5zM607.6 655.4l1.8 5.2l8.1 0.2l1.7-1.8l-0.5-3.7l-7-4.9l-2 0.2zM610.2 638.3l7.2 2.4l2.4-8.5l-3.7-1.7l-5 2.4zM135 506.7l-0.4-5l-2.7-2.5l0.1 8.3l2.4-0.1zM624.4 564.8l-4.3-7.9l-6.1 1.9l0.1 0.4l2.6 0l0 4.5l3.8 0l0 4.4l0.5 0.1l2.9-1.2zM748.9 607.4l2.3-4l-3.5-5.7l-6 2l0.5 3.8zM784.9 495.9l7.9 1l3.4-5.9l-8.3-5.4l-0.5 0.1l-2.1 2.1zM608.6 649.3l-0.4-9.7l-6.8-1.5l-1.6 9.3zM632.2 635.5l2.7 0.4l4.8-4l-1.9-4.1l-5.8-0.9l-1.6 2.2zM745.3 585.4l-0.6 0.5l-0.4 5.3l4.8 3.4l0.5-0.3l2.8-6.1l-0.5-1.4zM761.6 586.6l-4 3.8l0.8 4.9l1.2 0.4l5.3-2.2l-0.4-6.4zM811.6 472.3l0.4-5.8l-9.6-2.2l0 9.1l4 3zM761.8 577.9l-1.3 0.5l-1.5 4.3l2.6 3.9l2.9 0.5l3.4-6.4zM630.1 573.7l-0.6-2.8l-5.6-3.9l-2.9 1.2l-0.5 1.6l0 6l-1.8 0.1l4.1 2.1zM806.2 476.4l-3.8-3l-8.3 1.6l-0.1 4.7l3 2.1l0-0.8l6.7 0zM640.7 700.5l-6-3.6l-5.1 4.9l1 2.6l3.8-1.9l4.6 1.1zM756.1 596.6l2.3-1.3l-0.8-4.9l-5.2-2.2l-2.8 6.1zM625.7 668.6l1.2-5.4l-1.6-2.4l-6.1-1.8l-1.7 1.8l0 3.9l0.2 0.4l1.3 0l0 3l0.8 1.8l2.4 1zM754.4 602.4l1.7-5.8l-6.5-2.3l-0.5 0.3l-1.4 3.1l3.5 5.7zM753.3 616l-0.3-5.3l-4.3-3.2l-3.7 4.7l3 5.5l3.1 0.7zM628.3 600.5l-0.1 6.6l4.6 3.3l3.8-3l-2.8-8.4l-4.2 0.3zM634.3 644.9l3.1-4.2l-2.5-4.8l-2.7-0.4l-4.5 3.1l-0.4 1.3l1.7 3.4zM632.8 610.4l-0.1 1.2l4.5 5.1l3.5-1.3l0.9-6.8l-0.5-0.7l-4.5-0.5zM622.8 578l-4.1-2.1l-1.5 0.6l-2.8 5.7l5 5.5l4.8-4.7zM663.4 612.2l-5.5-3.9l-1.7 0.4l-1.8 5.4l3.4 3.7l5.6-4zM795.6 501.8l0.4 0.2l7.3-3.6l-0.5-3.4l-5.8 0l0-4.2l-0.8 0.2l-3.4 5.9zM614.8 707.3l2.4 1.5l5.4-1.1l-1-2.3zM737.6 561.5l4.1-2.9l0.2-5.2l-4.1-1.6l-3.2 2l1.8 7.5zM753.5 566.8l-5.6 1.8l-0.4 3.4l3.6 5l4.5-2l1.4-5.2l-0.5-1.2zM634.3 694.1l5-4.1l-2.8-5.8l-5.2-0.8l-3.1 5.8zM725.4 665.9l4 1.6l2.6-1l2.7-6.4l-3.1-2.9l-1.9-0.2l-3.5 2.2zM717.9 660.2l0.2 3.9l3.9 3.3l3.4-1.5l0.8-6.7l-6-1.7zM625.9 650.3l3.1-7l-1.7-3.4l-8.7 2.7l-0.1 1l5.4 6.7zM759.7 608.7l-0.4-3.7l-4.9-2.6l-3.2 1l-2.3 4l4.1 3.3zM637.8 627.8l2.1-3.9l-3.8-4.4l-5.3 2.2l1.2 5.2zM755.6 575l4.9 3.4l1.3-0.5l2.3-5.7l-0.2-0.6l-6.9-1.8zM809.1 489.5l1.1-0.1l1.8-7.6l-5.8-5.4l-2.5 4.6l3.3 0l0 6.9zM757.4 553.5l6.3 2.3l2.9-4.5l-1.7-3.5l-5.8 0.8l-2.2 3.7zM758.4 595.3l-2.3 1.3l-1.7 5.8l4.9 2.6l3.3-3.4l-3-5.9zM774.8 583.8l-6.6-3.2l-3.2 6.3l8 2.5zM806.5 454.5l3.7 0.3l4.8-3.3l0.3-7.7l-3.2-1.8l-6.2 2.1l-0.6 9.1zM772.6 567.4l-2.4 6.9l0.3 0.7l6.2 1.5l1.8-5.1zM768.2 580.6l6.6 3.2l2.2-6.8l-0.3-0.5l-6.2-1.5zM759.6 595.7l3 5.9l4.4 0l0.5-6.5l-2.6-1.6zM761.3 562.2l3.4-3.6l-1-2.8l-6.3-2.3l-1.7 5.8zM765 586.9l-0.5 0.2l0.4 6.4l2.6 1.6l6.4-2.3l-0.9-3.4zM803.3 498.4l-7.3 3.6l2.9 6.4l8-3.8l0-3.2zM741.7 558.6l-4.1 2.9l3.7 5l4.4 0l1-6zM640.9 632.2l5.3-2.9l0.5-2.2l-3-4l-3.8 0.8l-2.1 3.9l1.9 4.1zM792.8 496.9l-7.4-0.7l2.3 8.8l1.6 0.8l6.3-4zM734.7 660.1l-2.7 6.4l4.4 3.4l4.7-2.1l0.4-2.9l-4.8-4.8zM725.2 675.1l4-1.9l0.2-5.7l-4-1.6l-3.4 1.5l-0.6 2.7zM634.3 644.9l1.7 4.6l1.3 0.5l4.5-2.3l1.3-6.3l-5.7-0.7zM789.3 505.8l-1.6-0.8l-4.6 1.4l-1.1 6.1l2.7 2.2l1.6 0.2l4.2-4.2zM809.1 489.5l-2.1 2l0 3.5l-3.9 0.2l0.2 3.2l3.6 3l6.4-3l2.3-5.6l-5.4-3.4zM791.5 521.1l2.6-0.8l2.1-3.3l-1.2-5.3l-4.5-1l-4.2 4.2l4.5 6zM625.3 660.8l1.6 2.4l7.6-0.8l0.9-2.1l-5.9-7zM765.7 545.9l-0.8 1.9l1.7 3.5l5.5 1l1.8-3.8l-1.2-3.8l-1.6-0.7zM639 703.6l6.5 1.7l-4.7-4.6zM777 577l-2.2 6.8l5.6 1l3.2-4.3l-0.6-1.7zM773.9 548.5l-1.8 3.8l1.4 3.8l3.4 1.2l3.6-1.2l0.1-7.3zM769 559.9l-4.3-1.3l-3.4 3.6l0.1 1.6l4.1 3.4l4.5-1.7zM786.4 556.5l2.3-4.9l-2.3-3.1l-5.7 0.3l-0.2 7.3l3.1 1.2zM744.1 671.3l-3-3.5l-4.7 2.1l-1.3 6.7l7.5 0.5zM784.3 536.4l5.9-2.7l0-1.8l-5.1-3.8l-5.1 4l0.6 2.7zM798.9 529l-6.2 0.1l-2.5 2.8l0 1.8l0.5 0.7l6.7 1.6l3.7-3l0.2-0.7zM783 578.8l3-5.8l-5-2.6l-2.5 1l-1.8 5.1l0.3 0.5zM769 559.9l1 5.6l2.5 1.6l4.5-3.7l-0.1-6.1l-3.4-1.2zM781.5 565.4l-4.5-2l-4.5 3.7l6 4.3l2.5-1zM721.4 670.1l-4.3 2.9l0.4 5.2l6.6 1.1l1.1-4.2zM791.7 593.3l-2.7-5.8l-6.6 1.3l-1.3 2.7l3.4 5.3l2.3 0.7zM829.5 463.2l-5.9 5.9l0.1 2.1l2.8 2.7l8.2-0.2l1.2-3.9l-5.2-6.5zM780.4 584.8l2 4l6.6-1.3l0.9-3.2l-0.6-1.1l-5.7-2.7zM837.7 459l3.6 5.4l1.5-2.9l-1.2-4.8l-3.6 1.3zM820.8 483.6l-3.3-3.2l-5.5 1.4l-1.8 7.6l5.4 3.4zM735.1 676.6l-5.9-3.4l-4 1.9l-1.1 4.2l9.2 1.6zM801.6 516.6l-5.4 0.4l-2.1 3.3l5.6 4.1l5.4-2.8zM784.9 495.9l-6 7l4.2 3.5l4.6-1.4l-2.3-8.8zM650.1 680.4l-4.6 4.7l0 1l8.4-4l-0.7-1.3zM708.9 677.1l-3.6 2.6l0.8 2.4l4.6 3.6l1.9 0.4l2.1-1.3l0.2-4.4zM807.3 523.9l-2.2-2.3l-5.4 2.8l-0.8 4.6l2.4 3.3l4.4-1.4zM835.5 441l5.5 0l0 7l0.6 0l3.1-7.7l-3.9-4zM735.1 676.6l-1.8 4.3l2.6 2.9l4.1 1.8l4.9-1.8l0-3.8l-2.3-2.9zM806.9 504.6l-7.8 3.8l3.8 4.5l3.8-0.7l2.4-4.3zM815.6 492.8l5.8 2l5.8-3.4l0.5-4.5l-4.6-3.4l-2.3 0.1zM815.6 492.8l-2.3 5.6l3.1 5l4 0.6l3.1-3.6l-2.1-5.6zM820.4 504l2.1 6.5l0.8 0.1l6.2-5l-1.5-4.1l-4.5-1.1zM777 563.4l4.5 2l2.1-1.4l0-6.7l-3.1-1.2l-3.6 1.2zM794.6 547l-1.3 4.1l1.8 2l5.8-0.8l1.6-2.3l-2.7-3.6zM832.5 495.9l-5.3-4.5l-5.8 3.4l2.1 5.6l4.5 1.1l4.5-4.8zM786.8 572.8l1.2-1.5l-0.4-5.9l-4-1.4l-2.1 1.4l-0.5 5l5 2.6zM835.7 475.4l3.7-7.3l-3.5 1.7l-1.2 3.9zM714.7 684.8l-2.2 1.7l2.9-1.3zM816.4 503.4l-3.6 5.1l1.8 2.3l6.8 0.5l1.1-0.8l-2.1-6.5zM733.3 680.9l-9.1-1.4l-0.2 1.8l3-1.3l5.5 2.4zM797.3 540.1l3.6 2.3l4.4-1.8l-4.2-7.6l-3.7 3zM773.9 548.5l6.7 0.3l-0.1-5.5l-3.1-2.2l-4.7 3.6zM647.2 672.5l-0.4-6.5l-2.3-1.8l-5.3 3.1l1.3 4.2l5.8 2zM757.1 698.8l-2.8 0l0-5.6l1 0l-2.3-0.2l-0.7 0.7l0.4 0.3l1.7 9.4l1.7-0.6l0-3.1l1 0zM767.5 617.3l0.7 0.2l3.8-1.6l1.6-2.6l-0.6-3.1l-3.6-3.5l-6.4 3.8zM809.3 516.6l-2.6-4.4l-3.8 0.7l-1.3 3.7l3.8 5zM779.3 687.5l-0.5-2.5l-3.9-2.9l-2.2 0l-3.7 5.5l7.5 0l0 2.3zM788 543.4l-3-1.9l-4.5 1.8l0.2 5.5l5.7-0.3zM706.1 682.1l-0.8-2.4l-2.6-0.2zM826.5 473.9l0 6.2l1.5-1.5l7.4-2.6l0.3-0.6l-1-1.7zM794.9 558.3l-3.7 1.8l-0.4 3l4.8 4.3l4.2-5.8l-0.1-1zM744.9 683.8l-4.9 1.8l2.5 1.1l3.6 2.6l1.3-2.8zM803.1 584.1l0.7-2.6l-2.6-4.8l-4.4 0.1l-0.4 6.8l1.7 1.2zM780.5 543.3l4.5-1.8l-0.7-5.1l-3.7-1.6l-3.3 3.6l0.1 2.7zM800.9 542.4l-1.1 4l2.7 3.6l3.2-0.4l1.9-5.2l-1.7-3.6l-0.6-0.2zM799.7 560.6l0.1 1l5 5l5.5-6.8l-1.8-1.8l-6 0zM820.3 535.7l1.2-1.6l-0.9-5.4l-6.3 0.2l-2.6 5.1l0.4 1.7l1.1 0.8zM819.3 519.8l-2.9 0.1l-3.9 4.9l1.8 4.1l6.3-0.2l1-1.2zM793.1 593.6l2.9 4.3l2.6-6.5l-1.3-0.4zM823.3 510.6l4.9 4.1l2.8-1.3l0.6-6.8l-2.1-1zM829.5 505.6l2.1 1l0.9-9.9l-4.5 4.8zM795.6 567.4l0.2 2l6.7 0.6l2.3-3.4l-5-5zM801.2 576.7l2.3-3l-1-3.7l-6.7-0.6l-0.5 0.8l0.8 6l0.7 0.6zM770.9 708.5l-3.6-0.2l0 0.7l-4.8 0l-0.7 1.8l2.6 7.7l8.2-4.3zM827.9 519l2.7-1.3l0.4-4.3l-2.8 1.3zM813.2 545.4l2.1-2.8l-2.1-6.1l-1.1-0.8l-6.2 5.1l1.7 3.6zM811 586l1.5-3l-5.5 4.7zM808.6 552.2l5.6-2.3l-1-4.5l-5.6-1l-1.9 5.2zM769.8 725.2l7-5.7l-0.2-2.7l-4-2.6l-8.2 4.3l-0.5 1.1l0.4 1.5zM814.2 549.9l-5.6 2.3l-0.1 5.8l1.8 1.8l1.8 0.5l5.8-7.9zM829.2 529.4l-2-2.5l-5.6 0.6l-1 1.2l0.9 5.4l5.6 0.6zM817.9 552.4l-5.8 7.9l2.8 2.9l1.8 0l5.2-4.4l0.1-2.5zM811.1 570l-6.2-3.2l-2.4 3.2l1 3.7l4.7 1.2zM827.1 534.7l-5.6-0.6l-1.2 1.6l1.7 5.5l4-0.4l2.1-4.3zM822 541.2l-1.6 2.1l1.3 4.4l4.9 0.8l2.7-3.7l-3.3-4zM832.7 537.5l0.8 4.9l5.1-0.2l0.6-1.3l-3.3-5.4l-1-0.2zM816.7 563.2l-1.8 0l-2.1 6.3l3.5 3.3l1.6-0.3l0.5-1.1l3.1-0.8l-0.1-3.5zM776.5 689.9l0 5.1l7.7 0l0.2-3.5l-5.1-4zM778.8 685l2.2-1.8l-3.2-4.1l-0.8-2.2l-2.1 5.2zM788 571.3l7.3-1.1l0.5-0.8l-0.2-2l-4.8-4.3l-3.2 2.3zM835.9 535.5l-0.5-0.8l-0.8-1.1l0.3 1.7zM769.8 725.2l-5.5-4.1l-3.2 4.5l6.5 7.3l3.1-1.6zM817.8 552.1l4.2 4.2l6.6-2.7l-2-5.1l-4.9-0.8zM827.1 563.4l1.7-0.4l1.8-8.4l-2-1l-6.6 2.7l-0.1 2.5zM831.7 563.5l-2.9-0.5l-0.9 0.5l0.6 4.7zM782.8 712.5l-0.2-4.6l-5.8-3.9l-3.9 1.2l-2 3.3l1.7 5.7l4 2.6zM833.9 554.1l-3.3 0.5l-1.8 8.4l2.9 0.5l1.3-1.9l3.7-3.2l0.3-2zM776.8 704l5.8 3.9l5-4.3l0.3-3.8l-2.1-2l0 3.7l-8.2 0zM821.4 567.1l5.7-3.7l-5.2-4.6l-5.2 4.4zM774.2 732.6l8-6.7l-5.4-6.4l-7 5.7l0.9 6.1zM832.1 544.3l3.4 5.2l4.5-1.8l0.7-2.4l-2.1-3.1l-5.1 0.2zM787.6 703.6l8.6 6.5l0.4-0.4l0.2-3.1l-4.7-8.4l-4.2 1.6zM764.4 718.5l-2.6-7.7l-5.7 1.9l1.1 6.1l6.7 0.8zM835.5 549.5l-1.6 4.6l3.1 2.3l2-0.1l2.6-2.2l1.2-3.1l-2.8-3.3zM798.2 709l-1.4-2.4l-0.2 3.1zM840.7 545.3l0.9-0.3l-2.4-4.1l-0.6 1.3zM836.7 558.4l2.3-2.1l-2 0.1zM796.2 710.1l-8.6-6.5l-5 4.3l0.2 4.6l4.5 2.4zM782.2 725.9l6.7-3.5l-1.6-7.5l-4.5-2.4l-6.2 4.3l0.2 2.7zM782.1 726.2l-7.9 6.4l0.7 1.4l7.2 0l0-2.8l2.8 0zM840 547.7l2.8 3.3l0-4l-1.2-2l-0.9 0.3zM796.2 710.1l-8.9 4.8l1.6 7.5l5.3 1.9l4.3-9.9zM788.9 722.4l-6.7 3.5l2.7 5.3l6.6 0l3.5-5.7l-0.8-1.2zM796.2 710.1l2.3 4.3l3.3 1.2l-3.6-6.6zM842.8 553l0-1.6l-1.2 2.7zM807.2 730.6l-2-8.5l-3.4 6zM805.2 722.1l-3.4-6.5l-3.3-1.2l-4.3 9.9l0.8 1.2l6 2.8l0.8-0.2zM801 728.3l-1.8 7.4l3.9 4l5.1-1.4l-1-7.7l-5.4-2.5zM791.5 731.2l2.7 0l0 6.8l5-2.3l1.8-7.4l-6-2.8zM794.2 738l0 0.6l1.8 0l0 7.2l5.6-0.8l1.5-5.3l-3.9-4zM786 751.9l1.3 1.1l1.3 1.6l-0.5-2.6zM801.6 745l3.6 3.3l3.1 0l0.5-0.5l-0.6-9.5l-5.1 1.4zM809 749.7l-0.2-1.9l-0.5 0.5zM800.9 755.9l4.7 3.4l1.2-0.2l2.4-6.1l-0.2-3.3l-0.7-1.4l-3.1 0zM798.6 756.1l2.3-0.2l4.3-7.6l-3.6-3.3l-5.6 0.8l0 4l-1 0zM800.9 755.9l-2.3 0.2l-3.6 3.5l0.2 2.3l3.1 2l7-3.5l0.3-1.1zM805.3 760.4l1.2-0.6l0.3-0.7l-1.2 0.2zM198 397.6l5-8.8l-18.5-7.8l3.9 11.7z"/><path fill="#66a7da" d="M420.8 623.6l-3.8 2.7l-5.4 12.6l2.5 3.6l12.1 1.3l3.4-9.7l-4.8-10zM453.1 598l-10.4-2.8l-3 1.7l1.3 13.5l1.5 1.3l9.8-0.6zM476.8 598.2l-5.1-2.2l-7.2 1.8l-0.9 13.8l1 0.9l11.1-2.5zM485.9 597.2l-2.4-1.1l-6.7 2.1l-1.1 11.8l1.7 2l9.4 0.4l2.3-2.5zM498.2 595.7l-12.3 1.5l3.2 12.7l10.2 0.9l0.1-14.3zM499.4 596.5l-0.1 14.3l0.3 0.3l11.4-0.4l-0.1-14.7zM475.7 610l-11.1 2.5l0.7 10.1l8.5 1.5l3-2.5l0.6-9.6zM477.4 612l-0.6 9.6l9.9 1.9l1.6-1.3l-1.5-9.8zM522.5 622.6l9.8 1.1l0.6-0.6l0.8-11l-11.5-1.2l-0.8 0.7zM452.8 634.7l11 0.2l1-11.8l-11.5 0.9l-1.2 9.9zM463.8 634.9l1.9 1.9l9.5-1.9l0.7-1l-2.1-9.8l-8.5-1.5l-0.5 0.5zM473.8 624.1l2.1 9.8l10-0.3l0.8-10.1l-9.9-1.9zM499.9 634.6l10.5 0.6l-0.5-11.4l-10.8-0.8l-0.9 9.7zM510.8 635.6l10.2-2.5l-0.2-8.8l-10.5-0.8l-0.4 0.3l0.5 11.4zM543.9 629.6l-4.4 0l0-6.4l-6.6-0.1l-0.6 0.6l0.7 10.7l10.5-1.5zM426.2 643.8l2.5 4.2l12.2-2.4l-0.4-9.8l-10.9-1.7zM440.5 635.8l0.4 9.8l1.3 1.1l10.3-0.2l0.6-0.7l-0.3-11.1l-0.7-0.8l-10 0.5zM464.8 645.7l0.5 0.7l11.5 0.5l0.5-0.5l-2.1-11.5l-9.5 1.9zM475.9 633.9l-0.7 1l2.1 11.5l10.3-1.1l0.4-0.5l-0.5-9.7l-1.6-1.5zM511.4 645l0.6 0.6l9.9 0.4l1.9-10.5l-2.8-2.4l-10.2 2.5zM451.6 714.8l1.6 2.4l0.4 0l-1.4-3.8l8.8 0.4l0 2.9l0.9 0l0-2.9l4.8-0.1l-0.6-0.8l-14.3 0zM180 446.7l-0.2 10.3l4 4l4.4-0.3l6.1-7.3l-2.9-10.4zM176.1 444.2l3.9 2.5l11.3-3.8l-3.4-12.1l-14.2 1zM492.4 706.8l-3.5-2.3l-4 0.3l-5.1 5.5l1.3 7.6l2.9 1.8l8-2.5l1.9-6.4zM466 737.7l2.8-0.1l0.6-0.4l-4-7.2l-3.5 0l0-2.6l-0.9 0.2l0 2.4l-0.8-0.5zM469.4 737.2l6.7-6.9l-2.8-6.4l0 6.1l-7.9 0zM572.4 584.2l-5.6 0l0-1.9l-0.7-0.2l-2.5 1.3l-1.5 5.6l1.6 1.5l0-5.6l8.5 0zM164.1 430.3l9.1 1.2l1.8-5.8l-11.5-3.4zM516.8 714.1l-9.3-2l-1 0.8l-2.1 11.8l2.2 2.8l10.9-4.1zM506.5 712.9l-12.6-2.1l-1.9 6.4l4 6l8.4 1.5zM517.5 723.4l-10.9 4.1l-0.2 6.6l2 2.5l3.8 1.1l0.3-0.8l9.2-8.9l0.6-1.6zM484 719.7l-0.5 10.4l3.4 2.9l2.5 0.2l6.6-10l-4-6zM494.3 737.4l12.1-3.3l0.2-6.6l-2.2-2.8l-8.4-1.5l-6.6 10zM521.7 728l2.6-1.8l-2 0.2zM149.3 446.8l-0.2 4.9l6.5 7.7l9.1-6.2l0.5-4.9l-4.9-5.2zM152.1 430.2l9.2 2l2.8-1.9l-0.6-8l-4.5-1.3l0.9-5.6l-0.9-0.7l-0.9 5.4l-5.6-1.3l-4.8 4.5zM160.3 443.1l4.9 5.2l10.9-4.1l-2.4-12.4l-9.6-1.5l-2.8 1.9zM480.7 743.4l7.9 5.3l5.6-5l0.1-6.3l-4.9-4.2l-2.5-0.2zM488.6 750.9l6.6 5.8l9.5-4.3l-0.7-2.3l-9.8-6.4l-5.6 5zM687.4 610.7l1.5-6.2l-6.3-1.2l-1.8 1.3l-0.6 3.9l6.2 2.6zM155 466.1l4.9 3.8l8.3-1.1l2.7-9.6l-6.2-6l-9.1 6.2zM474.7 753.6l8 3l5.9-5.7l0-2.2l-7.9-5.3l-2.3 0.5zM160.3 443.1l1-10.9l-9.2-2l-8.6 10.4l5.8 6.2zM726.6 583.1l-0.3 5.4l3.2 1.8l6.3-4.7l-5.7-3.8zM132.2 412.8l-1.5-0.5l-0.3-3.6l-0.9 5.2l-2.7 9.3l3.5-3.7l-0.5-5.3l3.2 0.9zM494.2 743.7l9.8 6.4l4.4-13.5l-2-2.5l-12.1 3.3zM133 415.1l6.5 2l-0.2 0.6l2.4 0.5l0.8-2.7l-10.3-2.7zM149.1 451.7l-9.2 5.5l0.4 6.8l5.7 5.1l9-3l0.6-6.7zM508.6 761.4l-0.8-4.2l0.9-5.9l-3.9 1.2zM504 750.1l0.8 2.4l3.9-1.2l0.7-5l2.8-8.6l-3.8-1.1zM482.7 756.6l2 7.3l9.2-2.2l1.3-5l-6.6-5.8zM143.9 422l-2.2-3.8l-2.4-0.5l-1.7 6.3l-3 2.9l-3.9-2.9l-0.4-4.5l-3.5 3.9l8.7 7.2zM495.2 756.7l-1.3 5l5.4 7.1l7.8-3.6l1.5-3.8l-3.9-9zM130.1 478.4l-0.4-11.1l-5.1-4.4l-2.4-0.2l0 9.8l1.8 5.3zM474 757.4l8 10.2l0.7 0.2l2-3.9l-2-7.3l-8-3l-1.4 0.6l-0.2 0.5zM122.9 439.8l-1.3-1.1l-1.8 4.5l1.4 5.5l2.2-2.5zM732.2 613.6l0.9 4.8l6.5-0.1l1.5-5.8l-3.9-3.1l-0.6-0.1zM121.2 448.7l1 4.3l0 9.7l2.4 0.2l7.5-10.4l-8.7-6.3zM664.7 603.7l-3.9-0.8l-2.9 5.4l5.5 3.9l4-4zM647.3 609.8l3.8-4.2l-0.5-2.9l-5-2.1l-2.3 1.2l-2.2 6.1l0.5 0.7zM747.9 643.5l-1.2 0.3l-2.7 5l3 3.4l6-2.4zM644.9 639.3l-4-7.1l-1.2-0.3l-4.8 4l2.5 4.8l5.7 0.7l1.6-1zM767.5 595.1l-0.5 6.5l2.1 1.8l6.5-3.8l-1.7-6.8zM652.3 634.2l2.8-5.1l-1.9-4.5l-6.5 2.5l-0.5 2.2l4.3 4.9zM797 490.8l0-9l-3-2.1l-6.1 5.9l8.3 5.4zM762.6 601.6l-3.3 3.4l0.4 3.7l1.5 1.6l1.8 0.2l6.4-3.8l-0.3-3.3l-2.1-1.8zM629.7 653.3l5.7 7l5-3.1l-3.1-7.2l-1.3-0.5zM784.6 607.9l3.9-3.4l-1.7-7l-2.3-0.7l-6.7 3.9l1.5 4.3zM815.3 443.8l-0.3 7.7l4 1.6l0-10.8zM782.4 588.8l-2-4l-5.5-0.8l-1.9 5.4l1 3.3l7.1-1.2zM814.8 463.9l-2.8 2.6l-0.4 5.8l6.3 2.9l5.8-4l-0.1-2.1l-6.4-5.2zM757.8 665.4l7.3 3.7l2.1-9.2l-6.4 0.3l-3.3 4.5zM761.2 610.3l-1.5-1.6l-6.7 2l0.3 5.3l5.4 0.4zM749.2 670.3l2.4 1.8l3.4-0.6l2.8-6.1l-0.3-0.7l-3.8-1.8l-4.1 2.3zM729.2 673.2l5.9 3.4l1.3-6.7l-4.4-3.4l-2.6 1zM769.1 603.4l0.3 3.3l3.6 3.5l6.3-5.2l-1.5-4.3l-2.2-1.1zM760.6 619.3l6.9-2l-4.5-6.8l-1.8-0.2l-2.5 6.1zM749.2 670.3l-5.1 1l-1.5 5.8l2.3 2.9l5.7-2.7l1-5.2zM817.2 463.9l6.4 5.2l4.1-4.1l-8.7 0l0-3.8zM771.5 647.2l-0.4 0.2l0.3 2.6zM791.2 560.1l3.7-1.8l0.2-5.2l-1.8-2l-4.6 0.5l-2.3 4.9zM750.6 677.3l-5.7 2.7l0 3.8l2.5 2.7l1.3 0.3l6.3-3l-0.2-3.6zM767.4 640.4l1 5.8l3.1 1l0.4-9.2l-2.9-0.1zM836.9 456l-8.1 0l-0.8 2l0 2.2l1.5 3l1.2 0.1l7-4.3l0.3-1zM767.9 633l1.1 4.9l2.9 0.1l0.1-3.2l1.7-3.4l-1.7-0.9zM830.7 463.3l5.2 6.5l3.5-1.7l1.9-3.7l-3.6-5.4zM793.3 551.1l1.3-4.1l-2.2-4.1l-1.2-0.5l-3.2 1l-1.6 5.1l2.3 3.1zM813.3 498.4l-6.4 3l0 3.2l2.2 3.3l3.7 0.6l3.6-5.1zM772 626.1l0 4.4l1.7 0.9l3.9-8l-0.8-0.1zM773 610.2l0.6 3.1l6.2 0.8l4.7-4.2l0.1-2l-5.3-2.9zM779.8 614.1l1.3 3.8l5.2-6l-1.8-2zM787.6 565.4l3.2-2.3l0.4-3l-4.8-3.6l-2.8 0.8l0 6.7zM761 675.8l2.9 3.9l5.6-0.6l1.1-5.7l-2.2-3l-3.1-0.9zM791.7 593.3l1.4 0.3l4.2-2.6l0.8-6.2l-1.7-1.2l-6.5 0.7l-0.9 3.2zM786.8 572.8l-0.8 0.2l-3 5.8l0.6 1.7l5.7 2.7l1.7-5.7zM794 603l2-5.1l-2.9-4.3l-1.4-0.3l-4.9 4.2l1.7 7l3.7 0.6zM795.3 570.2l-7.3 1.1l-1.2 1.5l4.2 4.7l5.1-1.3zM755 671.5l-3.4 0.6l-1 5.2l4.2 2.9l5-4.4zM786.3 611.9l5.9-6.8l-3.7-0.6l-3.9 3.4l-0.1 2zM832.5 495.9l0.5-5.1l-5.3-3.9l-0.5 4.5zM732.5 682.4l3.4 1.4l-2.6-2.6zM762.5 684.6l1.4-4.9l-2.9-3.9l-1.2 0l-5 4.4l0.2 3.6l3.4 2.1zM798.1 584.8l-0.8 6.2l1.3 0.4l0.2-0.4l7.4-3l-3.1-3.9zM800.9 552.3l1.6 5.7l6 0l0.1-5.8l-2.9-2.6l-3.2 0.4zM765.1 669.1l3.3 1.3l4.8-4.1l-1.7-4.8l-4.3-1.6zM817.5 480.4l0.4-5.2l-6.3-2.9l-5.2 4.1l5.6 5.4zM796.4 583.6l0.4-6.8l-0.7-0.6l-5.1 1.3l-1.7 5.7l0.6 1.1zM806.2 588l6.3-5l1-2.7l-3.7-1.8l-6 3l-0.7 2.6zM770.9 708.5l2-3.3l-1.8-2.7l-2.9 0l0-1.9l-1.9 0l0 2.8l1 0l0 4.9zM769.5 679.1l3.2 3l2.2 0l2.1-5.2l-1.2-3.4l-5.2-0.1zM754.4 703.4l1.7 9.3l5.7-1.9l0.7-1.8l-6.4 0l0-6.2zM803.8 581.5l6-3l-1.6-3.6l-4.7-1.2l-2.3 3zM804.8 566.6l6.3 3.4l1.7-0.5l2.1-6.3l-2.8-2.9l-1.8-0.5zM770.6 673.4l5.2 0.1l-2.6-7.2l-4.8 4.1zM812.8 569.5l-1.7 0.5l-2.9 4.9l1.6 3.6l3.7 1.8l1-1.2l1.8-6.3zM814.5 579.1l3.4-6.6l-1.6 0.3zM828.6 553.6l2 1l3.3-0.5l1.6-4.6l-3.4-5.2l-2.8 0.5l-2.7 3.7zM784.2 695l1.6 0l0 2.8l2.1 2l4.2-1.6l-5.8-7.9l-1.9 1.2zM798.6 756.1l-3.6-6.3l-5.2 0l-1.7 2.2l0.5 2.6l3.5 4.1l2.9 0.9zM206 314l2-8l-22-3l-1 8zM239 337.3l3.2-10.1l-14.1-3.9l-2.3 11.7zM259.4 339.7l1.5-10.9l-7.8-1.6l-2.3 11.7z"/><path fill="#4a8bc9" d="M479.8 710.3l-6.5-0.8l0 3.4l-5.8 0l-0.9 0.9l6.7 0l0 6.7l7.8-2.6zM469.5 737.2l8.9 6.7l2.3-0.5l6.2-10.4l-3.4-2.9l-7.4 0.2zM165.2 448.3l-0.5 4.9l6.2 6l8.9-2.2l0.2-10.3l-3.9-2.5zM474.7 753.6l3.7-9.7l-9-6.7l-0.6 0.4l-0.9 2.9l1.1 1.5l3.9 11.9l0.4 0.3zM709.2 554.1l2.8-1.3l-0.4 0l0-2.4l-3.4 0l0-5l-1.5 0.1l-0.7 6.9zM473.3 720.5l0 3.4l2.8 6.4l7.4-0.2l0.5-10.4l-2.9-1.8zM507.1 765.2l3.7 5.4l-2-9.2zM466 737.7l1.9 2.8l0.9-2.9zM694 639.6l0.3 4.6l3.8 2l3.6-3.1l-0.3-3.7l-3.9-1.9zM499.3 768.8l-0.7 1.7l0.5 1.5l12.6 2.4l-0.9-3.8l-3.7-5.4zM496.3 771.2l2.8 0.8l-0.5-1.5zM641.6 608.6l-0.9 6.8l4.9 2.8l2.1-0.8l1.4-2.3l-1.8-5.3zM482.7 767.8l13.6 3.4l2.3-0.7l0.7-1.7l-5.4-7.1l-9.2 2.2zM662.7 623.6l4.4-2.5l0.1-3.6l-3.8-3.7l-5.6 4l-0.1 3.1zM643.7 623.1l1.9-4.9l-4.9-2.8l-3.5 1.3l-1.1 2.8l3.8 4.4zM742.7 641.4l-4.7 2.7l0.5 5.2l0.4 0.3l5.1-0.8l2.7-5zM651.1 605.6l-3.8 4.2l1.8 5.3l5.3-1l1.8-5.4zM671.3 643.3l6.9 1.9l3-6.4l-8-2.6zM757.5 664.7l3.3-4.5l-2.7-5.2l-2.8-0.6l-2.8 3.7l1.2 4.8zM645.6 618.2l-1.9 4.9l3 4l6.5-2.5l0.3-0.9l-5.8-6.3zM767.4 640.4l1.6-2.5l-1.1-4.9l-2.2-1l-5.2 3.4l0.8 3.7zM640.4 657.2l3.1 0.7l2.1-1.2l1.2-6l-5-3l-4.5 2.3zM762.7 626.3l-2.8-4.2l-7.2 1.8l3 7.3zM755 671.5l4.8 4.3l1.2 0l4.3-6.3l-7.5-4.1zM694.9 675.3l5-2.5l0.6-1.5l-3.9-6.2l-6.5 4l0.8 4.1zM767.1 659.7l4.4 1.8l-0.5-1.5l0.3-6.6l-3.9 3.9zM696.9 664l-0.7-2.2l-4.8-3l-3.8 1l-0.6 7.7l3.1 1.6l6.5-4zM753 693l4.4 0.2l1-7.3l-3.4-2.1l-6.3 3zM776.8 623.3l0.8 0.1l1.7-3.4l1.8-2.1l-1.3-3.8l-6.2-0.8l-1.6 2.6zM768 689.1l0.2-1.5l0.8 0l3.7-5.5l-3.2-3l-5.6 0.6l-1.4 4.9l4.9 4.5zM768 624l-4.4 2.6l2.1 5.4l2.2 1l4.1-2.5l0-4.4zM748.7 686.8l-1.3-0.3l-1.3 2.8l6.2 4.4l0.7-0.7zM767.4 689.1l-4.9-4.5l-4.1 1.3l-1 7.3l6.2 0zM250.6 339.7l0.2-0.8l0.8-3.9l1.5-9.4l-6.2-0.8l-4.7 2.4l-2.4 10.9zM460.1 662.9l0-7.1l-8.8 0l0 7.1zM472.4 682.2l0-7l-9.7 0l0 7zM487.3 693.6l0-7l-11.4 0l0 7zM473.3 730l0-16.2l-11.4 0l0 16.2zM547.9 553.9l0-12.9l-6.9 0l0 12.9zM549.4 629.6l0-4.6l0-4.5l-9.9 0l0 9.1z"/><path fill="#4a9b9d" d="M687.4 610.7l5 1.9l3.5-4.9l-0.3-2.1l-5.6-1.8l-1.1 0.7zM667.2 617.5l4.9-3.1l0.8-4.3l-1.4-1.6l-4.1-0.3l-4 4l0 1.6zM734.3 625.9l4.6 1.9l3.2-2.5l0.2-3.4l-2.7-3.6l-6.5 0.1l-0.2 0.5zM734.3 625.9l-1.4-7l-7.3 2l-1.7 3.2l0.6 1.4l4.4 2.6zM738.9 627.8l0 5.8l3 2l7.2-1.3l-2.6-7.5l-4.4-1.5zM749.1 634.3l-7.2 1.3l0.8 5.8l4 2.4l1.2-0.3l3.7-4.5l-0.3-3.7zM662.8 638.7l0.8 2.4l7.3 2.5l2.3-7.4l-4.7-2.4zM639.3 690l1.3 0.1l3.2-3.1l1.7-0.9l0-1l-4.7-4.2l-4.3 3.3zM757.9 643.3l-6.3-4.3l-3.7 4.5l5.5 6.4l4.8-4.8zM738.5 649.3l-3.8 1.3l-3.1 6.6l3.1 2.9l2 0l4.1-4l-1.9-6.5zM758.1 655l4.7-2.9l0.8-3.8l-5.4-3.2l-4.8 4.8l1.9 4.5zM755.3 654.4l-2.3-4.6l-6 2.4l-1.1 4.4l0.5 0.7l6.1 0.8zM678.2 645.2l2.5 4.6l6.1-5.7l-0.7-4.1l-4.9-1.2zM655.3 650.9l1.9-4.8l-3.1-4.1l-5 1.4l0.1 5.7zM781.1 591.5l-7.2 1.3l1.7 6.8l2.2 1.1l6.7-3.9zM761.3 639.1l-0.8-3.7l-5.1-3l-4.1 2.9l0.3 3.7l6.3 4.3zM636.4 675.3l-3.2-0.1l-3 4.4l1.1 3.8l5.2 0.8l4.3-3.3l0.1-0.8zM771.3 653.4l-0.2-6l-2.7-1.2l-4.8 2.1l-0.8 3.8l4.6 5.2zM768 624l0.2-6.5l-0.7-0.2l-6.9 2l-0.7 2.8l2.8 4.2l0.9 0.3zM656.1 666l-0.9-1.4l-2.2-0.8l-6.2 2.2l0.4 6.5l7.2-0.9zM767.1 659.7l0.3-2.4l-4.6-5.2l-4.7 2.9l2.7 5.2zM744 648.8l-5.1 0.8l1.9 6.5l5.1 0.5l1.1-4.4zM763.6 626.6l-0.9-0.3l-7 4.9l-0.3 1.2l5.1 3l5.2-3.4zM653.2 680.8l3.7-5.4l-2.5-3.8l-7.2 0.9l-0.9 1l0 1.4l3.8 5.5zM161 361.5l3.9-2.9l-1.9-3l-11.7 3l1.9 0.9zM134.6 426.9l3-2.9l1.9-6.9l-9.7-2.9l0.9 9.8zM451.3 664.6l0-1.7l0-7.1l-7.9 0l0 7.9l0 1.8zM443.4 674.3l0-10.6l-7.9 0l0 10.6zM482 703.3l1-3.5l-12.4-1.8l0.9 4.8zM481.2 685.7l0-7l-7.9-0.9l0 7.9zM563 555.4l0-6l-6.8 0l0 6zM578.1 583.4l5.3 0l0-5.3l-8.3 0l0 5.3zM570.6 591l0-6.1l-6.9 0l0 6.1zM607.6 578.9l0-5.3l-7.6 0l0 5.3zM544.1 598.5l0-4.5l3 0l0-2.3l-10.6 0l0 6.8zM588 650l0-9.1l-7.6 0l0 3l0.7 0l0 6.1zM588.7 660.6l0-8.3l-8.3 0l0 8.3zM568.3 671.2l0-7.6l-6.1 0l0 7.6zM609.1 678.7l0-7.5l-7.5 0l0 7.5zM726.7 550.9l0-4.4l-7.7 0l0 4.4zM762.6 698.8l0-5.6l-8.3 0l0 5.6zM785.8 701.5l0-6.5l-9.3 0l0 6.5zM828 453l0-5l0-7l-9 0l0 12zM802 495l0-14l-5 0l0 14zM584 474l0-7l-7 0l0 7z"/><path fill="#4ba56c" d="M710.4 612l3.7-4.2l-3.6-4.2l-6 1l-0.4 5.1zM724 613.7l-4-0.3l-2.9 4.4l3.7 5.6l3.1 0.7l1.7-3.2zM671.8 624.1l5.2-4.4l-4.9-5.3l-4.9 3.1l-0.1 3.6zM742.1 625.3l4.4 1.5l6.2-2.9l-1.6-5.5l-3.1-0.7l-5.7 4.2zM751.3 635.3l4.1-2.9l0.3-1.2l-3-7.3l-6.2 2.9l2.6 7.5zM664.6 649.8l5.1-1.7l1.2-4.5l-7.3-2.5l-2.4 4zM759.9 622.1l0.7-2.8l-1.9-2.9l-5.4-0.4l-2.2 2.4l1.7 5.3zM768.4 646.2l-1-5.8l-6.1-1.3l-3.4 4.2l0.3 1.8l5.4 3.2zM640.5 671.5l-1.3-4.2l-3.3-1.5l-4.1 5.7l1.4 3.7l3.2 0.1zM646.3 673.5l-5.8-2l-4.1 3.8l4.5 4.8l5.4-5.2zM768.2 617.5l-0.2 6.5l4 2.1l4.8-2.8l-4.8-7.4zM160 355.6l1-7.8l-6-1.3l-2.8 9.4l0 2.5l1.8-0.5zM208 306l1-5.5l-22-3.5l-1 6zM163 326l9-3l-2-11l-10-1l-1.7 12.6zM222.7 353.8l9.3-4.8l0.8-1.5l-14.8-3.1l0 8.6zM453.1 674.3l8.8 0l-0.9-10.6l-9.7-0.8l1.8 3.5zM461.9 681.3l0-6.6l-13.2 0l0 6.6zM471.5 698l9.7 0.9l0-5.3l-5.3 0l0-1.6l-7.9-1l-0.9 4.4zM456.6 724.4l3.6 5.1l0.8 0.5l0-16.2l-8.8-0.4l3.3 9.1zM600 578.9l0-5.3l1.6 0l0-4.6l-6.8 0l0 9.9zM553.2 607.6l0-3l0-10.6l-9.1 0l0 13.6zM580.4 643.9l0-3l0.7 0l0-4.5l-7.5 0l0 7.5zM610.6 665.9l0-0.8l6.9 0l0-4.5l-8.4 0l0 5.3zM767.3 709l0-5.6l-11.2 0l0 5.6zM828 465l0-9l0-3l-9 0l0 12zM841 456l0-1.6l-0.7-2.7l0.7-2l0-1.7l-7 0l-6 0l0 8zM807 495l0-14l-5 0l0 14z"/><path fill="#4bb548" d="M704.1 609.7l-2.7 2.1l-0.4 2.8l3.9 3.4l5.4-2.8l0.1-3.2zM717.1 596.8l-0.8-0.1l-5.3 2.8l-0.5 4.1l3.6 4.2l1.9 0l3.8-3.9zM704.9 618l-0.1 4.1l2.2 2.1l4.6-1l1.7-4.9l-3-3.1zM671.9 625.2l-0.1-1.1l-4.7-3l-4.4 2.5l-0.2 5.1l4.9 2.2zM662.8 638.7l5.7-4.9l-1.1-2.9l-4.9-2.2l-1.6 1.2l-0.8 7zM690.6 646.5l0 4.5l1.7 1.5l4.9-0.6l1.4-1.9l-0.5-3.8l-3.8-2zM721.4 670.1l0.6-2.7l-3.9-3.3l-4.5 2.2l-1.1 4.6l4.6 2.1zM709.3 672.4l3.2-1.5l1.1-4.6l-5.2-4.3l-1.4 0.2l-0.5 0.5l-0.6 7.3zM717.9 660.2l-5.9-1.6l-3.6 3.4l5.2 4.3l4.5-2.2zM163.9 377.1l10.8 3.9l1-7.8l-10.8-4.9l-7.8 3l0 5.8zM447.8 674.3l5.3 0l0-7.9l-0.3-0.5l-9 0l0 8.4zM475 690.1l-0.5-4.4l-1.2 0l0-2.6l-10.6 0l0 7zM427.3 697.3l7.7-2.9l0-0.3l0-4l0.4 0l0.1-0.9l0.9-7l-10.6 0.9l-4.4 5.2l3.5 8.8zM473.3 712.9l0-9.6l-11.4 0l0 9.6zM556.2 553.9l0-4.5l0-8.4l-8.3 0l0 12.9zM586.4 590.2l0-6.8l-8.3 0l0 6.8zM601.6 561.5l6 0l0-4.6l-7.6 0l0 4.6zM560.7 613.7l0-9.1l-7.5 0l0 4.5l0 4.6zM634 467l9 0l0-9l-9 0z"/><path fill="#84c44d" d="M720 613.4l-4-5.6l-1.9 0l-3.7 4.2l-0.1 3.2l3 3.1l3.8-0.5zM719.8 603.9l-3.8 3.9l4 5.6l4 0.3l2.5-1.9l0-4.2l-4.2-3.8zM713.3 618.3l-1.7 4.9l3.4 3.3l5.8-3.1l-3.7-5.6zM722.3 603.8l4.2 3.8l5.9-4l0-0.6l-6.1-4.2zM734.7 650.6l3.8-1.3l-0.5-5.2l-3.9-2.9l-5.7 2.6l0.1 2zM729.7 657l1.9 0.2l3.1-6.6l-6.2-4.8l-2.9 4.5zM634.5 662.4l1.4 3.4l3.3 1.5l5.3-3.1l-1-6.3l-3.1-0.7l-5 3.1zM700.5 671.3l5.4-1.3l0.6-7.3l-9.6 1.3l-0.3 1.1zM650.1 680.4l-3.8-5.5l-5.4 5.2l-0.1 0.8l4.7 4.2zM434.8 682.3l1.6-0.1l-0.6 4.5l0.6 2.5l11.8 0l-0.4-14.9l-15.8 0l2.6 7zM461.9 689.2l0-7l-13.2-0.5l0 7.5zM470.6 702.4l-2.3-6.3l-1.2-0.7l0-0.1l-3.5-0.4l-0.9 7.5zM560 577.4l0-6.8l-10.6 0l0 6.8zM581.9 676.5l0-8.4l-10.6 0l0 8.4zM621.2 686.3l0-7.6l-7.5 0l0 7.6zM776.5 702.5l0-14.9l-8.3 0l0 14.9zM766.3 699.7l-10.2 0l0 3.7l10.2 0zM802 398l0-13l-6.3 0l-3.7 6.6l-1 0.7l0 5.7z"/><path fill="#c3d655" d="M734.1 641.2l3.9 2.9l4.7-2.7l-0.8-5.8l-3-2l-3.5 2.3zM717.1 673l-4.6-2.1l-3.2 1.5l-0.4 4.7l6 3.3l2.6-2.2zM697.2 651.9l-4.9 0.6l-0.9 6.3l4.8 3l3-4.8zM694.9 675.3l0.2 2.6l7.9 1.4l-3.1-6.5zM160 367.3l2-4.8l-8.8-2l0 4.9zM145.4 416.2l1-12.7l-9.8 3.9l0 6.8zM162 402.5l-3 18.5l16.7 4.9l3.9-13.6l-4.9-2l1.9-14.6l-8.7-2l-1 6.8zM209 300.5l0.8-4.2l-23.3-5.3l0.5 6zM436 694l9.5 11.4l3.2 3.2l2.6 0.8l0-6.1l0.3 0l0.6-12.8l-17.2-0.4l0 4.3zM462.7 702.4l0.9-7.9l3.5-3.5l-14.5-0.5l-0.4 11.9zM461.9 712.9l0-9.6l-10.6 0l0 9.6zM549.4 570.6l7.5 0l0-5.3l-8.3 0l0 5.3zM616.7 566.8l0-3.1l0-4.5l-7.6 0l0 7.6zM560 614.4l-6.8 0l0 5.3l6.8 0zM575.8 651.5l5.3 0l0-7.6l-9 0l0 7.6zM613.7 684.8l0-6.1l0-1.5l-4.6 0l0 1.5l0 6.1zM719 549.9l0-3.4l7.3 0l0-2.9l-8.3 0l0 6.3zM768.2 700.6l0-7.4l-5.6 0l0 6.5l3.7 0l0 0.9zM774.3 740.5l4.1 0l0-1.9l3.7 0l0-4.6l-9.3 0l0 4.8z"/><path fill="#f8e55b" d="M671.9 625.2l-4.5 5.7l1.1 2.9l4.6 2.2l3.7-6.1zM719.6 654l0.6 3.5l6 1.7l3.5-2.2l-4.1-6.7l-3.9 0.8zM655.5 637.6l4.6-0.7l0.8-7l-5.8-0.8l-2.8 5.1zM649.1 615.1l-1.4 2.3l5.8 6.3l4.2-2.8l0.1-3.1l-3.4-3.7zM649.9 657.7l6.4-4.3l-1-2.5l-6.1-1.8l-2.4 1.6l-1.2 6zM644.5 664.2l2.3 1.8l6.2-2.2l-3.1-6.1l-4.3-1l-2.1 1.2zM646.8 650.7l2.4-1.6l-0.1-5.7l-4.4-3l-1.6 1l-1.3 6.3zM176.6 395.7l19.6 2.9l-3.9-2.9l-1-1.5l-2.9-1.5l-1.9-5.6l-0.1-0.2l-3.9-5.9l-6.8-1l-4.9 10.8l-2 2.4zM607.6 573.6l0-2.3l1.5 0l0-3.8l-9.1 0l0 1.5l1.6 0l0 4.6zM615.2 577.4l0-6.1l-7.6 0l0 2.3l0 3.8zM562.2 625.8l0-6.1l-9 0l0 5.3l6.8 0l0 0.8zM572.8 657.5l0-4.5l3 0l0-1.5l-6 0l0 6zM581.9 666.6l0-6l-1.5 0l0-7.6l-7.6 0l0 6l1.5 0l0 7.6zM571.3 668.1l3 0l0-9.1l-9 0l0 4.6l3 0l0 4.5zM610.6 672.7l0-6.1l-7.5 0l0 4.6l6 0l0 1.5zM718 545.5l0-1.9l2.9 0l0-4.4l-4.9 0l0 6.3zM794.2 731.2l-12.1 0l0 7.4l12.1 0zM841 448l0-7l-7 0l0 7z"/><path fill="#f8bc4b" d="M728.9 628.1l0.3 5.3l6.2 2.5l3.5-2.3l0-5.8l-4.6-1.9zM661.2 645.1l2.4-4l-0.8-2.4l-2.7-1.8l-4.6 0.7l-1.4 4.4l3.1 4.1zM653.2 624.6l1.9 4.5l5.8 0.8l1.6-1.2l0.2-5.1l-5-2.7l-4.2 2.8zM654.1 642l1.4-4.4l-3.2-3.4l-1.8 0l-5.6 5.1l-0.2 1.1l4.4 3zM684.9 658.3l-5.1 3l2.4 7.3l4.8-1.1l0.6-7.7zM179.6 412.3l-3 13.6l21.5 3.9l2-11.7l-5.9-1.9l2.9-16.6l-20.5-3.9l-1.9 14.6zM609.1 567.5l0-0.7l0-5.3l-7.5 0l0 6zM553.2 624.3l0-2.3l0-2.3l0-5.3l0-5.3l-10.6 0l0 11.4l6.8 0l0 3.8zM560 639.4l0-7.6l-11.4 0l0 7.6z"/><path fill="#f7943e" d="M693.4 616l3.1 1.2l4.5-2.6l0.4-2.8l-5.5-4.1l-3.5 4.9zM735.4 635.9l-6.2-2.5l-3.9 3.3l0.8 5.1l2.3 2l5.7-2.6zM717.9 644l-0.1 0.4l3.9 6.7l3.9-0.8l2.9-4.5l-0.1-2l-2.3-2zM646.2 629.3l-5.3 2.9l4 7.1l5.6-5.1zM678.8 671l-3.1 6.1l8.6-0.5l-4-5.9zM136.6 414.2l0-6.8l2.3-0.9l2.6-4l-5.9-5.9l-2.8 0l-2 10l-0.1 0.6l0 5.1zM620.5 575.8l0-12.1l-3.8 0l0 12.1z"/><path fill="#f36b2d" d="M682.4 629l7 2.9l2.7-1.6l1.5-4.5l-5.2-4.2l-5.4 3.3zM707.1 646l0.9-0.5l2.2-7.6l-2.6-2.6l-6.2 4.1l0.3 3.7zM681.4 638.7l4.7 1.3l3.2-2.4l0.1-5.7l-7-2.9zM740.8 656.1l-4.1 4l4.8 4.8l3.9-2.1l1-5.5l-0.5-0.7zM698.6 650l6.9 0.9l1.6-4.9l-5.4-2.9l-3.6 3.1zM749.6 665.2l4.1-2.3l-1.2-4.8l-6.1-0.8l-1 5.5zM741.1 667.8l3 3.5l5.1-1l0.4-5.1l-4.2-2.4l-3.9 2.1zM658.8 675.7l5.6-4.2l-2.2-4.9l-6.1-0.6l-1.7 5.6l2.5 3.8zM690.9 673.2l-3.1 3.5l7.3 1.2l-0.2-2.6zM232.8 349l4.7 0.8l6.3 0.8l2.3 4.7l1.7-1.1l1.5-7.8l0.7-5.9l-11.7-2.4l-2.4 8.6zM575.1 584.2l0-0.8l0-5.3l0-0.7l-8.3 0l0 6.8zM616.7 572.1l0-5.3l-7.6 0l0 4.5l6.1 0l0 0.8zM716 544.5l0-5.3l-6.4 0l0 5.3zM711.6 550.4l0-3.4l3.4 0l0-2l-6.8 0l0 5.4zM717.5 552.8l0-5.8l-5.9 0l0 5.8z"/><path fill="#e8522c" d="M690.1 669.1l-3.1-1.6l-4.8 1.1l-1.9 2.1l4 5.9l3.5 0.1l3.1-3.5zM158.1 420.1l2.9-17.6l-12.7 2l-2.9 12.6zM577.4 594.8l0-9.9l-6.8 0l0 9.9zM560 631.8l0-6.8l-10.6 0l0 6.8z"/><path fill="#dc3a27" d="M697.5 624.1l-1-6.9l-3.1-1.2l-4.7 3.5l-0.3 2.1l5.2 4.2zM707 624.2l-1.2 7l1.5 1.8l7.5-4.2l0.2-2.3l-3.4-3.3zM671.8 624.1l0.1 1.1l4.9 4.7l5.6-0.9l0.6-4.1l-4.5-5.3l-1.5 0.1zM707.6 635.3l2.6 2.6l5.1 0.6l4-4.7l-4.5-5l-7.5 4.2zM678.6 609.9l-5.7 0.2l-0.8 4.3l4.9 5.3l1.5-0.1l1.7-2.7zM715.3 638.5l-5.1-0.6l-2.2 7.6l5.7 1.8l4.1-2.9zM724.5 625.5l-4.8 8.3l5.6 2.9l3.9-3.3l-0.3-5.3zM676.8 629.9l-3.6 6.3l8.2 2.5l1-9.7zM712 658.6l5.9 1.6l2.3-2.7l-0.6-3.5l-5.9-1.7l-2 1.6zM218.8 340.5l0 2.3l17.1 3.9l2.4-8.6l-12.5-3.1l-1.6 5.5zM615.2 678.7l0-6l-6.1 0l0 4.5l4.6 0l0 1.5zM779.1 746.1l4.4 3.7l12.5 0l0-11.2l-17.6 0l0 6.7zM834 448l0-7l-6 0l0 7z"/><path fill="#d12229" d="M704.8 622.1l-7.3 2l4 6.4l4.3 0.7l1.2-7zM688.4 621.6l0.3-2.1l-3.6-3.9l-4.9 1.3l-1.7 2.7l4.5 5.3zM713.7 647.3l0 5l5.9 1.7l2.1-2.9l-3.9-6.7zM708 645.5l-0.9 0.5l-1.6 4.9l0.7 1.5l5.5 1.5l2-1.6l0-5zM707 662.2l-2.7-5.4l-5.1 0.2l-3 4.8l0.7 2.2l9.6-1.3zM157.1 375.2l0-3.9l1.2-0.5l0.7-2.5l-5.8-1.9l-1.9 7.8zM132.8 396.6l2.8 0l4.6 4.6l1.3-0.7l1.9-9.7l-1.9-5.9l-6.9 7.8l-1.8 3.7zM615.2 672.7l0-1.5l3.8 0l0-6.1l-8.4 0l0 7.6zM619.7 678.7l0-7.5l-4.5 0l0 7.5z"/><path fill="#b71f25" d="M693.4 616l-1-3.4l-5-1.9l-1 0.4l-1.3 4.5l3.6 3.9zM720.8 623.4l-5.8 3.1l-0.2 2.3l4.5 5l0.4 0l4.8-8.3l-0.6-1.4zM686.4 611.1l-6.2-2.6l-1.6 1.4l1.6 7l4.9-1.3zM708.4 662l3.6-3.4l-0.3-4.7l-5.5-1.5l-1.9 4.4l2.7 5.4zM691.4 658.8l0.9-6.3l-1.7-1.5l-7 1.6l1.3 5.7l2.7 1.5zM683.6 652.6l-2.9-2.3l-3.3 2.2l-0.6 7.8l3 1l5.1-3zM706.2 652.4l-0.7-1.5l-6.9-0.9l-1.4 1.9l2 5.1l5.1-0.2zM672.6 667.8l-4.8 5l1.7 4.7l6.2-0.4l3.1-6.1z"/><path fill="#a81c21" d="M696.5 617.2l1.2 6.6l7.1-1.7l0.1-4.1l-3.9-3.4zM701.5 630.5l-4.1 3.1l0.1 3.9l3.9 1.9l6.2-4.1l-0.3-2.3l-1.5-1.8zM701.5 630.5l-4-6.4l-3.9 1.7l-1.5 4.5l5.3 3.3zM694 639.6l3.5-2.1l-0.1-3.9l-5.3-3.3l-2.7 1.6l-0.1 5.7zM719.7 633.8l-4.4 4.7l2.6 5.5l8.2-2.2l-0.8-5.1zM690.6 646.5l3.7-2.3l-0.3-4.6l-4.7-2l-3.2 2.4l0.7 4.1zM672.3 652.1l5.1 0.4l3.3-2.2l-2.5-5.1l-6.9-1.9l-0.4 0.3l-1.2 4.5zM672.3 652.1l-2.6-4l-5.1 1.7l-2.2 5.4l7.1 1.3zM680.7 650.3l2.9 2.3l7-1.6l0-4.5l-3.8-2.4l-6.1 5.7zM672.3 652.1l-2.8 4.4l2.6 5.7l4.7-1.9l0.6-7.8zM669.5 656.5l-7.1-1.3l-0.9 0.5l3 8l7.1-0.5l0.5-1zM700.5 671.3l-0.6 1.5l3.1 6.5l2.3 0.4l3.6-2.6l0.4-4.7l-3.4-2.4zM662.2 666.6l2.3-2.9l-3-8l-1.8 0l-4.5 8.9l0.9 1.4zM655.2 664.6l4.5-8.9l-3.4-2.3l-6.4 4.3l3.1 6.1zM667.8 672.8l-3.4-1.3l-5.6 4.2l2.5 3.2l2.5-1.1l4.9-0.3l0.5-0.2zM150.3 373.2l2.5-5l0.4-1.8l0-1l0-4.9l0-1l-2.7 0l-1.7 3.4l-3.4 10.3zM141.5 400.5l7.6 3.9l11.9-1.9l0 0.3l5.9-2.3l0-5.8l-7.9-2l-4.8-3.9l-6.9-8.8l-5.8 1l1.9 9.8zM247.7 354.5l10.1-0.7l1.6-14.1l-8.6-0.8l-0.8 3.9z"/><path fill="#90191b" d="M659.7 655.7l1.8 0l0.9-0.5l2.2-5.4l-3.4-4.7l-4 1l-1.9 4.8l1 2.5zM679.8 661.3l-3-1l-4.7 1.9l-0.5 1l1 4.6l6.2 3.2l1.5-0.3l1.9-2.1zM662.2 666.6l2.2 4.9l3.4 1.3l4.8-5l-1-4.6l-7.1 0.5zM147.3 380l6.9 8.8l4.8 3.9l7.9 2l2.9-3.9l4.9-9.8l-10.8-3.9l-6.8 0l-5.8-2.9l-7.3-0.9l-1.5 3.4l-1 4.3z"/></g>
<polygon points="605.1,346.7 610.6,339.1 621.5,326.8 632.5,328.9 643.4,328.9 655.7,341.9 663.9,342.6 669.4,361.0 673.5,366.5 676.2,367.9 666.6,363.8 655.7,367.2 642.0,372.0 636.6,370.6 627.0,366.5 624.3,359.6 631.1,354.9 625.6,355.5 620.2,361.0 617.4,365.1 605.1,372.0 596.9,374.7 591.4,369.2 575.0,373.3 594.2,352.8" fill="#ffffff" stroke="#000" stroke-width="0.5"/>
<polygon points="648.1,383.4 634.1,408.4 643.4,400.6 641.9,414.7 638.8,430.3 640.3,447.5 645.0,460.0 649.7,464.7 657.5,460.0 661.4,447.5 657.5,433.4 654.4,416.2 659.0,402.2 663.8,394.4 670.0,385.0 673.1,378.8 663.8,378.8 655.9,381.9" fill="#ffffff" stroke="#000" stroke-width="0.5"/>
<polygon points="672.0,379.0 680.7,372.7 697.3,369.8 726.6,369.8 742.3,387.3 740.3,394.2 730.5,393.2 720.8,389.3 721.8,399.0 720.8,418.6 718.8,424.5 713.0,430.3 711.0,438.1 707.1,447.9 704.2,453.8 708.1,446.0 713.0,438.1 713.0,428.4 710.0,420.5 704.2,410.8 698.3,411.8 691.5,418.6 692.5,414.7 696.4,408.8 696.4,392.2 692.5,387.3 680.0,381.0" fill="#ffffff" stroke="#000" stroke-width="0.5"/>
<polygon points="704.2,453.8 707.1,457.7 718.8,457.7 732.5,447.9 748.1,438.1 759.8,428.4 759.8,422.5 757.9,424.5 742.3,428.4 728.6,434.2 724.7,438.1 716.9,446.0 709.1,449.8" fill="#ffffff" stroke="#000" stroke-width="0.5"/>
<polygon points="750.0,413.0 751.0,408.8 757.9,404.9 770.0,400.0 785.1,395.7 792.0,388.9 794.7,395.7 793.3,401.2 781.0,408.0 767.7,411.8 758.9,415.7 750.1,416.6" fill="#ffffff" stroke="#000" stroke-width="0.5"/>
<polygon points="814.1,480.8 816.7,478.2 815.4,487.1 819.2,496.0 823.0,501.1 825.5,508.7 828.1,518.9 825.5,521.4 821.7,511.2 819.2,503.6 814.1,493.5 812.9,485.9" fill="#ffffff" stroke="#000" stroke-width="0.5"/>
<polygon points="826.8,473.2 835.7,477.0 838.2,483.3 834.4,482.0 828.1,478.2" fill="#ffffff" stroke="#000" stroke-width="0.5"/>
<polygon points="829.0,542.0 839.5,542.5 841.5,551.0 836.5,557.0 833.0,549.0" fill="#ffffff" stroke="#000" stroke-width="0.5"/>
<polygon points="696.4,377.6 713.0,373.7 712.0,380.5 701.2,379.5" fill="#d3d3d3"/>
<g fill="#dff2fb" stroke="#000" stroke-width="0.8"><path d="M145.3 574.6L150 576.5L156 577.8L161.7 579.3L156 578.6L150 577.6Z"/><path d="M155.6 592.8L157 593.8L156.4 594.2Z"/><path d="M171 591.8L175.5 595.8L174.5 596.3L170.8 592.6Z"/><path d="M169.3 600L172.6 605.3L171.8 605.6L168.8 600.6Z"/><path d="M783.2 776.2L792.8 770.7L791.5 772.5L784 776.8Z"/></g>
<g fill="none" stroke="#d3d3d3" stroke-width="1.6" stroke-linejoin="round"><path d="M827 725L832 728L842 722.9L846.1 725"/><path d="M850.2 718.8L857.1 722.9L857.1 729.7"/></g>
</g>
<rect x="110.3" y="260" width="876" height="533" fill="none" stroke="#000" stroke-width="1.5"/>
<path d="M230.4 260V242 M414.5 260V242 M592.4 260V242 M777.0 260V242 M977.3 260V242 M986.3 308.1H1004 M986.3 411.3H1004 M986.3 513.3H1004 M986.3 615.2H1004 M986.3 717.1H1004 M110.3 347.1H92.8 M110.3 447.5H92.8 M110.3 546H92.8 M110.3 645.8H92.8 M110.3 746.4H92.8 M282.8 793V809.5 M461.2 793V809.5 M639.5 793V809.5 M821.3 793V809.5" stroke="#000" stroke-width="1.3" fill="none"/>
<text x="75" y="356.0" font-size="26" text-anchor="end">45°N</text>
<text x="75" y="456.2" font-size="26" text-anchor="end">40°N</text>
<text x="75" y="555.5" font-size="26" text-anchor="end">35°N</text>
<text x="75" y="655.0" font-size="26" text-anchor="end">30°N</text>
<text x="75" y="755.2" font-size="26" text-anchor="end">25°N</text>
<text x="282.8" y="837.5" font-size="26.5" text-anchor="middle">110°W</text>
<text x="461.2" y="837.5" font-size="26.5" text-anchor="middle">100°W</text>
<text x="639.5" y="837.5" font-size="26.5" text-anchor="middle">90°W</text>
<text x="821.3" y="837.5" font-size="26.5" text-anchor="middle">80°W</text>
<rect x="219.90" y="872.8" width="33.17" height="41.8" fill="#dff2fb"/>
<rect x="252.77" y="872.8" width="33.17" height="41.8" fill="#bfe6f8"/>
<rect x="285.64" y="872.8" width="33.17" height="41.8" fill="#9cd8f4"/>
<rect x="318.51" y="872.8" width="33.17" height="41.8" fill="#80bfe6"/>
<rect x="351.39" y="872.8" width="33.17" height="41.8" fill="#66a7da"/>
<rect x="384.26" y="872.8" width="33.17" height="41.8" fill="#4a8bc9"/>
<rect x="417.13" y="872.8" width="33.17" height="41.8" fill="#4a9b9d"/>
<rect x="450.00" y="872.8" width="33.17" height="41.8" fill="#4ba56c"/>
<rect x="482.87" y="872.8" width="33.17" height="41.8" fill="#4bb548"/>
<rect x="515.74" y="872.8" width="33.17" height="41.8" fill="#84c44d"/>
<rect x="548.61" y="872.8" width="33.17" height="41.8" fill="#c3d655"/>
<rect x="581.49" y="872.8" width="33.17" height="41.8" fill="#f8e55b"/>
<rect x="614.36" y="872.8" width="33.17" height="41.8" fill="#f8bc4b"/>
<rect x="647.23" y="872.8" width="33.17" height="41.8" fill="#f7943e"/>
<rect x="680.10" y="872.8" width="33.17" height="41.8" fill="#f36b2d"/>
<rect x="712.97" y="872.8" width="33.17" height="41.8" fill="#e8522c"/>
<rect x="745.84" y="872.8" width="33.17" height="41.8" fill="#dc3a27"/>
<rect x="778.71" y="872.8" width="33.17" height="41.8" fill="#d12229"/>
<rect x="811.59" y="872.8" width="33.17" height="41.8" fill="#b71f25"/>
<rect x="844.46" y="872.8" width="33.17" height="41.8" fill="#a81c21"/>
<rect x="877.33" y="872.8" width="33.17" height="41.8" fill="#90191b"/>
<text x="223.8" y="942.5" font-size="20" text-anchor="middle">0.0</text>
<text x="289.2" y="942.5" font-size="20" text-anchor="middle">2.0</text>
<text x="354.6" y="942.5" font-size="20" text-anchor="middle">4.0</text>
<text x="420.0" y="942.5" font-size="20" text-anchor="middle">6.0</text>
<text x="485.4" y="942.5" font-size="20" text-anchor="middle">8.0</text>
<text x="550.8" y="942.5" font-size="20" text-anchor="middle">10.0</text>
<text x="616.2" y="942.5" font-size="20" text-anchor="middle">14.0</text>
<text x="681.6" y="942.5" font-size="20" text-anchor="middle">18.0</text>
<text x="747.0" y="942.5" font-size="20" text-anchor="middle">25.0</text>
<text x="812.4" y="942.5" font-size="20" text-anchor="middle">35.0</text>
<text x="877.8" y="942.5" font-size="20" text-anchor="middle">45.0</text>
</svg></body></html>
